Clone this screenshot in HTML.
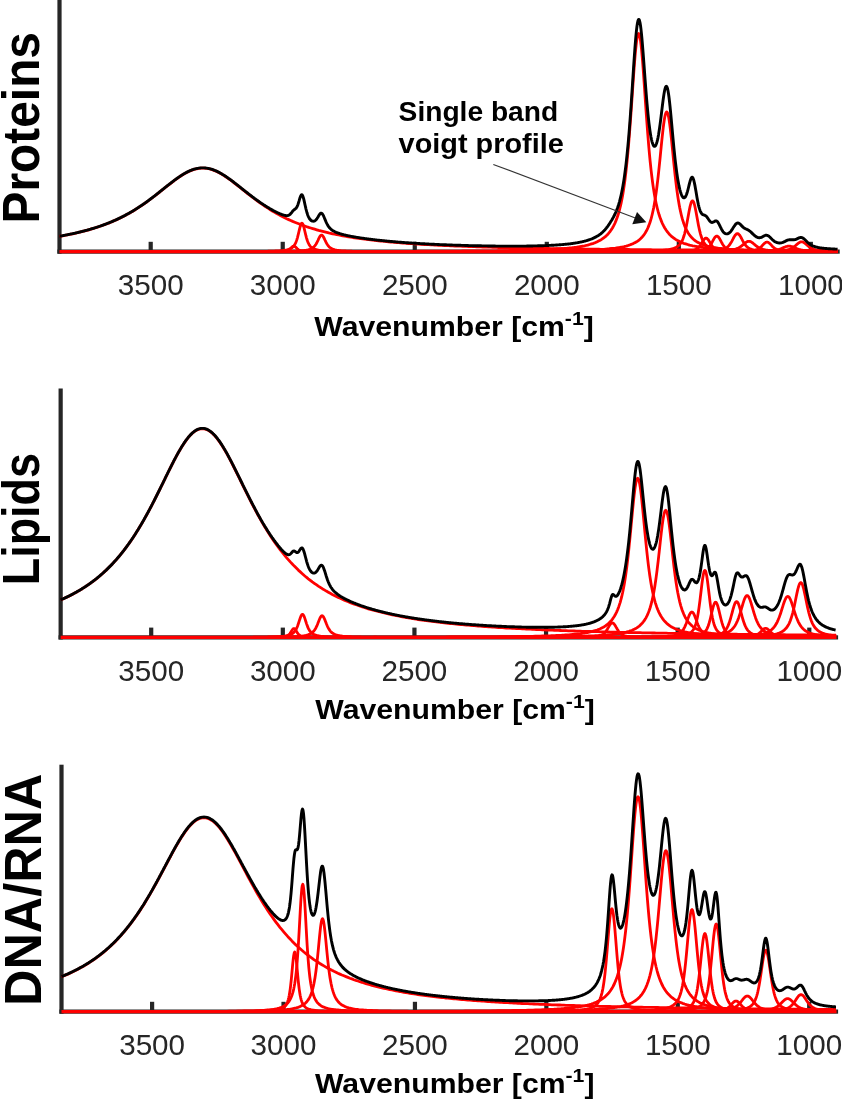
<!DOCTYPE html><html><head><meta charset="utf-8"><title>Spectra</title><style>html,body{margin:0;padding:0;background:#fff}svg{display:block;will-change:transform}text{font-family:"Liberation Sans",sans-serif}</style></head><body>
<svg width="842" height="1101" viewBox="0 0 842 1101">
<rect width="842" height="1101" fill="#fff"/>
<!-- panel Proteins -->
<rect x="57.40" y="-5" width="4.2" height="258.7" fill="#262626"/>
<rect x="57.40" y="249.5" width="782.30" height="4.2" fill="#262626"/>
<rect x="148.60" y="241.8" width="4.2" height="9.8" fill="#262626"/>
<text x="150.7" y="294.9" font-size="29.6" text-anchor="middle" fill="#262626">3500</text>
<rect x="280.63" y="241.8" width="4.2" height="9.8" fill="#262626"/>
<text x="282.7" y="294.9" font-size="29.6" text-anchor="middle" fill="#262626">3000</text>
<rect x="412.66" y="241.8" width="4.2" height="9.8" fill="#262626"/>
<text x="414.8" y="294.9" font-size="29.6" text-anchor="middle" fill="#262626">2500</text>
<rect x="544.69" y="241.8" width="4.2" height="9.8" fill="#262626"/>
<text x="546.8" y="294.9" font-size="29.6" text-anchor="middle" fill="#262626">2000</text>
<rect x="676.72" y="241.8" width="4.2" height="9.8" fill="#262626"/>
<text x="678.8" y="294.9" font-size="29.6" text-anchor="middle" fill="#262626">1500</text>
<rect x="808.75" y="241.8" width="4.2" height="9.8" fill="#262626"/>
<text x="810.9" y="294.9" font-size="29.6" text-anchor="middle" fill="#262626">1000</text>
<path d="M59.5,251.6 L838.0,251.6" fill="none" stroke="#ff0000" stroke-width="3.4"/>
<path d="M59.5,236.3 60.7,236.1 62.7,235.8 64.7,235.4 66.7,235 68.7,234.6 70.7,234.2 72.7,233.8 74.7,233.3 76.7,232.9 78.7,232.4 80.7,231.9 82.7,231.4 84.7,230.9 86.7,230.4 88.7,229.8 90.7,229.2 92.7,228.6 94.7,228 96.7,227.4 98.7,226.7 100.7,226 102.7,225.3 104.7,224.6 106.7,223.8 108.7,223.1 110.7,222.2 112.7,221.4 114.7,220.5 116.7,219.6 118.7,218.7 120.7,217.7 122.7,216.7 124.7,215.7 126.7,214.6 128.7,213.5 130.7,212.4 132.7,211.2 134.7,210 136.7,208.7 138.7,207.4 140.7,206.1 142.7,204.8 144.7,203.4 146.7,202 148.7,200.5 150.7,199 152.7,197.5 154.7,196 156.7,194.4 158.7,192.8 160.7,191.2 162.7,189.6 164.7,188 166.7,186.4 168.7,184.9 170.7,183.3 172.7,181.8 174.7,180.2 176.7,178.8 178.7,177.4 180.7,176 182.7,174.8 184.7,173.6 186.7,172.5 188.7,171.5 190.7,170.6 192.7,169.9 194.7,169.2 196.7,168.8 198.7,168.4 200.7,168.2 202.7,168.1 204.7,168.2 206.7,168.4 208.7,168.7 210.7,169.2 212.7,169.9 214.7,170.6 216.7,171.5 218.7,172.5 220.7,173.6 222.7,174.7 224.7,176 226.7,177.4 228.7,178.8 230.7,180.2 232.7,181.7 234.7,183.3 236.7,184.8 238.7,186.4 240.7,188 242.7,189.6 244.7,191.2 246.7,192.8 248.7,194.4 250.7,195.9 252.7,197.5 254.7,199 256.7,200.5 258.7,201.9 260.7,203.4 262.7,204.7 264.7,206.1 266.7,207.4 268.7,208.7 270.7,210 272.7,211.2 274.7,212.3 276.7,213.5 278.7,214.6 280.7,215.7 282.7,216.7 284.7,217.7 286.7,218.7 288.7,219.6 290.7,220.5 292.7,221.4 294.7,222.2 296.7,223 298.7,223.8 300.7,224.6 302.7,225.3 304.7,226 306.7,226.7 308.7,227.4 310.7,228 312.7,228.6 314.7,229.2 316.7,229.8 318.7,230.4 320.7,230.9 322.7,231.4 324.7,231.9 326.7,232.4 328.7,232.9 330.7,233.3 332.7,233.8 334.7,234.2 336.7,234.6 338.7,235 340.7,235.4 342.7,235.8 344.7,236.1 346.7,236.5 348.7,236.8 350.7,237.1 352.7,237.5 354.7,237.8 356.7,238.1 358.7,238.4 360.7,238.6 362.7,238.9 364.7,239.2 366.7,239.4 368.7,239.7 370.7,239.9 372.7,240.2 374.7,240.4 376.7,240.6 378.7,240.8 380.7,241 382.7,241.2 384.7,241.4 386.7,241.6 388.7,241.8 390.7,242 392.7,242.2 394.7,242.4 396.7,242.5 398.7,242.7 400.7,242.9 402.7,243 404.7,243.2 406.7,243.3 408.7,243.5 410.7,243.6 412.7,243.7 414.7,243.9 416.7,244 418.7,244.1 420.7,244.3 422.7,244.4 424.7,244.5 426.7,244.6 428.7,244.7 430.7,244.8 432.7,244.9 434.7,245 436.7,245.2 438.7,245.3 440.7,245.4 442.7,245.4 444.7,245.5 446.7,245.6 448.7,245.7 450.7,245.8 452.7,245.9 454.7,246 456.7,246.1 458.7,246.1 460.7,246.2 462.7,246.3 464.7,246.4 466.7,246.4 468.7,246.5 470.7,246.6 472.7,246.7 474.7,246.7 476.7,246.8 478.7,246.9 480.7,246.9 482.7,247 484.7,247.1 486.7,247.1 488.7,247.2 490.7,247.2 492.7,247.3 494.7,247.3 496.7,247.4 498.7,247.5 500.7,247.5 502.7,247.6 504.7,247.6 506.7,247.7 508.7,247.7 510.7,247.8 512.7,247.8 514.7,247.8 516.7,247.9 518.7,247.9 520.7,248 522.7,248 524.7,248.1 526.7,248.1 528.7,248.1 530.7,248.2 532.7,248.2 534.7,248.3 536.7,248.3 538.7,248.3 540.7,248.4 542.7,248.4 544.7,248.5 546.7,248.5 548.7,248.5 550.7,248.6 552.7,248.6 554.7,248.6 556.7,248.7 558.7,248.7 560.7,248.7 562.7,248.7 564.7,248.8 566.7,248.8 568.7,248.8 570.7,248.9 572.7,248.9 574.7,248.9 576.7,249 578.7,249 580.7,249 582.7,249 584.7,249.1 586.7,249.1 588.7,249.1 590.7,249.1 592.7,249.2 594.7,249.2 596.7,249.2 598.7,249.2 600.7,249.3 602.7,249.3 604.7,249.3 606.7,249.3 608.7,249.3 610.7,249.4 612.7,249.4 614.7,249.4 616.7,249.4 618.7,249.4 620.7,249.5 622.7,249.5 624.7,249.5 626.7,249.5 628.7,249.5 630.7,249.6 632.7,249.6 634.7,249.6 636.7,249.6 638.7,249.6 640.7,249.7 642.7,249.7 644.7,249.7 646.7,249.7 648.7,249.7 650.7,249.7 652.7,249.8 654.7,249.8 656.7,249.8 658.7,249.8 660.7,249.8 662.7,249.8 664.7,249.8 666.7,249.9 668.7,249.9 670.7,249.9 672.7,249.9 674.7,249.9 676.7,249.9 678.7,249.9 680.7,250 682.7,250 684.7,250 686.7,250 688.7,250 690.7,250 692.7,250 694.7,250 696.7,250.1 698.7,250.1 700.7,250.1 702.7,250.1 704.7,250.1 706.7,250.1 708.7,250.1 710.7,250.1 712.7,250.2 714.7,250.2 716.7,250.2 718.7,250.2 720.7,250.2 722.7,250.2 724.7,250.2 726.7,250.2 728.7,250.2 730.7,250.3 732.7,250.3 734.7,250.3 736.7,250.3 738.7,250.3 740.7,250.3 742.7,250.3 744.7,250.3 746.7,250.3 748.7,250.3 750.7,250.3 752.7,250.4 754.7,250.4 756.7,250.4 758.7,250.4 760.7,250.4 762.7,250.4 764.7,250.4 766.7,250.4 768.7,250.4 770.7,250.4 772.7,250.4 774.7,250.4 776.7,250.5 778.7,250.5 780.7,250.5 782.7,250.5 784.7,250.5 786.7,250.5 788.7,250.5 790.7,250.5 792.7,250.5 794.7,250.5 796.7,250.5 798.7,250.5 800.7,250.5 802.7,250.6 804.7,250.6 806.7,250.6 808.7,250.6 810.7,250.6 812.7,250.6 814.7,250.6 816.7,250.6 818.7,250.6 820.7,250.6 822.7,250.6 824.7,250.6 826.7,250.6 828.7,250.6 830.7,250.6 832.7,250.6 834.7,250.7 836.7,250.7 837.5,250.7" fill="none" stroke="#ff0000" stroke-width="2.8" stroke-linejoin="round"/>
<path d="M276.8,251.5 277.3,251.4 278.3,251.4 279.3,251.4 280.3,251.4 281.3,251.3 281.8,251.3 282.3,251.3 282.8,251.3 283.3,251.2 283.8,251.2 284.3,251.1 284.8,251.1 285.3,251 285.8,250.9 286.3,250.8 286.8,250.7 287.3,250.6 287.8,250.4 288.3,250.2 288.8,249.9 289.3,249.6 289.8,249.2 290.3,248.8 290.8,248.3 291.3,247.8 291.8,247.3 292.3,246.8 292.8,246.4 293.3,246.2 293.8,246.1 294.3,246.2 294.8,246.4 295.3,246.8 295.8,247.2 296.3,247.8 296.8,248.3 297.3,248.8 297.8,249.2 298.3,249.6 298.8,249.9 299.3,250.2 299.8,250.4 300.3,250.6 300.8,250.7 301.3,250.8 301.8,250.9 302.3,251 302.8,251.1 303.3,251.1 303.8,251.2 304.3,251.2 304.8,251.2 305.3,251.3 305.8,251.3 306.3,251.3 307.3,251.4 308.3,251.4 309.3,251.4 310.3,251.4 310.9,251.5" fill="none" stroke="#ff0000" stroke-width="2.8" stroke-linejoin="round"/>
<path d="M252,251.4 252.9,251.4 255.4,251.4 257.9,251.4 260.4,251.4 261.4,251.4 262.4,251.3 263.4,251.3 264.4,251.3 265.4,251.3 266.4,251.3 267.4,251.3 268.4,251.2 269.4,251.2 270.4,251.2 271.4,251.2 272.4,251.1 273.4,251.1 274.4,251.1 275.4,251 276.4,251 277.4,250.9 278.4,250.9 279.4,250.8 280.4,250.7 281.4,250.7 282.4,250.6 283.4,250.4 284.4,250.3 285.4,250.2 286.4,250 286.9,249.9 287.4,249.7 287.9,249.6 288.4,249.5 288.9,249.3 289.4,249.1 289.9,248.9 290.4,248.7 290.9,248.4 291.4,248.1 291.9,247.8 292.4,247.4 292.9,247 293.4,246.4 293.9,245.8 294.4,245.1 294.9,244.3 295.4,243.4 295.9,242.2 296.4,240.9 296.9,239.5 297.4,237.8 297.9,235.9 298.4,233.9 298.9,231.7 299.4,229.6 299.9,227.6 300.4,225.8 300.9,224.4 301.4,223.4 301.9,223.1 302.4,223.4 302.9,224.2 303.4,225.6 303.9,227.3 304.4,229.4 304.9,231.5 305.4,233.6 305.9,235.7 306.4,237.6 306.9,239.3 307.4,240.8 307.9,242.1 308.4,243.2 308.9,244.2 309.4,245.1 309.9,245.8 310.4,246.4 310.9,246.9 311.4,247.4 311.9,247.7 312.4,248.1 312.9,248.4 313.4,248.7 313.9,248.9 314.4,249.1 314.9,249.3 315.4,249.4 315.9,249.6 316.4,249.7 316.9,249.8 317.4,250 318.4,250.1 319.4,250.3 320.4,250.4 321.4,250.6 322.4,250.7 323.4,250.7 324.4,250.8 325.4,250.9 326.4,250.9 327.4,251 328.4,251 329.4,251.1 330.4,251.1 331.4,251.1 332.4,251.2 333.4,251.2 334.4,251.2 335.4,251.2 336.4,251.3 337.4,251.3 338.4,251.3 339.4,251.3 340.4,251.3 341.4,251.3 342.4,251.4 343.4,251.4 345.9,251.4 348.4,251.4 350.9,251.4 351.9,251.4" fill="none" stroke="#ff0000" stroke-width="2.8" stroke-linejoin="round"/>
<path d="M277.9,251.4 278.5,251.4 279.5,251.4 280.5,251.4 281.5,251.4 282.5,251.4 283.5,251.4 284.5,251.4 285.5,251.3 286.5,251.3 287.5,251.3 288.5,251.3 289.5,251.3 290.5,251.3 291.5,251.2 292.5,251.2 293.5,251.2 294.5,251.1 295.5,251.1 296.5,251.1 297.5,251 298.5,251 299.5,250.9 300.5,250.9 301.5,250.8 302.5,250.7 303.5,250.6 304,250.5 304.5,250.5 305,250.4 305.5,250.4 306,250.3 306.5,250.2 307,250.1 307.5,250 308,249.9 308.5,249.7 309,249.6 309.5,249.5 310,249.3 310.5,249.1 311,248.9 311.5,248.6 312,248.3 312.5,248 313,247.6 313.5,247.2 314,246.8 314.5,246.2 315,245.6 315.5,244.9 316,244.2 316.5,243.3 317,242.3 317.5,241.3 318,240.3 318.5,239.2 319,238.2 319.5,237.2 320,236.3 320.5,235.7 321,235.3 321.5,235.1 322,235.2 322.5,235.6 323,236.2 323.5,237 324,238 324.5,239 325,240.1 325.5,241.1 326,242.2 326.5,243.1 327,244 327.5,244.8 328,245.5 328.5,246.1 329,246.7 329.5,247.2 330,247.6 330.5,247.9 331,248.3 331.5,248.6 332,248.8 332.5,249 333,249.2 333.5,249.4 334,249.6 334.5,249.7 335,249.9 335.5,250 336,250.1 336.5,250.2 337,250.3 337.5,250.3 338,250.4 338.5,250.5 339,250.5 339.5,250.6 340.5,250.7 341.5,250.8 342.5,250.9 343.5,250.9 344.5,251 345.5,251 346.5,251.1 347.5,251.1 348.5,251.1 349.5,251.2 350.5,251.2 351.5,251.2 352.5,251.3 353.5,251.3 354.5,251.3 355.5,251.3 356.5,251.3 357.5,251.3 358.5,251.4 359.5,251.4 360.5,251.4 361.5,251.4 362.5,251.4 363.5,251.4 364.5,251.4 365.2,251.4" fill="none" stroke="#ff0000" stroke-width="2.8" stroke-linejoin="round"/>
<path d="M593.3,251.5 593.5,251.5 594,251.5 594.5,251.4 595,251.4 595.5,251.4 596,251.4 596.5,251.4 597,251.4 597.5,251.4 598,251.3 598.5,251.3 599,251.3 599.5,251.3 600,251.2 600.5,251.2 601,251.2 601.5,251.1 602,251.1 602.5,251 603,250.9 603.5,250.8 604,250.7 604.5,250.6 605,250.5 605.5,250.4 606,250.2 606.5,250.1 607,249.9 607.5,249.7 608,249.5 608.5,249.4 609,249.2 609.5,249 610,248.9 610.5,248.8 611,248.7 611.5,248.6 612,248.6 612.5,248.6 613,248.7 613.5,248.8 614,248.9 614.5,249 615,249.2 615.5,249.4 616,249.5 616.5,249.7 617,249.9 617.5,250.1 618,250.2 618.5,250.4 619,250.5 619.5,250.6 620,250.7 620.5,250.8 621,250.9 621.5,251 622,251.1 622.5,251.1 623,251.2 623.5,251.2 624,251.2 624.5,251.3 625,251.3 625.5,251.3 626,251.3 626.5,251.4 627,251.4 627.5,251.4 628,251.4 628.5,251.4 629,251.4 629.5,251.4 630,251.5 630.5,251.5 630.7,251.5" fill="none" stroke="#ff0000" stroke-width="2.8" stroke-linejoin="round"/>
<path d="M328.4,251.4 330.1,251.4 336.1,251.4 342.1,251.4 348.1,251.4 354.1,251.4 360.1,251.4 366.1,251.4 372.1,251.4 378.1,251.3 384.1,251.3 390.1,251.3 396.1,251.3 402.1,251.3 408.1,251.3 410.6,251.3 413.1,251.3 415.6,251.3 418.1,251.2 420.6,251.2 423.1,251.2 425.6,251.2 428.1,251.2 430.6,251.2 433.1,251.2 435.6,251.2 438.1,251.2 440.6,251.2 443.1,251.1 445.6,251.1 448.1,251.1 450.6,251.1 453.1,251.1 455.6,251.1 458.1,251.1 460.6,251.1 463.1,251 465.6,251 468.1,251 470.6,251 473.1,251 475.6,251 478.1,250.9 480.6,250.9 483.1,250.9 485.6,250.9 488.1,250.8 490.6,250.8 493.1,250.8 495.6,250.8 498.1,250.7 500.6,250.7 503.1,250.7 505.6,250.6 508.1,250.6 510.6,250.5 513.1,250.5 515.6,250.5 518.1,250.4 520.6,250.4 523.1,250.3 525.6,250.3 528.1,250.2 530.6,250.1 533.1,250.1 535.6,250 538.1,249.9 540.6,249.8 543.1,249.7 545.6,249.6 546.6,249.6 547.6,249.5 548.6,249.5 549.6,249.4 550.6,249.4 551.6,249.3 552.6,249.3 553.6,249.2 554.6,249.2 555.6,249.1 556.6,249 557.6,249 558.6,248.9 559.6,248.9 560.6,248.8 561.6,248.7 562.6,248.6 563.6,248.6 564.6,248.5 565.6,248.4 566.6,248.3 567.6,248.2 568.6,248.1 569.6,248 570.6,247.9 571.6,247.8 572.6,247.7 573.6,247.6 574.6,247.4 575.6,247.3 576.6,247.2 577.6,247 578.6,246.9 579.6,246.7 580.6,246.5 581.6,246.4 582.6,246.2 583.6,246 584.6,245.8 585.6,245.5 586.6,245.3 587.6,245.1 588.6,244.8 589.6,244.5 590.6,244.2 591.6,243.9 592.6,243.6 593.6,243.3 594.6,242.9 595.6,242.5 596.6,242 597.6,241.6 598.6,241.1 599.6,240.6 600.6,240 601.6,239.4 602.6,238.7 603.6,238 604.1,237.6 604.6,237.2 605.1,236.8 605.6,236.4 606.1,235.9 606.6,235.4 607.1,235 607.6,234.4 608.1,233.9 608.6,233.3 609.1,232.7 609.6,232.1 610.1,231.5 610.6,230.8 611.1,230.1 611.6,229.3 612.1,228.5 612.6,227.7 613.1,226.8 613.6,225.9 614.1,224.9 614.6,223.9 615.1,222.8 615.6,221.6 616.1,220.4 616.6,219.1 617.1,217.7 617.6,216.3 618.1,214.8 618.6,213.1 619.1,211.4 619.6,209.5 620.1,207.5 620.6,205.4 621.1,203.2 621.6,200.8 622.1,198.2 622.6,195.5 623.1,192.5 623.6,189.4 624.1,186.1 624.6,182.5 625.1,178.7 625.6,174.6 626.1,170.3 626.6,165.7 627.1,160.8 627.6,155.6 628.1,150.1 628.6,144.3 629.1,138.2 629.6,131.8 630.1,125.2 630.6,118.3 631.1,111.3 631.6,104.1 632.1,96.8 632.6,89.5 633.1,82.2 633.6,75.1 634.1,68.2 634.6,61.7 635.1,55.7 635.6,50.1 636.1,45.3 636.6,41.2 637.1,37.9 637.6,35.5 638.1,34 638.6,33.5 639.1,34 639.6,35.5 640.1,37.9 640.6,41.2 641.1,45.3 641.6,50.1 642.1,55.7 642.6,61.7 643.1,68.2 643.6,75.1 644.1,82.2 644.6,89.5 645.1,96.8 645.6,104.1 646.1,111.3 646.6,118.3 647.1,125.2 647.6,131.8 648.1,138.2 648.6,144.3 649.1,150.1 649.6,155.6 650.1,160.8 650.6,165.7 651.1,170.3 651.6,174.6 652.1,178.7 652.6,182.5 653.1,186.1 653.6,189.4 654.1,192.5 654.6,195.5 655.1,198.2 655.6,200.8 656.1,203.2 656.6,205.4 657.1,207.5 657.6,209.5 658.1,211.4 658.6,213.1 659.1,214.8 659.6,216.3 660.1,217.7 660.6,219.1 661.1,220.4 661.6,221.6 662.1,222.8 662.6,223.9 663.1,224.9 663.6,225.9 664.1,226.8 664.6,227.7 665.1,228.5 665.6,229.3 666.1,230.1 666.6,230.8 667.1,231.5 667.6,232.1 668.1,232.7 668.6,233.3 669.1,233.9 669.6,234.4 670.1,235 670.6,235.4 671.1,235.9 671.6,236.4 672.1,236.8 672.6,237.2 673.1,237.6 673.6,238 674.6,238.7 675.6,239.4 676.6,240 677.6,240.6 678.6,241.1 679.6,241.6 680.6,242 681.6,242.5 682.6,242.9 683.6,243.3 684.6,243.6 685.6,243.9 686.6,244.2 687.6,244.5 688.6,244.8 689.6,245.1 690.6,245.3 691.6,245.5 692.6,245.8 693.6,246 694.6,246.2 695.6,246.4 696.6,246.5 697.6,246.7 698.6,246.9 699.6,247 700.6,247.2 701.6,247.3 702.6,247.4 703.6,247.6 704.6,247.7 705.6,247.8 706.6,247.9 707.6,248 708.6,248.1 709.6,248.2 710.6,248.3 711.6,248.4 712.6,248.5 713.6,248.6 714.6,248.6 715.6,248.7 716.6,248.8 717.6,248.9 718.6,248.9 719.6,249 720.6,249 721.6,249.1 722.6,249.2 723.6,249.2 724.6,249.3 725.6,249.3 726.6,249.4 727.6,249.4 728.6,249.5 729.6,249.5 730.6,249.6 731.6,249.6 734.1,249.7 736.6,249.8 739.1,249.9 741.6,250 744.1,250.1 746.6,250.1 749.1,250.2 751.6,250.3 754.1,250.3 756.6,250.4 759.1,250.4 761.6,250.5 764.1,250.5 766.6,250.5 769.1,250.6 771.6,250.6 774.1,250.7 776.6,250.7 779.1,250.7 781.6,250.8 784.1,250.8 786.6,250.8 789.1,250.8 791.6,250.9 794.1,250.9 796.6,250.9 799.1,250.9 801.6,251 804.1,251 806.6,251 809.1,251 811.6,251 814.1,251 816.6,251.1 819.1,251.1 821.6,251.1 824.1,251.1 826.6,251.1 829.1,251.1 831.6,251.1 834.1,251.1 836.6,251.2 837.5,251.2" fill="none" stroke="#ff0000" stroke-width="2.8" stroke-linejoin="round"/>
<path d="M435.6,251.4 438.2,251.4 444.2,251.4 450.2,251.4 452.7,251.4 455.2,251.4 457.7,251.4 460.2,251.4 462.7,251.4 465.2,251.4 467.7,251.4 470.2,251.4 472.7,251.4 475.2,251.3 477.7,251.3 480.2,251.3 482.7,251.3 485.2,251.3 487.7,251.3 490.2,251.3 492.7,251.3 495.2,251.3 497.7,251.3 500.2,251.3 502.7,251.3 505.2,251.2 507.7,251.2 510.2,251.2 512.7,251.2 515.2,251.2 517.7,251.2 520.2,251.2 522.7,251.2 525.2,251.1 527.7,251.1 530.2,251.1 532.7,251.1 535.2,251.1 537.7,251 540.2,251 542.7,251 545.2,251 547.7,250.9 550.2,250.9 552.7,250.9 555.2,250.9 557.7,250.8 560.2,250.8 562.7,250.7 565.2,250.7 567.7,250.7 570.2,250.6 572.7,250.6 575.2,250.5 577.7,250.4 580.2,250.4 581.2,250.3 582.2,250.3 583.2,250.3 584.2,250.2 585.2,250.2 586.2,250.2 587.2,250.1 588.2,250.1 589.2,250.1 590.2,250 591.2,250 592.2,249.9 593.2,249.9 594.2,249.9 595.2,249.8 596.2,249.8 597.2,249.7 598.2,249.6 599.2,249.6 600.2,249.5 601.2,249.5 602.2,249.4 603.2,249.3 604.2,249.3 605.2,249.2 606.2,249.1 607.2,249 608.2,248.9 609.2,248.8 610.2,248.7 611.2,248.6 612.2,248.5 613.2,248.4 614.2,248.3 615.2,248.2 616.2,248 617.2,247.9 618.2,247.7 619.2,247.6 620.2,247.4 621.2,247.2 622.2,247 623.2,246.8 624.2,246.6 625.2,246.3 626.2,246.1 627.2,245.8 628.2,245.5 629.2,245.2 630.2,244.8 631.2,244.4 632.2,244 633.2,243.6 634.2,243.1 634.7,242.8 635.2,242.6 635.7,242.3 636.2,242 636.7,241.7 637.2,241.4 637.7,241 638.2,240.7 638.7,240.3 639.2,239.9 639.7,239.5 640.2,239 640.7,238.6 641.2,238.1 641.7,237.5 642.2,237 642.7,236.4 643.2,235.8 643.7,235.2 644.2,234.5 644.7,233.7 645.2,233 645.7,232.1 646.2,231.3 646.7,230.3 647.2,229.3 647.7,228.3 648.2,227.1 648.7,225.9 649.2,224.6 649.7,223.2 650.2,221.7 650.7,220.1 651.2,218.4 651.7,216.5 652.2,214.5 652.7,212.3 653.2,210 653.7,207.6 654.2,204.9 654.7,202 655.2,199 655.7,195.7 656.2,192.2 656.7,188.5 657.2,184.5 657.7,180.3 658.2,176 658.7,171.4 659.2,166.7 659.7,161.8 660.2,156.8 660.7,151.7 661.2,146.7 661.7,141.7 662.2,136.9 662.7,132.3 663.2,127.9 663.7,124 664.2,120.5 664.7,117.5 665.2,115.1 665.7,113.3 666.2,112.3 666.7,111.9 667.2,112.3 667.7,113.3 668.2,115.1 668.7,117.5 669.2,120.5 669.7,124 670.2,127.9 670.7,132.3 671.2,136.9 671.7,141.7 672.2,146.7 672.7,151.7 673.2,156.8 673.7,161.8 674.2,166.7 674.7,171.4 675.2,176 675.7,180.3 676.2,184.5 676.7,188.5 677.2,192.2 677.7,195.7 678.2,199 678.7,202 679.2,204.9 679.7,207.6 680.2,210 680.7,212.3 681.2,214.5 681.7,216.5 682.2,218.4 682.7,220.1 683.2,221.7 683.7,223.2 684.2,224.6 684.7,225.9 685.2,227.1 685.7,228.3 686.2,229.3 686.7,230.3 687.2,231.3 687.7,232.1 688.2,233 688.7,233.7 689.2,234.5 689.7,235.2 690.2,235.8 690.7,236.4 691.2,237 691.7,237.5 692.2,238.1 692.7,238.6 693.2,239 693.7,239.5 694.2,239.9 694.7,240.3 695.2,240.7 695.7,241 696.2,241.4 696.7,241.7 697.2,242 697.7,242.3 698.2,242.6 698.7,242.8 699.2,243.1 700.2,243.6 701.2,244 702.2,244.4 703.2,244.8 704.2,245.2 705.2,245.5 706.2,245.8 707.2,246.1 708.2,246.3 709.2,246.6 710.2,246.8 711.2,247 712.2,247.2 713.2,247.4 714.2,247.6 715.2,247.7 716.2,247.9 717.2,248 718.2,248.2 719.2,248.3 720.2,248.4 721.2,248.5 722.2,248.6 723.2,248.7 724.2,248.8 725.2,248.9 726.2,249 727.2,249.1 728.2,249.2 729.2,249.3 730.2,249.3 731.2,249.4 732.2,249.5 733.2,249.5 734.2,249.6 735.2,249.6 736.2,249.7 737.2,249.8 738.2,249.8 739.2,249.9 740.2,249.9 741.2,249.9 742.2,250 743.2,250 744.2,250.1 745.2,250.1 746.2,250.1 747.2,250.2 748.2,250.2 749.2,250.2 750.2,250.3 751.2,250.3 752.2,250.3 753.2,250.4 755.7,250.4 758.2,250.5 760.7,250.6 763.2,250.6 765.7,250.7 768.2,250.7 770.7,250.7 773.2,250.8 775.7,250.8 778.2,250.9 780.7,250.9 783.2,250.9 785.7,250.9 788.2,251 790.7,251 793.2,251 795.7,251 798.2,251.1 800.7,251.1 803.2,251.1 805.7,251.1 808.2,251.1 810.7,251.2 813.2,251.2 815.7,251.2 818.2,251.2 820.7,251.2 823.2,251.2 825.7,251.2 828.2,251.2 830.7,251.3 833.2,251.3 835.7,251.3 837.5,251.3" fill="none" stroke="#ff0000" stroke-width="2.8" stroke-linejoin="round"/>
<path d="M601.4,251.5 603.5,251.5 606,251.5 608.5,251.4 611,251.4 613.5,251.4 616,251.4 618.5,251.4 621,251.4 623.5,251.4 626,251.4 628.5,251.3 631,251.3 633.5,251.3 636,251.3 637,251.2 638,251.2 639,251.2 640,251.2 641,251.2 642,251.2 643,251.2 644,251.1 645,251.1 646,251.1 647,251.1 648,251 649,251 650,251 651,251 652,250.9 653,250.9 654,250.9 655,250.8 656,250.8 657,250.7 658,250.7 659,250.6 660,250.6 661,250.5 662,250.4 663,250.3 664,250.2 665,250.1 666,250 667,249.9 668,249.8 669,249.6 670,249.4 671,249.2 671.5,249.1 672,248.9 672.5,248.8 673,248.6 673.5,248.5 674,248.3 674.5,248.1 675,247.9 675.5,247.7 676,247.4 676.5,247.1 677,246.8 677.5,246.5 678,246.1 678.5,245.7 679,245.2 679.5,244.7 680,244.1 680.5,243.5 681,242.7 681.5,241.9 682,240.9 682.5,239.9 683,238.7 683.5,237.3 684,235.8 684.5,234.1 685,232.2 685.5,230.1 686,227.8 686.5,225.4 687,222.8 687.5,220.1 688,217.3 688.5,214.5 689,211.8 689.5,209.2 690,206.9 690.5,204.8 691,203.1 691.5,201.8 692,201.1 692.5,200.8 693,201.1 693.5,201.8 694,203.1 694.5,204.8 695,206.9 695.5,209.2 696,211.8 696.5,214.5 697,217.3 697.5,220.1 698,222.8 698.5,225.4 699,227.8 699.5,230.1 700,232.2 700.5,234.1 701,235.8 701.5,237.3 702,238.7 702.5,239.9 703,240.9 703.5,241.9 704,242.7 704.5,243.5 705,244.1 705.5,244.7 706,245.2 706.5,245.7 707,246.1 707.5,246.5 708,246.8 708.5,247.1 709,247.4 709.5,247.7 710,247.9 710.5,248.1 711,248.3 711.5,248.5 712,248.6 712.5,248.8 713,248.9 713.5,249.1 714,249.2 715,249.4 716,249.6 717,249.8 718,249.9 719,250 720,250.1 721,250.2 722,250.3 723,250.4 724,250.5 725,250.6 726,250.6 727,250.7 728,250.7 729,250.8 730,250.8 731,250.9 732,250.9 733,250.9 734,251 735,251 736,251 737,251 738,251.1 739,251.1 740,251.1 741,251.1 742,251.2 743,251.2 744,251.2 745,251.2 746,251.2 747,251.2 748,251.2 749,251.3 751.5,251.3 754,251.3 756.5,251.3 759,251.4 761.5,251.4 764,251.4 766.5,251.4 769,251.4 771.5,251.4 774,251.4 776.5,251.4 779,251.5 781.5,251.5 783.6,251.5" fill="none" stroke="#ff0000" stroke-width="2.8" stroke-linejoin="round"/>
<path d="M666.4,251.5 667,251.5 668,251.5 669,251.5 670,251.5 671,251.5 672,251.4 673,251.4 674,251.4 675,251.4 676,251.4 677,251.4 678,251.4 679,251.3 680,251.3 681,251.3 682,251.3 683,251.2 684,251.2 685,251.2 686,251.1 687,251.1 688,251 688.5,251 689,250.9 689.5,250.9 690,250.8 690.5,250.8 691,250.7 691.5,250.7 692,250.6 692.5,250.5 693,250.4 693.5,250.3 694,250.2 694.5,250 695,249.8 695.5,249.6 696,249.4 696.5,249.1 697,248.8 697.5,248.5 698,248 698.5,247.6 699,247 699.5,246.4 700,245.7 700.5,245 701,244.2 701.5,243.4 702,242.5 702.5,241.7 703,240.9 703.5,240.1 704,239.4 704.5,238.9 705,238.4 705.5,238.2 706,238.1 706.5,238.2 707,238.4 707.5,238.9 708,239.4 708.5,240.1 709,240.9 709.5,241.7 710,242.5 710.5,243.4 711,244.2 711.5,245 712,245.7 712.5,246.4 713,247 713.5,247.6 714,248 714.5,248.5 715,248.8 715.5,249.1 716,249.4 716.5,249.6 717,249.8 717.5,250 718,250.2 718.5,250.3 719,250.4 719.5,250.5 720,250.6 720.5,250.7 721,250.7 721.5,250.8 722,250.8 722.5,250.9 723,250.9 723.5,251 724,251 725,251.1 726,251.1 727,251.2 728,251.2 729,251.2 730,251.3 731,251.3 732,251.3 733,251.3 734,251.4 735,251.4 736,251.4 737,251.4 738,251.4 739,251.4 740,251.4 741,251.5 742,251.5 743,251.5 744,251.5 745,251.5 745.6,251.5" fill="none" stroke="#ff0000" stroke-width="2.8" stroke-linejoin="round"/>
<path d="M672.4,251.5 672.8,251.5 673.8,251.5 674.8,251.5 675.8,251.5 676.8,251.5 677.8,251.4 678.8,251.4 679.8,251.4 680.8,251.4 681.8,251.4 682.8,251.4 683.8,251.4 684.8,251.4 685.8,251.4 686.8,251.3 687.8,251.3 688.8,251.3 689.8,251.3 690.8,251.2 691.8,251.2 692.8,251.2 693.8,251.1 694.8,251.1 695.8,251 696.8,251 697.8,250.9 698.3,250.9 698.8,250.8 699.3,250.8 699.8,250.7 700.3,250.7 700.8,250.6 701.3,250.5 701.8,250.5 702.3,250.4 702.8,250.3 703.3,250.2 703.8,250 704.3,249.9 704.8,249.7 705.3,249.6 705.8,249.3 706.3,249.1 706.8,248.8 707.3,248.5 707.8,248.1 708.3,247.7 708.8,247.2 709.3,246.6 709.8,246 710.3,245.3 710.8,244.5 711.3,243.7 711.8,242.8 712.3,241.9 712.8,240.9 713.3,240 713.8,239.1 714.3,238.3 714.8,237.5 715.3,236.9 715.8,236.5 716.3,236.2 716.8,236.1 717.3,236.2 717.8,236.5 718.3,236.9 718.8,237.5 719.3,238.3 719.8,239.1 720.3,240 720.8,240.9 721.3,241.9 721.8,242.8 722.3,243.7 722.8,244.5 723.3,245.3 723.8,246 724.3,246.6 724.8,247.2 725.3,247.7 725.8,248.1 726.3,248.5 726.8,248.8 727.3,249.1 727.8,249.3 728.3,249.6 728.8,249.7 729.3,249.9 729.8,250 730.3,250.2 730.8,250.3 731.3,250.4 731.8,250.5 732.3,250.5 732.8,250.6 733.3,250.7 733.8,250.7 734.3,250.8 734.8,250.8 735.3,250.9 735.8,250.9 736.8,251 737.8,251 738.8,251.1 739.8,251.1 740.8,251.2 741.8,251.2 742.8,251.2 743.8,251.3 744.8,251.3 745.8,251.3 746.8,251.3 747.8,251.4 748.8,251.4 749.8,251.4 750.8,251.4 751.8,251.4 752.8,251.4 753.8,251.4 754.8,251.4 755.8,251.4 756.8,251.5 757.8,251.5 758.8,251.5 759.8,251.5 760.8,251.5 761.2,251.5" fill="none" stroke="#ff0000" stroke-width="2.8" stroke-linejoin="round"/>
<path d="M681.4,251.5 682.4,251.5 683.4,251.5 684.4,251.4 685.4,251.4 686.4,251.4 687.4,251.4 688.4,251.4 689.4,251.4 690.4,251.4 691.4,251.4 692.4,251.4 693.4,251.4 694.4,251.4 695.4,251.4 696.4,251.3 697.4,251.3 698.4,251.3 699.4,251.3 700.4,251.3 701.4,251.3 702.4,251.2 703.4,251.2 704.4,251.2 705.4,251.2 706.4,251.2 707.4,251.1 708.4,251.1 709.4,251 710.4,251 711.4,251 712.4,250.9 713.4,250.8 714.4,250.8 715.4,250.7 715.9,250.7 716.4,250.6 716.9,250.6 717.4,250.5 717.9,250.4 718.4,250.4 718.9,250.3 719.4,250.2 719.9,250.2 720.4,250.1 720.9,250 721.4,249.9 721.9,249.7 722.4,249.6 722.9,249.5 723.4,249.3 723.9,249.1 724.4,248.9 724.9,248.7 725.4,248.5 725.9,248.2 726.4,247.9 726.9,247.5 727.4,247.1 727.9,246.7 728.4,246.2 728.9,245.6 729.4,245 729.9,244.4 730.4,243.6 730.9,242.8 731.4,242 731.9,241.1 732.4,240.1 732.9,239.2 733.4,238.2 733.9,237.3 734.4,236.4 734.9,235.6 735.4,234.9 735.9,234.4 736.4,233.9 736.9,233.7 737.4,233.6 737.9,233.7 738.4,233.9 738.9,234.4 739.4,234.9 739.9,235.6 740.4,236.4 740.9,237.3 741.4,238.2 741.9,239.2 742.4,240.1 742.9,241.1 743.4,242 743.9,242.8 744.4,243.6 744.9,244.4 745.4,245 745.9,245.6 746.4,246.2 746.9,246.7 747.4,247.1 747.9,247.5 748.4,247.9 748.9,248.2 749.4,248.5 749.9,248.7 750.4,248.9 750.9,249.1 751.4,249.3 751.9,249.5 752.4,249.6 752.9,249.7 753.4,249.9 753.9,250 754.4,250.1 754.9,250.2 755.4,250.2 755.9,250.3 756.4,250.4 756.9,250.4 757.4,250.5 757.9,250.6 758.4,250.6 758.9,250.7 759.4,250.7 760.4,250.8 761.4,250.8 762.4,250.9 763.4,251 764.4,251 765.4,251 766.4,251.1 767.4,251.1 768.4,251.2 769.4,251.2 770.4,251.2 771.4,251.2 772.4,251.2 773.4,251.3 774.4,251.3 775.4,251.3 776.4,251.3 777.4,251.3 778.4,251.3 779.4,251.4 780.4,251.4 781.4,251.4 782.4,251.4 783.4,251.4 784.4,251.4 785.4,251.4 786.4,251.4 787.4,251.4 788.4,251.4 789.4,251.4 790.4,251.4 791.4,251.5 792.4,251.5 793.4,251.5" fill="none" stroke="#ff0000" stroke-width="2.8" stroke-linejoin="round"/>
<path d="M694.6,251.4 695.4,251.4 696.4,251.4 697.4,251.4 698.4,251.4 699.4,251.4 700.4,251.4 701.4,251.4 702.4,251.4 703.4,251.4 704.4,251.4 705.4,251.3 706.4,251.3 707.4,251.3 708.4,251.3 709.4,251.3 710.4,251.3 711.4,251.3 712.4,251.2 713.4,251.2 714.4,251.2 715.4,251.2 716.4,251.1 717.4,251.1 718.4,251.1 719.4,251 720.4,251 720.9,251 721.4,251 721.9,250.9 722.4,250.9 722.9,250.9 723.4,250.9 723.9,250.8 724.4,250.8 724.9,250.8 725.4,250.7 725.9,250.7 726.4,250.7 726.9,250.6 727.4,250.6 727.9,250.5 728.4,250.5 728.9,250.4 729.4,250.4 729.9,250.3 730.4,250.2 730.9,250.2 731.4,250.1 731.9,250 732.4,249.9 732.9,249.8 733.4,249.7 733.9,249.6 734.4,249.5 734.9,249.3 735.4,249.2 735.9,249 736.4,248.8 736.9,248.6 737.4,248.4 737.9,248.2 738.4,248 738.9,247.7 739.4,247.4 739.9,247.1 740.4,246.8 740.9,246.4 741.4,246 741.9,245.7 742.4,245.2 742.9,244.8 743.4,244.4 743.9,244 744.4,243.6 744.9,243.1 745.4,242.8 745.9,242.4 746.4,242.1 746.9,241.8 747.4,241.6 747.9,241.4 748.4,241.3 748.9,241.3 749.4,241.3 749.9,241.4 750.4,241.6 750.9,241.8 751.4,242.1 751.9,242.4 752.4,242.8 752.9,243.1 753.4,243.6 753.9,244 754.4,244.4 754.9,244.8 755.4,245.2 755.9,245.7 756.4,246 756.9,246.4 757.4,246.8 757.9,247.1 758.4,247.4 758.9,247.7 759.4,248 759.9,248.2 760.4,248.4 760.9,248.6 761.4,248.8 761.9,249 762.4,249.2 762.9,249.3 763.4,249.5 763.9,249.6 764.4,249.7 764.9,249.8 765.4,249.9 765.9,250 766.4,250.1 766.9,250.2 767.4,250.2 767.9,250.3 768.4,250.4 768.9,250.4 769.4,250.5 769.9,250.5 770.4,250.6 770.9,250.6 771.4,250.7 771.9,250.7 772.4,250.7 772.9,250.8 773.4,250.8 773.9,250.8 774.4,250.9 774.9,250.9 775.4,250.9 775.9,250.9 776.4,251 776.9,251 777.4,251 778.4,251 779.4,251.1 780.4,251.1 781.4,251.1 782.4,251.2 783.4,251.2 784.4,251.2 785.4,251.2 786.4,251.3 787.4,251.3 788.4,251.3 789.4,251.3 790.4,251.3 791.4,251.3 792.4,251.3 793.4,251.4 794.4,251.4 795.4,251.4 796.4,251.4 797.4,251.4 798.4,251.4 799.4,251.4 800.4,251.4 801.4,251.4 802.4,251.4 803.2,251.4" fill="none" stroke="#ff0000" stroke-width="2.8" stroke-linejoin="round"/>
<path d="M729.6,251.5 730.5,251.5 731.5,251.5 732.5,251.4 733.5,251.4 734.5,251.4 735.5,251.4 736.5,251.4 737.5,251.4 738.5,251.4 739.5,251.4 740.5,251.3 741.5,251.3 742.5,251.3 743.5,251.3 744.5,251.2 745.5,251.2 746.5,251.2 747,251.1 747.5,251.1 748,251.1 748.5,251 749,251 749.5,251 750,250.9 750.5,250.9 751,250.8 751.5,250.8 752,250.7 752.5,250.7 753,250.6 753.5,250.5 754,250.4 754.5,250.3 755,250.2 755.5,250.1 756,249.9 756.5,249.8 757,249.6 757.5,249.4 758,249.1 758.5,248.8 759,248.5 759.5,248.2 760,247.8 760.5,247.3 761,246.9 761.5,246.4 762,245.9 762.5,245.3 763,244.8 763.5,244.3 764,243.8 764.5,243.3 765,242.9 765.5,242.6 766,242.3 766.5,242.2 767,242.1 767.5,242.2 768,242.3 768.5,242.6 769,242.9 769.5,243.3 770,243.8 770.5,244.3 771,244.8 771.5,245.3 772,245.9 772.5,246.4 773,246.9 773.5,247.3 774,247.8 774.5,248.2 775,248.5 775.5,248.8 776,249.1 776.5,249.4 777,249.6 777.5,249.8 778,249.9 778.5,250.1 779,250.2 779.5,250.3 780,250.4 780.5,250.5 781,250.6 781.5,250.7 782,250.7 782.5,250.8 783,250.8 783.5,250.9 784,250.9 784.5,251 785,251 785.5,251 786,251.1 786.5,251.1 787,251.1 787.5,251.2 788.5,251.2 789.5,251.2 790.5,251.3 791.5,251.3 792.5,251.3 793.5,251.3 794.5,251.4 795.5,251.4 796.5,251.4 797.5,251.4 798.5,251.4 799.5,251.4 800.5,251.4 801.5,251.4 802.5,251.5 803.5,251.5 804.4,251.5" fill="none" stroke="#ff0000" stroke-width="2.8" stroke-linejoin="round"/>
<path d="M747.7,251.4 748,251.4 749,251.4 750,251.4 751,251.4 752,251.4 753,251.4 754,251.4 755,251.3 756,251.3 757,251.3 758,251.3 759,251.3 759.5,251.3 760,251.3 760.5,251.2 761,251.2 761.5,251.2 762,251.2 762.5,251.2 763,251.2 763.5,251.2 764,251.1 764.5,251.1 765,251.1 765.5,251.1 766,251.1 766.5,251 767,251 767.5,251 768,251 768.5,250.9 769,250.9 769.5,250.9 770,250.8 770.5,250.8 771,250.7 771.5,250.7 772,250.6 772.5,250.6 773,250.5 773.5,250.5 774,250.4 774.5,250.3 775,250.3 775.5,250.2 776,250.1 776.5,250 777,249.9 777.5,249.8 778,249.6 778.5,249.5 779,249.4 779.5,249.2 780,249 780.5,248.9 781,248.7 781.5,248.5 782,248.3 782.5,248.1 783,247.8 783.5,247.6 784,247.4 784.5,247.2 785,247 785.5,246.8 786,246.6 786.5,246.5 787,246.4 787.5,246.2 788,246.2 788.5,246.1 789,246.1 789.5,246.1 790,246.2 790.5,246.2 791,246.4 791.5,246.5 792,246.6 792.5,246.8 793,247 793.5,247.2 794,247.4 794.5,247.6 795,247.8 795.5,248.1 796,248.3 796.5,248.5 797,248.7 797.5,248.9 798,249 798.5,249.2 799,249.4 799.5,249.5 800,249.6 800.5,249.8 801,249.9 801.5,250 802,250.1 802.5,250.2 803,250.3 803.5,250.3 804,250.4 804.5,250.5 805,250.5 805.5,250.6 806,250.6 806.5,250.7 807,250.7 807.5,250.8 808,250.8 808.5,250.9 809,250.9 809.5,250.9 810,251 810.5,251 811,251 811.5,251 812,251.1 812.5,251.1 813,251.1 813.5,251.1 814,251.1 814.5,251.2 815,251.2 815.5,251.2 816,251.2 816.5,251.2 817,251.2 817.5,251.2 818,251.3 818.5,251.3 819,251.3 820,251.3 821,251.3 822,251.3 823,251.3 824,251.4 825,251.4 826,251.4 827,251.4 828,251.4 829,251.4 830,251.4 830.3,251.4" fill="none" stroke="#ff0000" stroke-width="2.8" stroke-linejoin="round"/>
<path d="M753.2,251.4 753.6,251.4 754.6,251.4 755.6,251.4 756.6,251.4 757.6,251.4 758.6,251.4 759.6,251.4 760.6,251.4 761.6,251.4 762.6,251.4 763.6,251.3 764.6,251.3 765.6,251.3 766.6,251.3 767.6,251.3 768.6,251.3 769.6,251.2 770.6,251.2 771.6,251.2 772.6,251.2 773.6,251.1 774.6,251.1 775.6,251.1 776.1,251 776.6,251 777.1,251 777.6,251 778.1,250.9 778.6,250.9 779.1,250.9 779.6,250.8 780.1,250.8 780.6,250.8 781.1,250.7 781.6,250.7 782.1,250.6 782.6,250.6 783.1,250.5 783.6,250.5 784.1,250.4 784.6,250.4 785.1,250.3 785.6,250.2 786.1,250.1 786.6,250 787.1,249.9 787.6,249.8 788.1,249.7 788.6,249.5 789.1,249.4 789.6,249.2 790.1,249 790.6,248.8 791.1,248.6 791.6,248.4 792.1,248.1 792.6,247.8 793.1,247.5 793.6,247.1 794.1,246.8 794.6,246.4 795.1,246 795.6,245.6 796.1,245.1 796.6,244.7 797.1,244.2 797.6,243.8 798.1,243.4 798.6,243 799.1,242.7 799.6,242.4 800.1,242.1 800.6,241.9 801.1,241.8 801.6,241.8 802.1,241.8 802.6,241.9 803.1,242.1 803.6,242.4 804.1,242.7 804.6,243 805.1,243.4 805.6,243.8 806.1,244.2 806.6,244.7 807.1,245.1 807.6,245.6 808.1,246 808.6,246.4 809.1,246.8 809.6,247.1 810.1,247.5 810.6,247.8 811.1,248.1 811.6,248.4 812.1,248.6 812.6,248.8 813.1,249 813.6,249.2 814.1,249.4 814.6,249.5 815.1,249.7 815.6,249.8 816.1,249.9 816.6,250 817.1,250.1 817.6,250.2 818.1,250.3 818.6,250.4 819.1,250.4 819.6,250.5 820.1,250.5 820.6,250.6 821.1,250.6 821.6,250.7 822.1,250.7 822.6,250.8 823.1,250.8 823.6,250.8 824.1,250.9 824.6,250.9 825.1,250.9 825.6,251 826.1,251 826.6,251 827.1,251 827.6,251.1 828.6,251.1 829.6,251.1 830.6,251.2 831.6,251.2 832.6,251.2 833.6,251.2 834.6,251.3 835.6,251.3 836.6,251.3 837.5,251.3" fill="none" stroke="#ff0000" stroke-width="2.8" stroke-linejoin="round"/>
<path d="M59.5,236.2 60,236.2 60.5,236.1 61,236 61.5,235.9 62,235.8 62.5,235.7 63,235.6 63.5,235.5 64,235.4 64.5,235.3 65,235.2 65.5,235.1 66,235 66.5,234.9 67,234.8 67.5,234.8 68,234.7 68.5,234.5 69,234.4 69.5,234.3 70,234.2 70.5,234.1 71,234 71.5,233.9 72,233.8 72.5,233.7 73,233.6 73.5,233.5 74,233.4 74.5,233.3 75,233.2 75.5,233.1 76,232.9 76.5,232.8 77,232.7 77.5,232.6 78,232.5 78.5,232.4 79,232.2 79.5,232.1 80,232 80.5,231.9 81,231.7 81.5,231.6 82,231.5 82.5,231.4 83,231.2 83.5,231.1 84,231 84.5,230.9 85,230.7 85.5,230.6 86,230.4 86.5,230.3 87,230.2 87.5,230 88,229.9 88.5,229.8 89,229.6 89.5,229.5 90,229.3 90.5,229.2 91,229 91.5,228.9 92,228.7 92.5,228.6 93,228.4 93.5,228.3 94,228.1 94.5,228 95,227.8 95.5,227.7 96,227.5 96.5,227.3 97,227.2 97.5,227 98,226.8 98.5,226.7 99,226.5 99.5,226.3 100,226.2 100.5,226 101,225.8 101.5,225.6 102,225.5 102.5,225.3 103,225.1 103.5,224.9 104,224.7 104.5,224.6 105,224.4 105.5,224.2 106,224 106.5,223.8 107,223.6 107.5,223.4 108,223.2 108.5,223 109,222.8 109.5,222.6 110,222.4 110.5,222.2 111,222 111.5,221.8 112,221.6 112.5,221.4 113,221.1 113.5,220.9 114,220.7 114.5,220.5 115,220.3 115.5,220 116,219.8 116.5,219.6 117,219.4 117.5,219.1 118,218.9 118.5,218.6 119,218.4 119.5,218.2 120,217.9 120.5,217.7 121,217.4 121.5,217.2 122,216.9 122.5,216.7 123,216.4 123.5,216.2 124,215.9 124.5,215.7 125,215.4 125.5,215.1 126,214.9 126.5,214.6 127,214.3 127.5,214 128,213.8 128.5,213.5 129,213.2 129.5,212.9 130,212.6 130.5,212.3 131,212.1 131.5,211.8 132,211.5 132.5,211.2 133,210.9 133.5,210.6 134,210.3 134.5,210 135,209.7 135.5,209.3 136,209 136.5,208.7 137,208.4 137.5,208.1 138,207.8 138.5,207.4 139,207.1 139.5,206.8 140,206.4 140.5,206.1 141,205.8 141.5,205.4 142,205.1 142.5,204.8 143,204.4 143.5,204.1 144,203.7 144.5,203.4 145,203 145.5,202.7 146,202.3 146.5,202 147,201.6 147.5,201.2 148,200.9 148.5,200.5 149,200.1 149.5,199.8 150,199.4 150.5,199 151,198.6 151.5,198.3 152,197.9 152.5,197.5 153,197.1 153.5,196.7 154,196.3 154.5,196 155,195.6 155.5,195.2 156,194.8 156.5,194.4 157,194 157.5,193.6 158,193.2 158.5,192.8 159,192.4 159.5,192 160,191.6 160.5,191.2 161,190.8 161.5,190.4 162,190 162.5,189.6 163,189.2 163.5,188.8 164,188.4 164.5,188 165,187.6 165.5,187.2 166,186.8 166.5,186.4 167,186 167.5,185.6 168,185.2 168.5,184.8 169,184.4 169.5,184.1 170,183.7 170.5,183.3 171,182.9 171.5,182.5 172,182.1 172.5,181.7 173,181.3 173.5,181 174,180.6 174.5,180.2 175,179.8 175.5,179.5 176,179.1 176.5,178.8 177,178.4 177.5,178 178,177.7 178.5,177.3 179,177 179.5,176.7 180,176.3 180.5,176 181,175.7 181.5,175.3 182,175 182.5,174.7 183,174.4 183.5,174.1 184,173.8 184.5,173.5 185,173.2 185.5,172.9 186,172.7 186.5,172.4 187,172.1 187.5,171.9 188,171.6 188.5,171.4 189,171.2 189.5,170.9 190,170.7 190.5,170.5 191,170.3 191.5,170.1 192,169.9 192.5,169.7 193,169.6 193.5,169.4 194,169.2 194.5,169.1 195,169 195.5,168.8 196,168.7 196.5,168.6 197,168.5 197.5,168.4 198,168.3 198.5,168.2 199,168.1 199.5,168.1 200,168 200.5,168 201,167.9 201.5,167.9 202,167.9 202.5,167.9 203,167.9 203.5,167.9 204,167.9 204.5,167.9 205,168 205.5,168 206,168.1 206.5,168.1 207,168.2 207.5,168.3 208,168.4 208.5,168.5 209,168.6 209.5,168.7 210,168.8 210.5,168.9 211,169.1 211.5,169.2 212,169.4 212.5,169.5 213,169.7 213.5,169.9 214,170.1 214.5,170.3 215,170.5 215.5,170.7 216,170.9 216.5,171.1 217,171.4 217.5,171.6 218,171.9 218.5,172.1 219,172.4 219.5,172.6 220,172.9 220.5,173.2 221,173.5 221.5,173.8 222,174.1 222.5,174.4 223,174.7 223.5,175 224,175.3 224.5,175.6 225,175.9 225.5,176.3 226,176.6 226.5,176.9 227,177.3 227.5,177.6 228,178 228.5,178.3 229,178.7 229.5,179 230,179.4 230.5,179.8 231,180.1 231.5,180.5 232,180.9 232.5,181.3 233,181.6 233.5,182 234,182.4 234.5,182.8 235,183.2 235.5,183.6 236,183.9 236.5,184.3 237,184.7 237.5,185.1 238,185.5 238.5,185.9 239,186.3 239.5,186.7 240,187.1 240.5,187.5 241,187.9 241.5,188.3 242,188.7 242.5,189.1 243,189.5 243.5,189.9 244,190.3 244.5,190.7 245,191.1 245.5,191.5 246,191.8 246.5,192.2 247,192.6 247.5,193 248,193.4 248.5,193.8 249,194.2 249.5,194.6 250,195 250.5,195.3 251,195.7 251.5,196.1 252,196.5 252.5,196.9 253,197.2 253.5,197.6 254,198 254.5,198.4 255,198.7 255.5,199.1 256,199.5 256.5,199.8 257,200.2 257.5,200.5 258,200.9 258.5,201.3 259,201.6 259.5,202 260,202.3 260.5,202.7 261,203 261.5,203.3 262,203.7 262.5,204 263,204.3 263.5,204.7 264,205 264.5,205.3 265,205.6 265.5,206 266,206.3 266.5,206.6 267,206.9 267.5,207.2 268,207.5 268.5,207.8 269,208.1 269.5,208.4 270,208.7 270.5,209 271,209.3 271.5,209.6 272,209.9 272.5,210.1 273,210.4 273.5,210.7 274,211 274.5,211.2 275,211.5 275.5,211.7 276,212 276.5,212.2 277,212.5 277.5,212.7 278,213 278.5,213.2 279,213.4 279.5,213.6 280,213.8 280.5,214 281,214.2 281.5,214.4 282,214.6 282.5,214.8 283,214.9 283.5,215.1 284,215.2 284.5,215.3 285,215.4 285.5,215.5 286,215.6 286.5,215.6 287,215.6 287.5,215.6 288,215.5 288.5,215.3 289,215.1 289.5,214.8 290,214.4 290.5,213.9 291,213.3 291.5,212.7 292,212.1 292.5,211.4 293,210.8 293.5,210.3 294,209.9 294.5,209.5 295,209.1 295.5,208.7 296,208.3 296.5,207.6 297,206.8 297.5,205.7 298,204.4 298.5,202.8 299,201.2 299.5,199.4 300,197.8 300.5,196.4 301,195.4 301.5,194.8 302,194.8 302.5,195.4 303,196.6 303.5,198.2 304,200.2 304.5,202.4 305,204.7 305.5,206.9 306,209.1 306.5,211 307,212.8 307.5,214.4 308,215.7 308.5,216.9 309,217.8 309.5,218.7 310,219.3 310.5,219.9 311,220.4 311.5,220.7 312,221 312.5,221.1 313,221.2 313.5,221.2 314,221.1 314.5,221 315,220.7 315.5,220.3 316,219.8 316.5,219.2 317,218.6 317.5,217.8 318,217 318.5,216.1 319,215.3 319.5,214.5 320,213.9 320.5,213.4 321,213.2 321.5,213.2 322,213.5 322.5,214.1 323,214.9 323.5,215.8 324,217 324.5,218.2 325,219.4 325.5,220.6 326,221.8 326.5,222.9 327,223.9 327.5,224.8 328,225.7 328.5,226.5 329,227.1 329.5,227.8 330,228.3 330.5,228.8 331,229.3 331.5,229.7 332,230.1 332.5,230.4 333,230.7 333.5,231 334,231.3 334.5,231.6 335,231.8 335.5,232 336,232.3 336.5,232.5 337,232.7 337.5,232.9 338,233 338.5,233.2 339,233.4 339.5,233.5 340,233.7 340.5,233.8 341,234 341.5,234.1 342,234.3 342.5,234.4 343,234.5 343.5,234.7 344,234.8 344.5,234.9 345,235 345.5,235.1 346,235.3 346.5,235.4 347,235.5 347.5,235.6 348,235.7 348.5,235.8 349,235.9 349.5,236 350,236.1 350.5,236.2 351,236.3 351.5,236.4 352,236.5 352.5,236.6 353,236.7 353.5,236.8 354,236.8 354.5,236.9 355,237 355.5,237.1 356,237.2 356.5,237.3 357,237.4 357.5,237.4 358,237.5 358.5,237.6 359,237.7 359.5,237.7 360,237.8 360.5,237.9 361,238 361.5,238.1 362,238.1 362.5,238.2 363,238.3 363.5,238.3 364,238.4 364.5,238.5 365,238.6 365.5,238.6 366,238.7 366.5,238.8 367,238.8 367.5,238.9 368,239 368.5,239 369,239.1 369.5,239.2 370,239.2 370.5,239.3 371,239.3 371.5,239.4 372,239.5 372.5,239.5 373,239.6 373.5,239.6 374,239.7 374.5,239.8 375,239.8 375.5,239.9 376,239.9 376.5,240 377,240.1 377.5,240.1 378,240.2 378.5,240.2 379,240.3 379.5,240.3 380,240.4 380.5,240.4 381,240.5 381.5,240.5 382,240.6 382.5,240.6 383,240.7 383.5,240.7 384,240.8 384.5,240.8 385,240.9 385.5,240.9 386,241 386.5,241 387,241.1 387.5,241.1 388,241.2 388.5,241.2 389,241.3 389.5,241.3 390,241.4 390.5,241.4 391,241.5 391.5,241.5 392,241.5 392.5,241.6 393,241.6 393.5,241.7 394,241.7 394.5,241.8 395,241.8 395.5,241.8 396,241.9 396.5,241.9 397,242 397.5,242 398,242.1 398.5,242.1 399,242.1 399.5,242.2 400,242.2 400.5,242.3 401,242.3 401.5,242.3 402,242.4 402.5,242.4 403,242.4 403.5,242.5 404,242.5 404.5,242.6 405,242.6 405.5,242.6 406,242.7 406.5,242.7 407,242.7 407.5,242.8 408,242.8 408.5,242.8 409,242.9 409.5,242.9 410,242.9 410.5,243 411,243 411.5,243 412,243.1 412.5,243.1 413,243.1 413.5,243.2 414,243.2 414.5,243.2 415,243.3 415.5,243.3 416,243.3 416.5,243.4 417,243.4 417.5,243.4 418,243.4 418.5,243.5 419,243.5 419.5,243.5 420,243.6 420.5,243.6 421,243.6 421.5,243.7 422,243.7 422.5,243.7 423,243.7 423.5,243.8 424,243.8 424.5,243.8 425,243.8 425.5,243.9 426,243.9 426.5,243.9 427,244 427.5,244 428,244 428.5,244 429,244.1 429.5,244.1 430,244.1 430.5,244.1 431,244.2 431.5,244.2 432,244.2 432.5,244.2 433,244.3 433.5,244.3 434,244.3 434.5,244.3 435,244.4 435.5,244.4 436,244.4 436.5,244.4 437,244.4 437.5,244.5 438,244.5 438.5,244.5 439,244.5 439.5,244.6 440,244.6 440.5,244.6 441,244.6 441.5,244.6 442,244.7 442.5,244.7 443,244.7 443.5,244.7 444,244.7 444.5,244.8 445,244.8 445.5,244.8 446,244.8 446.5,244.8 447,244.9 447.5,244.9 448,244.9 448.5,244.9 449,244.9 449.5,245 450,245 450.5,245 451,245 451.5,245 452,245 452.5,245.1 453,245.1 453.5,245.1 454,245.1 454.5,245.1 455,245.1 455.5,245.2 456,245.2 456.5,245.2 457,245.2 457.5,245.2 458,245.2 458.5,245.3 459,245.3 459.5,245.3 460,245.3 460.5,245.3 461,245.3 461.5,245.4 462,245.4 462.5,245.4 463,245.4 463.5,245.4 464,245.4 464.5,245.4 465,245.5 465.5,245.5 466,245.5 466.5,245.5 467,245.5 467.5,245.5 468,245.5 468.5,245.6 469,245.6 469.5,245.6 470,245.6 470.5,245.6 471,245.6 471.5,245.6 472,245.6 472.5,245.7 473,245.7 473.5,245.7 474,245.7 474.5,245.7 475,245.7 475.5,245.7 476,245.7 476.5,245.7 477,245.8 477.5,245.8 478,245.8 478.5,245.8 479,245.8 479.5,245.8 480,245.8 480.5,245.8 481,245.8 481.5,245.8 482,245.9 482.5,245.9 483,245.9 483.5,245.9 484,245.9 484.5,245.9 485,245.9 485.5,245.9 486,245.9 486.5,245.9 487,245.9 487.5,245.9 488,246 488.5,246 489,246 489.5,246 490,246 490.5,246 491,246 491.5,246 492,246 492.5,246 493,246 493.5,246 494,246 494.5,246 495,246 495.5,246.1 496,246.1 496.5,246.1 497,246.1 497.5,246.1 498,246.1 498.5,246.1 499,246.1 499.5,246.1 500,246.1 500.5,246.1 501,246.1 501.5,246.1 502,246.1 502.5,246.1 503,246.1 503.5,246.1 504,246.1 504.5,246.1 505,246.1 505.5,246.1 506,246.1 506.5,246.1 507,246.1 507.5,246.1 508,246.1 508.5,246.1 509,246.1 509.5,246.1 510,246.1 510.5,246.1 511,246.1 511.5,246.1 512,246.1 512.5,246.1 513,246.1 513.5,246.1 514,246.1 514.5,246.1 515,246.1 515.5,246.1 516,246.1 516.5,246.1 517,246.1 517.5,246.1 518,246.1 518.5,246.1 519,246.1 519.5,246.1 520,246.1 520.5,246.1 521,246.1 521.5,246.1 522,246.1 522.5,246.1 523,246.1 523.5,246.1 524,246.1 524.5,246.1 525,246.1 525.5,246.1 526,246.1 526.5,246.1 527,246 527.5,246 528,246 528.5,246 529,246 529.5,246 530,246 530.5,246 531,246 531.5,246 532,246 532.5,246 533,245.9 533.5,245.9 534,245.9 534.5,245.9 535,245.9 535.5,245.9 536,245.9 536.5,245.9 537,245.9 537.5,245.8 538,245.8 538.5,245.8 539,245.8 539.5,245.8 540,245.8 540.5,245.8 541,245.7 541.5,245.7 542,245.7 542.5,245.7 543,245.7 543.5,245.7 544,245.6 544.5,245.6 545,245.6 545.5,245.6 546,245.6 546.5,245.5 547,245.5 547.5,245.5 548,245.5 548.5,245.5 549,245.4 549.5,245.4 550,245.4 550.5,245.4 551,245.3 551.5,245.3 552,245.3 552.5,245.3 553,245.2 553.5,245.2 554,245.2 554.5,245.1 555,245.1 555.5,245.1 556,245 556.5,245 557,245 557.5,244.9 558,244.9 558.5,244.9 559,244.8 559.5,244.8 560,244.8 560.5,244.7 561,244.7 561.5,244.6 562,244.6 562.5,244.6 563,244.5 563.5,244.5 564,244.4 564.5,244.4 565,244.3 565.5,244.3 566,244.2 566.5,244.2 567,244.1 567.5,244.1 568,244 568.5,244 569,243.9 569.5,243.9 570,243.8 570.5,243.7 571,243.7 571.5,243.6 572,243.5 572.5,243.5 573,243.4 573.5,243.3 574,243.3 574.5,243.2 575,243.1 575.5,243 576,242.9 576.5,242.9 577,242.8 577.5,242.7 578,242.6 578.5,242.5 579,242.4 579.5,242.3 580,242.2 580.5,242.1 581,242 581.5,241.9 582,241.8 582.5,241.7 583,241.6 583.5,241.4 584,241.3 584.5,241.2 585,241.1 585.5,240.9 586,240.8 586.5,240.7 587,240.5 587.5,240.4 588,240.2 588.5,240 589,239.9 589.5,239.7 590,239.5 590.5,239.3 591,239.2 591.5,239 592,238.8 592.5,238.6 593,238.3 593.5,238.1 594,237.9 594.5,237.6 595,237.4 595.5,237.1 596,236.9 596.5,236.6 597,236.3 597.5,236 598,235.7 598.5,235.4 599,235 599.5,234.7 600,234.3 600.5,234 601,233.6 601.5,233.1 602,232.7 602.5,232.3 603,231.8 603.5,231.3 604,230.8 604.5,230.2 605,229.7 605.5,229.1 606,228.5 606.5,227.9 607,227.2 607.5,226.6 608,225.9 608.5,225.2 609,224.4 609.5,223.7 610,222.9 610.5,222.1 611,221.3 611.5,220.5 612,219.7 612.5,218.8 613,217.9 613.5,217 614,216 614.5,215 615,214 615.5,212.9 616,211.8 616.5,210.6 617,209.3 617.5,208 618,206.5 618.5,205 619,203.3 619.5,201.6 620,199.7 620.5,197.7 621,195.6 621.5,193.3 622,190.9 622.5,188.3 623,185.5 623.5,182.5 624,179.4 624.5,176 625,172.3 625.5,168.5 626,164.3 626.5,159.9 627,155.2 627.5,150.2 628,144.9 628.5,139.3 629,133.3 629.5,127.1 630,120.5 630.5,113.7 631,106.5 631.5,99.2 632,91.7 632.5,84 633,76.4 633.5,68.7 634,61.2 634.5,54 635,47.2 635.5,40.8 636,35.1 636.5,30.1 637,26 637.5,22.8 638,20.6 638.5,19.5 639,19.5 639.5,20.5 640,22.5 640.5,25.5 641,29.4 641.5,34.1 642,39.4 642.5,45.3 643,51.5 643.5,58.1 644,64.8 644.5,71.6 645,78.3 645.5,84.9 646,91.3 646.5,97.5 647,103.4 647.5,108.9 648,114.1 648.5,118.9 649,123.3 649.5,127.3 650,131 650.5,134.2 651,137.1 651.5,139.5 652,141.6 652.5,143.3 653,144.6 653.5,145.6 654,146.2 654.5,146.4 655,146.2 655.5,145.7 656,144.8 656.5,143.5 657,141.9 657.5,139.9 658,137.6 658.5,134.9 659,131.8 659.5,128.5 660,124.9 660.5,121.1 661,117.1 661.5,113 662,108.9 662.5,104.8 663,100.9 663.5,97.2 664,93.9 664.5,91.1 665,88.9 665.5,87.3 666,86.4 666.5,86.3 667,87 667.5,88.4 668,90.7 668.5,93.7 669,97.3 669.5,101.5 670,106.1 670.5,111.1 671,116.4 671.5,121.9 672,127.4 672.5,132.9 673,138.3 673.5,143.6 674,148.8 674.5,153.7 675,158.3 675.5,162.7 676,166.8 676.5,170.7 677,174.3 677.5,177.6 678,180.6 678.5,183.3 679,185.9 679.5,188.1 680,190.1 680.5,191.9 681,193.5 681.5,194.8 682,195.9 682.5,196.7 683,197.4 683.5,197.7 684,197.9 684.5,197.7 685,197.3 685.5,196.7 686,195.7 686.5,194.5 687,193.1 687.5,191.4 688,189.5 688.5,187.5 689,185.4 689.5,183.4 690,181.5 690.5,179.9 691,178.5 691.5,177.6 692,177.2 692.5,177.4 693,178.1 693.5,179.4 694,181.2 694.5,183.4 695,185.9 695.5,188.7 696,191.6 696.5,194.6 697,197.4 697.5,200.2 698,202.7 698.5,205.1 699,207.1 699.5,208.9 700,210.4 700.5,211.7 701,212.7 701.5,213.4 702,214 702.5,214.4 703,214.7 703.5,214.9 704,215 704.5,215.2 705,215.4 705.5,215.7 706,216 706.5,216.5 707,217.1 707.5,217.8 708,218.5 708.5,219.3 709,220 709.5,220.7 710,221.3 710.5,221.8 711,222.2 711.5,222.4 712,222.5 712.5,222.4 713,222.2 713.5,222 714,221.7 714.5,221.4 715,221.1 715.5,220.9 716,220.9 716.5,221 717,221.3 717.5,221.7 718,222.4 718.5,223.2 719,224.1 719.5,225.1 720,226.1 720.5,227.2 721,228.2 721.5,229.2 722,230.1 722.5,230.9 723,231.6 723.5,232.2 724,232.7 724.5,233.1 725,233.5 725.5,233.7 726,233.8 726.5,233.9 727,233.9 727.5,233.8 728,233.6 728.5,233.4 729,233.1 729.5,232.7 730,232.2 730.5,231.7 731,231.1 731.5,230.4 732,229.7 732.5,228.9 733,228.1 733.5,227.3 734,226.5 734.5,225.8 735,225.1 735.5,224.4 736,223.9 736.5,223.5 737,223.2 737.5,223 738,223 738.5,223.1 739,223.3 739.5,223.7 740,224.1 740.5,224.5 741,225.1 741.5,225.6 742,226.1 742.5,226.6 743,227.1 743.5,227.5 744,227.9 744.5,228.2 745,228.5 745.5,228.8 746,229 746.5,229.2 747,229.4 747.5,229.7 748,229.9 748.5,230.2 749,230.5 749.5,230.9 750,231.2 750.5,231.7 751,232.1 751.5,232.6 752,233.1 752.5,233.6 753,234.1 753.5,234.5 754,235 754.5,235.5 755,235.9 755.5,236.3 756,236.6 756.5,237 757,237.2 757.5,237.4 758,237.6 758.5,237.7 759,237.8 759.5,237.8 760,237.7 760.5,237.6 761,237.5 761.5,237.3 762,237.1 762.5,236.8 763,236.5 763.5,236.2 764,236 764.5,235.7 765,235.5 765.5,235.3 766,235.3 766.5,235.2 767,235.3 767.5,235.4 768,235.7 768.5,236 769,236.3 769.5,236.8 770,237.2 770.5,237.7 771,238.3 771.5,238.8 772,239.3 772.5,239.8 773,240.2 773.5,240.6 774,241 774.5,241.4 775,241.7 775.5,242 776,242.2 776.5,242.4 777,242.6 777.5,242.7 778,242.9 778.5,242.9 779,243 779.5,243 780,243 780.5,242.9 781,242.9 781.5,242.8 782,242.7 782.5,242.5 783,242.3 783.5,242.1 784,241.9 784.5,241.7 785,241.4 785.5,241.1 786,240.9 786.5,240.6 787,240.4 787.5,240.2 788,240 788.5,239.9 789,239.8 789.5,239.7 790,239.7 790.5,239.7 791,239.7 791.5,239.7 792,239.7 792.5,239.8 793,239.8 793.5,239.8 794,239.7 794.5,239.7 795,239.6 795.5,239.5 796,239.3 796.5,239.1 797,238.9 797.5,238.6 798,238.4 798.5,238.1 799,237.9 799.5,237.7 800,237.6 800.5,237.5 801,237.5 801.5,237.5 802,237.7 802.5,237.9 803,238.1 803.5,238.5 804,238.9 804.5,239.3 805,239.8 805.5,240.3 806,240.8 806.5,241.3 807,241.8 807.5,242.3 808,242.7 808.5,243.2 809,243.6 809.5,244 810,244.3 810.5,244.7 811,245 811.5,245.3 812,245.5 812.5,245.8 813,246 813.5,246.2 814,246.4 814.5,246.5 815,246.7 815.5,246.9 816,247 816.5,247.1 817,247.2 817.5,247.4 818,247.5 818.5,247.6 819,247.7 819.5,247.7 820,247.8 820.5,247.9 821,248 821.5,248 822,248.1 822.5,248.2 823,248.2 823.5,248.3 824,248.3 824.5,248.4 825,248.4 825.5,248.5 826,248.5 826.5,248.5 827,248.6 827.5,248.6 828,248.7 828.5,248.7 829,248.7 829.5,248.8 830,248.8 830.5,248.8 831,248.9 831.5,248.9 832,248.9 832.5,248.9 833,249 833.5,249 834,249 834.5,249 835,249.1 835.5,249.1 836,249.1 836.5,249.1 837,249.1 837.5,249.2" fill="none" stroke="#000" stroke-width="2.9" stroke-linejoin="round"/>
<text x="314.3" y="336.0" font-size="27" font-weight="bold" fill="#000" textLength="279.5" lengthAdjust="spacingAndGlyphs">Wavenumber [cm<tspan dy="-11" font-size="19">-1</tspan><tspan dy="11">]</tspan></text>
<text transform="translate(39.2,223.5) rotate(-90)" x="0" y="0" font-size="52" font-weight="bold" fill="#000" textLength="191.5" lengthAdjust="spacingAndGlyphs">Proteins</text>
<!-- panel Lipids -->
<rect x="58.55" y="388.5" width="4.2" height="251.0" fill="#262626"/>
<rect x="58.55" y="635.3" width="779.55" height="4.2" fill="#262626"/>
<rect x="149.10" y="627.6" width="4.2" height="9.8" fill="#262626"/>
<text x="151.2" y="680.7" font-size="29.6" text-anchor="middle" fill="#262626">3500</text>
<rect x="280.72" y="627.6" width="4.2" height="9.8" fill="#262626"/>
<text x="282.8" y="680.7" font-size="29.6" text-anchor="middle" fill="#262626">3000</text>
<rect x="412.34" y="627.6" width="4.2" height="9.8" fill="#262626"/>
<text x="414.4" y="680.7" font-size="29.6" text-anchor="middle" fill="#262626">2500</text>
<rect x="543.96" y="627.6" width="4.2" height="9.8" fill="#262626"/>
<text x="546.1" y="680.7" font-size="29.6" text-anchor="middle" fill="#262626">2000</text>
<rect x="675.58" y="627.6" width="4.2" height="9.8" fill="#262626"/>
<text x="677.7" y="680.7" font-size="29.6" text-anchor="middle" fill="#262626">1500</text>
<rect x="807.20" y="627.6" width="4.2" height="9.8" fill="#262626"/>
<text x="809.3" y="680.7" font-size="29.6" text-anchor="middle" fill="#262626">1000</text>
<path d="M60.65,637.4 L836.5,637.4" fill="none" stroke="#ff0000" stroke-width="3.4"/>
<path d="M60.6,600 62.3,599.2 64.3,598.3 66.3,597.4 68.3,596.4 70.3,595.4 72.3,594.4 74.3,593.3 76.3,592.2 78.3,591.1 80.3,589.9 82.3,588.7 84.3,587.4 86.3,586.1 88.3,584.7 90.3,583.3 92.3,581.9 94.3,580.3 96.3,578.8 98.3,577.2 100.3,575.5 102.3,573.7 104.3,571.9 106.3,570.1 108.3,568.1 110.3,566.1 112.3,564 114.3,561.9 116.3,559.6 118.3,557.3 120.3,554.9 122.3,552.4 124.3,549.9 126.3,547.2 128.3,544.5 130.3,541.6 132.3,538.7 134.3,535.7 136.3,532.6 138.3,529.3 140.3,526 142.3,522.6 144.3,519.1 146.3,515.5 148.3,511.9 150.3,508.1 152.3,504.3 154.3,500.4 156.3,496.4 158.3,492.4 160.3,488.3 162.3,484.3 164.3,480.2 166.3,476.1 168.3,472 170.3,468 172.3,464 174.3,460.1 176.3,456.4 178.3,452.7 180.3,449.3 182.3,446 184.3,442.9 186.3,440.1 188.3,437.5 190.3,435.2 192.3,433.2 194.3,431.6 196.3,430.3 198.3,429.4 200.3,428.8 202.3,428.6 204.3,428.8 206.3,429.4 208.3,430.3 210.3,431.6 212.3,433.2 214.3,435.2 216.3,437.5 218.3,440.1 220.3,442.9 222.3,446 224.3,449.3 226.3,452.7 228.3,456.4 230.3,460.1 232.3,464 234.3,468 236.3,472 238.3,476.1 240.3,480.2 242.3,484.3 244.3,488.3 246.3,492.4 248.3,496.4 250.3,500.4 252.3,504.3 254.3,508.1 256.3,511.9 258.3,515.5 260.3,519.1 262.3,522.6 264.3,526 266.3,529.3 268.3,532.6 270.3,535.7 272.3,538.7 274.3,541.6 276.3,544.5 278.3,547.2 280.3,549.9 282.3,552.4 284.3,554.9 286.3,557.3 288.3,559.6 290.3,561.9 292.3,564 294.3,566.1 296.3,568.1 298.3,570.1 300.3,571.9 302.3,573.7 304.3,575.5 306.3,577.2 308.3,578.8 310.3,580.3 312.3,581.9 314.3,583.3 316.3,584.7 318.3,586.1 320.3,587.4 322.3,588.7 324.3,589.9 326.3,591.1 328.3,592.2 330.3,593.3 332.3,594.4 334.3,595.4 336.3,596.4 338.3,597.4 340.3,598.3 342.3,599.2 344.3,600.1 346.3,601 348.3,601.8 350.3,602.6 352.3,603.4 354.3,604.1 356.3,604.8 358.3,605.5 360.3,606.2 362.3,606.9 364.3,607.5 366.3,608.2 368.3,608.8 370.3,609.4 372.3,609.9 374.3,610.5 376.3,611 378.3,611.5 380.3,612 382.3,612.5 384.3,613 386.3,613.5 388.3,613.9 390.3,614.4 392.3,614.8 394.3,615.2 396.3,615.6 398.3,616 400.3,616.4 402.3,616.8 404.3,617.2 406.3,617.5 408.3,617.9 410.3,618.2 412.3,618.5 414.3,618.9 416.3,619.2 418.3,619.5 420.3,619.8 422.3,620.1 424.3,620.4 426.3,620.6 428.3,620.9 430.3,621.2 432.3,621.4 434.3,621.7 436.3,621.9 438.3,622.2 440.3,622.4 442.3,622.7 444.3,622.9 446.3,623.1 448.3,623.3 450.3,623.5 452.3,623.7 454.3,623.9 456.3,624.1 458.3,624.3 460.3,624.5 462.3,624.7 464.3,624.9 466.3,625.1 468.3,625.2 470.3,625.4 472.3,625.6 474.3,625.7 476.3,625.9 478.3,626.1 480.3,626.2 482.3,626.4 484.3,626.5 486.3,626.7 488.3,626.8 490.3,626.9 492.3,627.1 494.3,627.2 496.3,627.3 498.3,627.5 500.3,627.6 502.3,627.7 504.3,627.8 506.3,628 508.3,628.1 510.3,628.2 512.3,628.3 514.3,628.4 516.3,628.5 518.3,628.6 520.3,628.7 522.3,628.8 524.3,628.9 526.3,629 528.3,629.1 530.3,629.2 532.3,629.3 534.3,629.4 536.3,629.5 538.3,629.6 540.3,629.7 542.3,629.8 544.3,629.9 546.3,630 548.3,630 550.3,630.1 552.3,630.2 554.3,630.3 556.3,630.4 558.3,630.4 560.3,630.5 562.3,630.6 564.3,630.7 566.3,630.7 568.3,630.8 570.3,630.9 572.3,630.9 574.3,631 576.3,631.1 578.3,631.1 580.3,631.2 582.3,631.3 584.3,631.3 586.3,631.4 588.3,631.4 590.3,631.5 592.3,631.6 594.3,631.6 596.3,631.7 598.3,631.7 600.3,631.8 602.3,631.8 604.3,631.9 606.3,631.9 608.3,632 610.3,632.1 612.3,632.1 614.3,632.2 616.3,632.2 618.3,632.3 620.3,632.3 622.3,632.3 624.3,632.4 626.3,632.4 628.3,632.5 630.3,632.5 632.3,632.6 634.3,632.6 636.3,632.7 638.3,632.7 640.3,632.7 642.3,632.8 644.3,632.8 646.3,632.9 648.3,632.9 650.3,632.9 652.3,633 654.3,633 656.3,633.1 658.3,633.1 660.3,633.1 662.3,633.2 664.3,633.2 666.3,633.2 668.3,633.3 670.3,633.3 672.3,633.3 674.3,633.4 676.3,633.4 678.3,633.4 680.3,633.5 682.3,633.5 684.3,633.5 686.3,633.6 688.3,633.6 690.3,633.6 692.3,633.7 694.3,633.7 696.3,633.7 698.3,633.8 700.3,633.8 702.3,633.8 704.3,633.8 706.3,633.9 708.3,633.9 710.3,633.9 712.3,633.9 714.3,634 716.3,634 718.3,634 720.3,634 722.3,634.1 724.3,634.1 726.3,634.1 728.3,634.1 730.3,634.2 732.3,634.2 734.3,634.2 736.3,634.2 738.3,634.3 740.3,634.3 742.3,634.3 744.3,634.3 746.3,634.4 748.3,634.4 750.3,634.4 752.3,634.4 754.3,634.4 756.3,634.5 758.3,634.5 760.3,634.5 762.3,634.5 764.3,634.5 766.3,634.6 768.3,634.6 770.3,634.6 772.3,634.6 774.3,634.6 776.3,634.7 778.3,634.7 780.3,634.7 782.3,634.7 784.3,634.7 786.3,634.8 788.3,634.8 790.3,634.8 792.3,634.8 794.3,634.8 796.3,634.8 798.3,634.9 800.3,634.9 802.3,634.9 804.3,634.9 806.3,634.9 808.3,634.9 810.3,635 812.3,635 814.3,635 816.3,635 818.3,635 820.3,635 822.3,635.1 824.3,635.1 826.3,635.1 828.3,635.1 830.3,635.1 832.3,635.1 834.3,635.1 836,635.1" fill="none" stroke="#ff0000" stroke-width="2.8" stroke-linejoin="round"/>
<path d="M272.2,637.3 272.4,637.3 273.4,637.2 274.4,637.2 275.4,637.2 276.4,637.2 277.4,637.2 278.4,637.1 279.4,637.1 280.4,637 281.4,637 281.9,636.9 282.4,636.9 282.9,636.8 283.4,636.8 283.9,636.7 284.4,636.6 284.9,636.6 285.4,636.5 285.9,636.3 286.4,636.2 286.9,636 287.4,635.8 287.9,635.5 288.4,635.1 288.9,634.7 289.4,634.2 289.9,633.6 290.4,632.9 290.9,632.1 291.4,631.3 291.9,630.5 292.4,629.7 292.9,629.1 293.4,628.7 293.9,628.6 294.4,628.7 294.9,629.1 295.4,629.7 295.9,630.5 296.4,631.3 296.9,632.1 297.4,632.9 297.9,633.6 298.4,634.2 298.9,634.7 299.4,635.1 299.9,635.5 300.4,635.8 300.9,636 301.4,636.2 301.9,636.3 302.4,636.5 302.9,636.6 303.4,636.6 303.9,636.7 304.4,636.8 304.9,636.8 305.4,636.9 305.9,636.9 306.4,637 307.4,637 308.4,637.1 309.4,637.1 310.4,637.2 311.4,637.2 312.4,637.2 313.4,637.2 314.4,637.2 315.4,637.3 315.6,637.3" fill="none" stroke="#ff0000" stroke-width="2.8" stroke-linejoin="round"/>
<path d="M253.1,637.2 254,637.2 256.5,637.2 257.5,637.2 258.5,637.2 259.5,637.2 260.5,637.2 261.5,637.2 262.5,637.1 263.5,637.1 264.5,637.1 265.5,637.1 266.5,637.1 267.5,637.1 268.5,637 269.5,637 270.5,637 271.5,637 272.5,636.9 273.5,636.9 274.5,636.9 275.5,636.8 276.5,636.8 277.5,636.7 278.5,636.7 279.5,636.6 280.5,636.6 281.5,636.5 282.5,636.4 283.5,636.3 284.5,636.1 285.5,636 286,635.9 286.5,635.8 287,635.7 287.5,635.6 288,635.5 288.5,635.4 289,635.2 289.5,635 290,634.9 290.5,634.7 291,634.4 291.5,634.2 292,633.9 292.5,633.6 293,633.2 293.5,632.8 294,632.3 294.5,631.7 295,631.1 295.5,630.3 296,629.5 296.5,628.5 297,627.4 297.5,626.2 298,624.8 298.5,623.3 299,621.8 299.5,620.2 300,618.7 300.5,617.2 301,616 301.5,615.1 302,614.5 302.5,614.3 303,614.5 303.5,615.2 304,616.2 304.5,617.4 305,618.9 305.5,620.5 306,622 306.5,623.6 307,625 307.5,626.4 308,627.6 308.5,628.7 309,629.6 309.5,630.4 310,631.2 310.5,631.8 311,632.3 311.5,632.8 312,633.2 312.5,633.6 313,633.9 313.5,634.2 314,634.5 314.5,634.7 315,634.9 315.5,635.1 316,635.2 316.5,635.4 317,635.5 317.5,635.6 318,635.7 318.5,635.8 319,635.9 319.5,636 320.5,636.2 321.5,636.3 322.5,636.4 323.5,636.5 324.5,636.6 325.5,636.6 326.5,636.7 327.5,636.7 328.5,636.8 329.5,636.8 330.5,636.9 331.5,636.9 332.5,636.9 333.5,637 334.5,637 335.5,637 336.5,637 337.5,637.1 338.5,637.1 339.5,637.1 340.5,637.1 341.5,637.1 342.5,637.1 343.5,637.2 344.5,637.2 345.5,637.2 346.5,637.2 347.5,637.2 348.5,637.2 351,637.2 351.8,637.2" fill="none" stroke="#ff0000" stroke-width="2.8" stroke-linejoin="round"/>
<path d="M267.6,637.2 269.6,637.2 270.6,637.2 271.6,637.2 272.6,637.2 273.6,637.2 274.6,637.2 275.6,637.2 276.6,637.1 277.6,637.1 278.6,637.1 279.6,637.1 280.6,637.1 281.6,637.1 282.6,637.1 283.6,637 284.6,637 285.6,637 286.6,637 287.6,637 288.6,636.9 289.6,636.9 290.6,636.9 291.6,636.8 292.6,636.8 293.6,636.7 294.6,636.7 295.6,636.6 296.6,636.6 297.6,636.5 298.6,636.4 299.6,636.4 300.6,636.3 301.6,636.2 302.6,636 303.1,636 303.6,635.9 304.1,635.8 304.6,635.7 305.1,635.6 305.6,635.5 306.1,635.4 306.6,635.3 307.1,635.1 307.6,635 308.1,634.8 308.6,634.6 309.1,634.4 309.6,634.2 310.1,634 310.6,633.7 311.1,633.4 311.6,633.1 312.1,632.7 312.6,632.3 313.1,631.8 313.6,631.3 314.1,630.7 314.6,630 315.1,629.2 315.6,628.4 316.1,627.5 316.6,626.4 317.1,625.3 317.6,624.1 318.1,622.8 318.6,621.5 319.1,620.2 319.6,619 320.1,617.9 320.6,617 321.1,616.3 321.6,615.8 322.1,615.7 322.6,615.9 323.1,616.4 323.6,617.1 324.1,618.1 324.6,619.2 325.1,620.4 325.6,621.7 326.1,623 326.6,624.3 327.1,625.5 327.6,626.6 328.1,627.6 328.6,628.5 329.1,629.4 329.6,630.1 330.1,630.8 330.6,631.4 331.1,631.9 331.6,632.4 332.1,632.8 332.6,633.1 333.1,633.5 333.6,633.8 334.1,634 334.6,634.3 335.1,634.5 335.6,634.7 336.1,634.9 336.6,635 337.1,635.2 337.6,635.3 338.1,635.4 338.6,635.5 339.1,635.6 339.6,635.7 340.1,635.8 340.6,635.9 341.1,636 341.6,636 342.6,636.2 343.6,636.3 344.6,636.4 345.6,636.4 346.6,636.5 347.6,636.6 348.6,636.6 349.6,636.7 350.6,636.7 351.6,636.8 352.6,636.8 353.6,636.9 354.6,636.9 355.6,636.9 356.6,637 357.6,637 358.6,637 359.6,637 360.6,637 361.6,637.1 362.6,637.1 363.6,637.1 364.6,637.1 365.6,637.1 366.6,637.1 367.6,637.1 368.6,637.2 369.6,637.2 370.6,637.2 371.6,637.2 372.6,637.2 373.6,637.2 374.6,637.2 376.5,637.2" fill="none" stroke="#ff0000" stroke-width="2.8" stroke-linejoin="round"/>
<path d="M569.6,637.3 570.3,637.3 571.3,637.3 572.3,637.3 573.3,637.3 574.3,637.2 575.3,637.2 576.3,637.2 577.3,637.2 578.3,637.2 579.3,637.2 580.3,637.2 581.3,637.2 582.3,637.2 583.3,637.1 584.3,637.1 585.3,637.1 586.3,637.1 587.3,637 588.3,637 589.3,637 590.3,636.9 591.3,636.9 592.3,636.8 593.3,636.8 593.8,636.7 594.3,636.7 594.8,636.6 595.3,636.6 595.8,636.5 596.3,636.5 596.8,636.4 597.3,636.3 597.8,636.3 598.3,636.2 598.8,636.1 599.3,636 599.8,635.8 600.3,635.7 600.8,635.5 601.3,635.3 601.8,635.1 602.3,634.8 602.8,634.5 603.3,634.2 603.8,633.8 604.3,633.3 604.8,632.8 605.3,632.2 605.8,631.5 606.3,630.8 606.8,630 607.3,629.2 607.8,628.3 608.3,627.5 608.8,626.6 609.3,625.7 609.8,624.9 610.3,624.3 610.8,623.7 611.3,623.3 611.8,623 612.3,622.9 612.8,623 613.3,623.3 613.8,623.7 614.3,624.3 614.8,624.9 615.3,625.7 615.8,626.6 616.3,627.5 616.8,628.3 617.3,629.2 617.8,630 618.3,630.8 618.8,631.5 619.3,632.2 619.8,632.8 620.3,633.3 620.8,633.8 621.3,634.2 621.8,634.5 622.3,634.8 622.8,635.1 623.3,635.3 623.8,635.5 624.3,635.7 624.8,635.8 625.3,636 625.8,636.1 626.3,636.2 626.8,636.3 627.3,636.3 627.8,636.4 628.3,636.5 628.8,636.5 629.3,636.6 629.8,636.6 630.3,636.7 630.8,636.7 631.3,636.8 632.3,636.8 633.3,636.9 634.3,636.9 635.3,637 636.3,637 637.3,637 638.3,637.1 639.3,637.1 640.3,637.1 641.3,637.1 642.3,637.2 643.3,637.2 644.3,637.2 645.3,637.2 646.3,637.2 647.3,637.2 648.3,637.2 649.3,637.2 650.3,637.2 651.3,637.3 652.3,637.3 653.3,637.3 654.3,637.3 655,637.3" fill="none" stroke="#ff0000" stroke-width="2.8" stroke-linejoin="round"/>
<path d="M373.6,637.2 377.7,637.2 383.7,637.2 389.7,637.2 395.7,637.2 401.7,637.2 407.7,637.2 410.2,637.2 412.7,637.2 415.2,637.1 417.7,637.1 420.2,637.1 422.7,637.1 425.2,637.1 427.7,637.1 430.2,637.1 432.7,637.1 435.2,637.1 437.7,637.1 440.2,637.1 442.7,637.1 445.2,637.1 447.7,637.1 450.2,637 452.7,637 455.2,637 457.7,637 460.2,637 462.7,637 465.2,637 467.7,637 470.2,637 472.7,636.9 475.2,636.9 477.7,636.9 480.2,636.9 482.7,636.9 485.2,636.9 487.7,636.8 490.2,636.8 492.7,636.8 495.2,636.8 497.7,636.8 500.2,636.7 502.7,636.7 505.2,636.7 507.7,636.7 510.2,636.6 512.7,636.6 515.2,636.6 517.7,636.5 520.2,636.5 522.7,636.5 525.2,636.4 527.7,636.4 530.2,636.3 532.7,636.3 535.2,636.2 537.7,636.2 540.2,636.1 542.7,636 545.2,635.9 546.2,635.9 547.2,635.9 548.2,635.8 549.2,635.8 550.2,635.8 551.2,635.7 552.2,635.7 553.2,635.7 554.2,635.6 555.2,635.6 556.2,635.5 557.2,635.5 558.2,635.4 559.2,635.4 560.2,635.3 561.2,635.3 562.2,635.2 563.2,635.2 564.2,635.1 565.2,635 566.2,635 567.2,634.9 568.2,634.8 569.2,634.8 570.2,634.7 571.2,634.6 572.2,634.5 573.2,634.4 574.2,634.3 575.2,634.2 576.2,634.1 577.2,634 578.2,633.9 579.2,633.8 580.2,633.7 581.2,633.5 582.2,633.4 583.2,633.2 584.2,633.1 585.2,632.9 586.2,632.8 587.2,632.6 588.2,632.4 589.2,632.2 590.2,632 591.2,631.7 592.2,631.5 593.2,631.2 594.2,630.9 595.2,630.6 596.2,630.3 597.2,630 598.2,629.6 599.2,629.2 600.2,628.8 601.2,628.3 602.2,627.8 603.2,627.3 603.7,627 604.2,626.7 604.7,626.4 605.2,626 605.7,625.7 606.2,625.3 606.7,625 607.2,624.6 607.7,624.2 608.2,623.7 608.7,623.3 609.2,622.8 609.7,622.3 610.2,621.8 610.7,621.2 611.2,620.7 611.7,620.1 612.2,619.4 612.7,618.8 613.2,618 613.7,617.3 614.2,616.5 614.7,615.7 615.2,614.8 615.7,613.8 616.2,612.8 616.7,611.8 617.2,610.7 617.7,609.5 618.2,608.2 618.7,606.9 619.2,605.4 619.7,603.9 620.2,602.3 620.7,600.5 621.2,598.6 621.7,596.7 622.2,594.5 622.7,592.3 623.2,589.8 623.7,587.2 624.2,584.5 624.7,581.5 625.2,578.3 625.7,575 626.2,571.4 626.7,567.6 627.2,563.6 627.7,559.4 628.2,554.9 628.7,550.3 629.2,545.4 629.7,540.4 630.2,535.3 630.7,530 631.2,524.7 631.7,519.3 632.2,514 632.7,508.8 633.2,503.8 633.7,499 634.2,494.6 634.7,490.5 635.2,486.9 635.7,483.9 636.2,481.5 636.7,479.7 637.2,478.7 637.7,478.3 638.2,478.7 638.7,479.7 639.2,481.5 639.7,483.9 640.2,486.9 640.7,490.5 641.2,494.6 641.7,499 642.2,503.8 642.7,508.8 643.2,514 643.7,519.3 644.2,524.7 644.7,530 645.2,535.3 645.7,540.4 646.2,545.4 646.7,550.3 647.2,554.9 647.7,559.4 648.2,563.6 648.7,567.6 649.2,571.4 649.7,575 650.2,578.3 650.7,581.5 651.2,584.5 651.7,587.2 652.2,589.8 652.7,592.3 653.2,594.5 653.7,596.7 654.2,598.6 654.7,600.5 655.2,602.3 655.7,603.9 656.2,605.4 656.7,606.9 657.2,608.2 657.7,609.5 658.2,610.7 658.7,611.8 659.2,612.8 659.7,613.8 660.2,614.8 660.7,615.7 661.2,616.5 661.7,617.3 662.2,618 662.7,618.8 663.2,619.4 663.7,620.1 664.2,620.7 664.7,621.2 665.2,621.8 665.7,622.3 666.2,622.8 666.7,623.3 667.2,623.7 667.7,624.2 668.2,624.6 668.7,625 669.2,625.3 669.7,625.7 670.2,626 670.7,626.4 671.2,626.7 671.7,627 672.2,627.3 673.2,627.8 674.2,628.3 675.2,628.8 676.2,629.2 677.2,629.6 678.2,630 679.2,630.3 680.2,630.6 681.2,630.9 682.2,631.2 683.2,631.5 684.2,631.7 685.2,632 686.2,632.2 687.2,632.4 688.2,632.6 689.2,632.8 690.2,632.9 691.2,633.1 692.2,633.2 693.2,633.4 694.2,633.5 695.2,633.7 696.2,633.8 697.2,633.9 698.2,634 699.2,634.1 700.2,634.2 701.2,634.3 702.2,634.4 703.2,634.5 704.2,634.6 705.2,634.7 706.2,634.8 707.2,634.8 708.2,634.9 709.2,635 710.2,635 711.2,635.1 712.2,635.2 713.2,635.2 714.2,635.3 715.2,635.3 716.2,635.4 717.2,635.4 718.2,635.5 719.2,635.5 720.2,635.6 721.2,635.6 722.2,635.7 723.2,635.7 724.2,635.7 725.2,635.8 726.2,635.8 727.2,635.8 728.2,635.9 729.2,635.9 730.2,635.9 732.7,636 735.2,636.1 737.7,636.2 740.2,636.2 742.7,636.3 745.2,636.3 747.7,636.4 750.2,636.4 752.7,636.5 755.2,636.5 757.7,636.5 760.2,636.6 762.7,636.6 765.2,636.6 767.7,636.7 770.2,636.7 772.7,636.7 775.2,636.7 777.7,636.8 780.2,636.8 782.7,636.8 785.2,636.8 787.7,636.8 790.2,636.9 792.7,636.9 795.2,636.9 797.7,636.9 800.2,636.9 802.7,636.9 805.2,637 807.7,637 810.2,637 812.7,637 815.2,637 817.7,637 820.2,637 822.7,637 825.2,637 827.7,637.1 830.2,637.1 832.7,637.1 835.2,637.1 836,637.1" fill="none" stroke="#ff0000" stroke-width="2.8" stroke-linejoin="round"/>
<path d="M446,637.2 451.8,637.2 454.2,637.2 456.8,637.2 459.2,637.2 461.8,637.2 464.2,637.2 466.8,637.2 469.2,637.2 471.8,637.2 474.2,637.2 476.8,637.2 479.2,637.2 481.8,637.2 484.2,637.1 486.8,637.1 489.2,637.1 491.8,637.1 494.2,637.1 496.8,637.1 499.2,637.1 501.8,637.1 504.2,637.1 506.8,637.1 509.2,637.1 511.8,637 514.2,637 516.8,637 519.2,637 521.8,637 524.2,637 526.8,637 529.2,637 531.8,636.9 534.2,636.9 536.8,636.9 539.2,636.9 541.8,636.9 544.2,636.8 546.8,636.8 549.2,636.8 551.8,636.8 554.2,636.7 556.8,636.7 559.2,636.7 561.8,636.6 564.2,636.6 566.8,636.5 569.2,636.5 571.8,636.5 574.2,636.4 576.8,636.3 579.2,636.3 580.2,636.3 581.2,636.2 582.2,636.2 583.2,636.2 584.2,636.1 585.2,636.1 586.2,636.1 587.2,636.1 588.2,636 589.2,636 590.2,635.9 591.2,635.9 592.2,635.9 593.2,635.8 594.2,635.8 595.2,635.7 596.2,635.7 597.2,635.6 598.2,635.6 599.2,635.5 600.2,635.5 601.2,635.4 602.2,635.3 603.2,635.3 604.2,635.2 605.2,635.1 606.2,635.1 607.2,635 608.2,634.9 609.2,634.8 610.2,634.7 611.2,634.6 612.2,634.5 613.2,634.4 614.2,634.3 615.2,634.2 616.2,634 617.2,633.9 618.2,633.8 619.2,633.6 620.2,633.4 621.2,633.3 622.2,633.1 623.2,632.9 624.2,632.6 625.2,632.4 626.2,632.2 627.2,631.9 628.2,631.6 629.2,631.3 630.2,630.9 631.2,630.6 632.2,630.2 633.2,629.7 633.8,629.5 634.2,629.3 634.8,629 635.2,628.7 635.8,628.4 636.2,628.2 636.8,627.8 637.2,627.5 637.8,627.1 638.2,626.8 638.8,626.4 639.2,626.1 639.8,625.6 640.2,625.2 640.8,624.6 641.2,624.2 641.8,623.6 642.2,623.2 642.8,622.5 643.2,622 643.8,621.2 644.2,620.6 644.8,619.7 645.2,619.1 645.8,618.1 646.2,617.3 646.8,616.2 647.2,615.4 647.8,614 648.2,613.1 648.8,611.6 649.2,610.5 649.8,608.7 650.2,607.5 650.8,605.4 651.2,604 651.8,601.7 652.2,600 652.8,597.3 653.2,595.3 653.8,592.2 654.2,590 654.8,586.4 655.2,583.9 655.8,579.8 656.2,576.9 656.8,572.4 657.2,569.2 657.8,564.2 658.2,560.8 658.8,555.4 659.2,551.8 659.8,546.3 660.2,542.6 660.8,537.1 661.2,533.6 661.8,528.5 662.2,525.3 662.8,521 663.2,518.4 663.8,515.2 664.2,513.4 664.8,511.5 665.2,510.7 665.8,510.3 666.2,510.6 666.8,511.7 667.2,513 667.8,515.7 668.2,517.8 668.8,521.7 669.2,524.6 669.8,529.3 670.2,532.7 670.8,538 671.2,541.7 671.8,547.2 672.2,550.9 672.8,556.3 673.2,559.9 673.8,565.1 674.2,568.4 674.8,573.2 675.2,576.2 675.8,580.5 676.2,583.2 676.8,587 677.2,589.4 677.8,592.8 678.2,594.8 678.8,597.7 679.2,599.5 679.8,602.1 680.2,603.6 680.8,605.8 681.2,607.1 681.8,609 682.2,610.2 682.8,611.8 683.2,612.8 683.8,614.3 684.2,615.2 684.8,616.4 685.2,617.2 685.8,618.2 686.2,618.9 686.8,619.9 687.2,620.5 687.8,621.3 688.2,621.8 688.8,622.6 689.2,623.1 689.8,623.7 690.2,624.1 690.8,624.7 691.2,625.1 691.8,625.6 692.2,626 692.8,626.5 693.2,626.8 693.8,627.2 694.2,627.5 694.8,627.9 695.2,628.1 695.8,628.5 696.2,628.7 696.8,629 697.2,629.2 697.8,629.5 698.2,629.7 699.2,630.1 700.2,630.5 701.2,630.9 702.2,631.3 703.2,631.6 704.2,631.9 705.2,632.1 706.2,632.4 707.2,632.6 708.2,632.8 709.2,633 710.2,633.2 711.2,633.4 712.2,633.6 713.2,633.7 714.2,633.9 715.2,634 716.2,634.2 717.2,634.3 718.2,634.4 719.2,634.5 720.2,634.6 721.2,634.7 722.2,634.8 723.2,634.9 724.2,635 725.2,635.1 726.2,635.1 727.2,635.2 728.2,635.3 729.2,635.3 730.2,635.4 731.2,635.5 732.2,635.5 733.2,635.6 734.2,635.6 735.2,635.7 736.2,635.7 737.2,635.8 738.2,635.8 739.2,635.9 740.2,635.9 741.2,635.9 742.2,636 743.2,636 744.2,636 745.2,636.1 746.2,636.1 747.2,636.1 748.2,636.2 749.2,636.2 750.2,636.2 751.2,636.3 752.2,636.3 754.8,636.3 757.2,636.4 759.8,636.5 762.2,636.5 764.8,636.6 767.2,636.6 769.8,636.6 772.2,636.7 774.8,636.7 777.2,636.7 779.8,636.8 782.2,636.8 784.8,636.8 787.2,636.8 789.8,636.9 792.2,636.9 794.8,636.9 797.2,636.9 799.8,636.9 802.2,637 804.8,637 807.2,637 809.8,637 812.2,637 814.8,637 817.2,637 819.8,637 822.2,637.1 824.8,637.1 827.2,637.1 829.8,637.1 832.2,637.1 834.8,637.1 836,637.1" fill="none" stroke="#ff0000" stroke-width="2.8" stroke-linejoin="round"/>
<path d="M627.8,637.3 627.9,637.3 630.4,637.3 632.9,637.2 635.4,637.2 636.4,637.2 637.4,637.2 638.4,637.2 639.4,637.2 640.4,637.2 641.4,637.2 642.4,637.2 643.4,637.2 644.4,637.2 645.4,637.1 646.4,637.1 647.4,637.1 648.4,637.1 649.4,637.1 650.4,637.1 651.4,637.1 652.4,637 653.4,637 654.4,637 655.4,637 656.4,637 657.4,636.9 658.4,636.9 659.4,636.9 660.4,636.8 661.4,636.8 662.4,636.8 663.4,636.7 664.4,636.7 665.4,636.6 666.4,636.5 667.4,636.5 668.4,636.4 669.4,636.3 670.4,636.2 670.9,636.1 671.4,636.1 671.9,636 672.4,635.9 672.9,635.8 673.4,635.8 673.9,635.7 674.4,635.6 674.9,635.4 675.4,635.3 675.9,635.2 676.4,635 676.9,634.9 677.4,634.7 677.9,634.5 678.4,634.2 678.9,634 679.4,633.7 679.9,633.3 680.4,633 680.9,632.5 681.4,632.1 681.9,631.5 682.4,630.9 682.9,630.2 683.4,629.4 683.9,628.6 684.4,627.6 684.9,626.6 685.4,625.4 685.9,624.2 686.4,622.9 686.9,621.5 687.4,620.2 687.9,618.8 688.4,617.4 688.9,616.1 689.4,614.9 689.9,613.9 690.4,613.1 690.9,612.5 691.4,612.1 691.9,612 692.4,612.2 692.9,612.6 693.4,613.2 693.9,614.1 694.4,615.2 694.9,616.4 695.4,617.7 695.9,619 696.4,620.4 696.9,621.8 697.4,623.2 697.9,624.5 698.4,625.7 698.9,626.8 699.4,627.8 699.9,628.8 700.4,629.6 700.9,630.4 701.4,631 701.9,631.6 702.4,632.2 702.9,632.6 703.4,633 703.9,633.4 704.4,633.7 704.9,634 705.4,634.3 705.9,634.5 706.4,634.7 706.9,634.9 707.4,635.1 707.9,635.2 708.4,635.3 708.9,635.5 709.4,635.6 709.9,635.7 710.4,635.8 710.9,635.9 711.4,635.9 711.9,636 712.4,636.1 712.9,636.1 713.4,636.2 714.4,636.3 715.4,636.4 716.4,636.5 717.4,636.6 718.4,636.6 719.4,636.7 720.4,636.7 721.4,636.8 722.4,636.8 723.4,636.9 724.4,636.9 725.4,636.9 726.4,636.9 727.4,637 728.4,637 729.4,637 730.4,637 731.4,637.1 732.4,637.1 733.4,637.1 734.4,637.1 735.4,637.1 736.4,637.1 737.4,637.1 738.4,637.1 739.4,637.2 740.4,637.2 741.4,637.2 742.4,637.2 743.4,637.2 744.4,637.2 745.4,637.2 746.4,637.2 747.4,637.2 748.4,637.2 750.9,637.2 753.4,637.3 755.9,637.3" fill="none" stroke="#ff0000" stroke-width="2.8" stroke-linejoin="round"/>
<path d="M616.2,637.3 616.9,637.3 619.4,637.3 621.9,637.3 624.4,637.3 626.9,637.3 629.4,637.2 631.9,637.2 634.4,637.2 636.9,637.2 639.4,637.2 641.9,637.2 644.4,637.2 646.9,637.1 649.4,637.1 651.9,637.1 654.4,637.1 656.9,637 657.9,637 658.9,637 659.9,637 660.9,636.9 661.9,636.9 662.9,636.9 663.9,636.9 664.9,636.8 665.9,636.8 666.9,636.8 667.9,636.7 668.9,636.7 669.9,636.7 670.9,636.6 671.9,636.6 672.9,636.5 673.9,636.5 674.9,636.4 675.9,636.3 676.9,636.2 677.9,636.2 678.9,636.1 679.9,635.9 680.9,635.8 681.9,635.7 682.9,635.5 683.9,635.3 684.9,635.1 685.9,634.8 686.9,634.5 687.4,634.3 687.9,634.1 688.4,633.9 688.9,633.7 689.4,633.4 689.9,633.1 690.4,632.8 690.9,632.4 691.4,632 691.9,631.5 692.4,630.9 692.9,630.3 693.4,629.6 693.9,628.7 694.4,627.7 694.9,626.6 695.4,625.2 695.9,623.7 696.4,621.9 696.9,619.8 697.4,617.5 697.9,614.8 698.4,611.8 698.9,608.4 699.4,604.8 699.9,600.8 700.4,596.7 700.9,592.5 701.4,588.3 701.9,584.2 702.4,580.4 702.9,577 703.4,574.2 703.9,572.1 704.4,570.8 704.9,570.4 705.4,570.8 705.9,572.1 706.4,574.2 706.9,577 707.4,580.4 707.9,584.2 708.4,588.3 708.9,592.5 709.4,596.7 709.9,600.8 710.4,604.8 710.9,608.4 711.4,611.8 711.9,614.8 712.4,617.5 712.9,619.8 713.4,621.9 713.9,623.7 714.4,625.2 714.9,626.6 715.4,627.7 715.9,628.7 716.4,629.6 716.9,630.3 717.4,630.9 717.9,631.5 718.4,632 718.9,632.4 719.4,632.8 719.9,633.1 720.4,633.4 720.9,633.7 721.4,633.9 721.9,634.1 722.4,634.3 722.9,634.5 723.9,634.8 724.9,635.1 725.9,635.3 726.9,635.5 727.9,635.7 728.9,635.8 729.9,635.9 730.9,636.1 731.9,636.2 732.9,636.2 733.9,636.3 734.9,636.4 735.9,636.5 736.9,636.5 737.9,636.6 738.9,636.6 739.9,636.7 740.9,636.7 741.9,636.7 742.9,636.8 743.9,636.8 744.9,636.8 745.9,636.9 746.9,636.9 747.9,636.9 748.9,636.9 749.9,637 750.9,637 751.9,637 752.9,637 755.4,637.1 757.9,637.1 760.4,637.1 762.9,637.1 765.4,637.2 767.9,637.2 770.4,637.2 772.9,637.2 775.4,637.2 777.9,637.2 780.4,637.2 782.9,637.3 785.4,637.3 787.9,637.3 790.4,637.3 792.9,637.3 793.6,637.3" fill="none" stroke="#ff0000" stroke-width="2.8" stroke-linejoin="round"/>
<path d="M648.6,637.3 650.6,637.3 653.1,637.3 655.6,637.3 658.1,637.2 660.6,637.2 663.1,637.2 665.6,637.2 666.6,637.2 667.6,637.2 668.6,637.2 669.6,637.1 670.6,637.1 671.6,637.1 672.6,637.1 673.6,637.1 674.6,637.1 675.6,637.1 676.6,637 677.6,637 678.6,637 679.6,637 680.6,637 681.6,636.9 682.6,636.9 683.6,636.9 684.6,636.8 685.6,636.8 686.6,636.8 687.6,636.7 688.6,636.7 689.6,636.6 690.6,636.5 691.6,636.5 692.6,636.4 693.6,636.3 694.6,636.2 695.6,636 696.6,635.9 697.1,635.8 697.6,635.7 698.1,635.6 698.6,635.5 699.1,635.3 699.6,635.2 700.1,635 700.6,634.8 701.1,634.6 701.6,634.4 702.1,634.2 702.6,633.9 703.1,633.6 703.6,633.2 704.1,632.8 704.6,632.3 705.1,631.8 705.6,631.1 706.1,630.4 706.6,629.5 707.1,628.6 707.6,627.4 708.1,626.2 708.6,624.7 709.1,623.2 709.6,621.4 710.1,619.5 710.6,617.5 711.1,615.4 711.6,613.3 712.1,611.1 712.6,609.1 713.1,607.2 713.6,605.5 714.1,604.1 714.6,603.1 715.1,602.4 715.6,602.2 716.1,602.4 716.6,603.1 717.1,604.1 717.6,605.5 718.1,607.2 718.6,609.1 719.1,611.1 719.6,613.3 720.1,615.4 720.6,617.5 721.1,619.5 721.6,621.4 722.1,623.2 722.6,624.7 723.1,626.2 723.6,627.4 724.1,628.6 724.6,629.5 725.1,630.4 725.6,631.1 726.1,631.8 726.6,632.3 727.1,632.8 727.6,633.2 728.1,633.6 728.6,633.9 729.1,634.2 729.6,634.4 730.1,634.6 730.6,634.8 731.1,635 731.6,635.2 732.1,635.3 732.6,635.5 733.1,635.6 733.6,635.7 734.1,635.8 734.6,635.9 735.6,636 736.6,636.2 737.6,636.3 738.6,636.4 739.6,636.5 740.6,636.5 741.6,636.6 742.6,636.7 743.6,636.7 744.6,636.8 745.6,636.8 746.6,636.8 747.6,636.9 748.6,636.9 749.6,636.9 750.6,637 751.6,637 752.6,637 753.6,637 754.6,637 755.6,637.1 756.6,637.1 757.6,637.1 758.6,637.1 759.6,637.1 760.6,637.1 761.6,637.1 762.6,637.2 763.6,637.2 764.6,637.2 765.6,637.2 768.1,637.2 770.6,637.2 773.1,637.2 775.6,637.3 778.1,637.3 780.6,637.3 782.6,637.3" fill="none" stroke="#ff0000" stroke-width="2.8" stroke-linejoin="round"/>
<path d="M657.6,637.3 660.1,637.3 662.6,637.2 665.1,637.2 667.6,637.2 670.1,637.2 672.6,637.2 675.1,637.2 677.6,637.2 678.6,637.1 679.6,637.1 680.6,637.1 681.6,637.1 682.6,637.1 683.6,637.1 684.6,637.1 685.6,637.1 686.6,637.1 687.6,637 688.6,637 689.6,637 690.6,637 691.6,637 692.6,637 693.6,636.9 694.6,636.9 695.6,636.9 696.6,636.9 697.6,636.8 698.6,636.8 699.6,636.8 700.6,636.7 701.6,636.7 702.6,636.7 703.6,636.6 704.6,636.6 705.6,636.5 706.6,636.4 707.6,636.4 708.6,636.3 709.6,636.2 710.6,636.1 711.6,636 712.6,635.9 713.6,635.8 714.6,635.6 715.1,635.5 715.6,635.4 716.1,635.3 716.6,635.2 717.1,635.1 717.6,635 718.1,634.9 718.6,634.7 719.1,634.6 719.6,634.4 720.1,634.2 720.6,634 721.1,633.7 721.6,633.5 722.1,633.2 722.6,632.9 723.1,632.5 723.6,632.1 724.1,631.7 724.6,631.2 725.1,630.7 725.6,630.1 726.1,629.4 726.6,628.6 727.1,627.7 727.6,626.7 728.1,625.6 728.6,624.4 729.1,623.1 729.6,621.6 730.1,620 730.6,618.3 731.1,616.5 731.6,614.7 732.1,612.8 732.6,610.9 733.1,609 733.6,607.3 734.1,605.7 734.6,604.3 735.1,603.1 735.6,602.3 736.1,601.8 736.6,601.6 737.1,601.8 737.6,602.3 738.1,603.1 738.6,604.3 739.1,605.7 739.6,607.3 740.1,609 740.6,610.9 741.1,612.8 741.6,614.7 742.1,616.5 742.6,618.3 743.1,620 743.6,621.6 744.1,623.1 744.6,624.4 745.1,625.6 745.6,626.7 746.1,627.7 746.6,628.6 747.1,629.4 747.6,630.1 748.1,630.7 748.6,631.2 749.1,631.7 749.6,632.1 750.1,632.5 750.6,632.9 751.1,633.2 751.6,633.5 752.1,633.7 752.6,634 753.1,634.2 753.6,634.4 754.1,634.6 754.6,634.7 755.1,634.9 755.6,635 756.1,635.1 756.6,635.2 757.1,635.3 757.6,635.4 758.1,635.5 758.6,635.6 759.6,635.8 760.6,635.9 761.6,636 762.6,636.1 763.6,636.2 764.6,636.3 765.6,636.4 766.6,636.4 767.6,636.5 768.6,636.6 769.6,636.6 770.6,636.7 771.6,636.7 772.6,636.7 773.6,636.8 774.6,636.8 775.6,636.8 776.6,636.9 777.6,636.9 778.6,636.9 779.6,636.9 780.6,637 781.6,637 782.6,637 783.6,637 784.6,637 785.6,637 786.6,637.1 787.6,637.1 788.6,637.1 789.6,637.1 790.6,637.1 791.6,637.1 792.6,637.1 793.6,637.1 794.6,637.1 795.6,637.2 798.1,637.2 800.6,637.2 803.1,637.2 805.6,637.2 808.1,637.2 810.6,637.2 813.1,637.3 815.6,637.3" fill="none" stroke="#ff0000" stroke-width="2.8" stroke-linejoin="round"/>
<path d="M636.9,637.2 639.1,637.2 641.6,637.2 644.1,637.2 646.6,637.2 649.1,637.2 651.6,637.2 654.1,637.2 656.6,637.2 659.1,637.1 661.6,637.1 664.1,637.1 666.6,637.1 669.1,637.1 671.6,637.1 672.6,637 673.6,637 674.6,637 675.6,637 676.6,637 677.6,637 678.6,637 679.6,637 680.6,637 681.6,636.9 682.6,636.9 683.6,636.9 684.6,636.9 685.6,636.9 686.6,636.9 687.6,636.8 688.6,636.8 689.6,636.8 690.6,636.8 691.6,636.8 692.6,636.7 693.6,636.7 694.6,636.7 695.6,636.7 696.6,636.6 697.6,636.6 698.6,636.6 699.6,636.5 700.6,636.5 701.6,636.5 702.6,636.4 703.6,636.4 704.6,636.3 705.6,636.3 706.6,636.2 707.6,636.2 708.6,636.1 709.6,636 710.6,635.9 711.6,635.9 712.6,635.8 713.6,635.7 714.6,635.6 715.6,635.4 716.6,635.3 717.6,635.2 718.6,635 719.1,634.9 719.6,634.8 720.1,634.8 720.6,634.7 721.1,634.6 721.6,634.4 722.1,634.3 722.6,634.2 723.1,634.1 723.6,633.9 724.1,633.8 724.6,633.6 725.1,633.5 725.6,633.3 726.1,633.1 726.6,632.9 727.1,632.7 727.6,632.4 728.1,632.2 728.6,631.9 729.1,631.6 729.6,631.3 730.1,631 730.6,630.6 731.1,630.2 731.6,629.8 732.1,629.3 732.6,628.8 733.1,628.2 733.6,627.6 734.1,627 734.6,626.3 735.1,625.5 735.6,624.6 736.1,623.7 736.6,622.7 737.1,621.6 737.6,620.5 738.1,619.2 738.6,617.9 739.1,616.4 739.6,614.9 740.1,613.3 740.6,611.7 741.1,610 741.6,608.2 742.1,606.5 742.6,604.8 743.1,603.1 743.6,601.6 744.1,600.1 744.6,598.8 745.1,597.7 745.6,596.8 746.1,596.1 746.6,595.7 747.1,595.6 747.6,595.7 748.1,596.1 748.6,596.8 749.1,597.7 749.6,598.8 750.1,600.1 750.6,601.6 751.1,603.1 751.6,604.8 752.1,606.5 752.6,608.2 753.1,610 753.6,611.7 754.1,613.3 754.6,614.9 755.1,616.4 755.6,617.9 756.1,619.2 756.6,620.5 757.1,621.6 757.6,622.7 758.1,623.7 758.6,624.6 759.1,625.5 759.6,626.3 760.1,627 760.6,627.6 761.1,628.2 761.6,628.8 762.1,629.3 762.6,629.8 763.1,630.2 763.6,630.6 764.1,631 764.6,631.3 765.1,631.6 765.6,631.9 766.1,632.2 766.6,632.4 767.1,632.7 767.6,632.9 768.1,633.1 768.6,633.3 769.1,633.5 769.6,633.6 770.1,633.8 770.6,633.9 771.1,634.1 771.6,634.2 772.1,634.3 772.6,634.4 773.1,634.6 773.6,634.7 774.1,634.8 774.6,634.8 775.1,634.9 775.6,635 776.6,635.2 777.6,635.3 778.6,635.4 779.6,635.6 780.6,635.7 781.6,635.8 782.6,635.9 783.6,635.9 784.6,636 785.6,636.1 786.6,636.2 787.6,636.2 788.6,636.3 789.6,636.3 790.6,636.4 791.6,636.4 792.6,636.5 793.6,636.5 794.6,636.5 795.6,636.6 796.6,636.6 797.6,636.6 798.6,636.7 799.6,636.7 800.6,636.7 801.6,636.7 802.6,636.8 803.6,636.8 804.6,636.8 805.6,636.8 806.6,636.8 807.6,636.9 808.6,636.9 809.6,636.9 810.6,636.9 811.6,636.9 812.6,636.9 813.6,637 814.6,637 815.6,637 816.6,637 817.6,637 818.6,637 819.6,637 820.6,637 821.6,637 822.6,637.1 825.1,637.1 827.6,637.1 830.1,637.1 832.6,637.1 835.1,637.1 836,637.2" fill="none" stroke="#ff0000" stroke-width="2.8" stroke-linejoin="round"/>
<path d="M729.1,637.3 730.1,637.3 731.1,637.3 732.1,637.2 733.1,637.2 734.1,637.2 735.1,637.2 736.1,637.2 737.1,637.2 738.1,637.2 739.1,637.1 740.1,637.1 741.1,637.1 742.1,637.1 743.1,637 744.1,637 745.1,637 745.6,637 746.1,636.9 746.6,636.9 747.1,636.9 747.6,636.8 748.1,636.8 748.6,636.8 749.1,636.7 749.6,636.7 750.1,636.6 750.6,636.6 751.1,636.5 751.6,636.4 752.1,636.4 752.6,636.3 753.1,636.2 753.6,636.1 754.1,636 754.6,635.8 755.1,635.7 755.6,635.5 756.1,635.3 756.6,635 757.1,634.8 757.6,634.5 758.1,634.1 758.6,633.7 759.1,633.3 759.6,632.9 760.1,632.4 760.6,631.9 761.1,631.4 761.6,630.9 762.1,630.4 762.6,629.9 763.1,629.5 763.6,629.1 764.1,628.7 764.6,628.5 765.1,628.4 765.6,628.3 766.1,628.4 766.6,628.5 767.1,628.7 767.6,629.1 768.1,629.5 768.6,629.9 769.1,630.4 769.6,630.9 770.1,631.4 770.6,631.9 771.1,632.4 771.6,632.9 772.1,633.3 772.6,633.7 773.1,634.1 773.6,634.5 774.1,634.8 774.6,635 775.1,635.3 775.6,635.5 776.1,635.7 776.6,635.8 777.1,636 777.6,636.1 778.1,636.2 778.6,636.3 779.1,636.4 779.6,636.4 780.1,636.5 780.6,636.6 781.1,636.6 781.6,636.7 782.1,636.7 782.6,636.8 783.1,636.8 783.6,636.8 784.1,636.9 784.6,636.9 785.1,636.9 785.6,637 786.1,637 787.1,637 788.1,637 789.1,637.1 790.1,637.1 791.1,637.1 792.1,637.1 793.1,637.2 794.1,637.2 795.1,637.2 796.1,637.2 797.1,637.2 798.1,637.2 799.1,637.2 800.1,637.3 801.1,637.3 802.1,637.3" fill="none" stroke="#ff0000" stroke-width="2.8" stroke-linejoin="round"/>
<path d="M672.5,637.2 672.8,637.2 675.3,637.2 677.8,637.2 680.3,637.2 682.8,637.2 685.3,637.2 687.8,637.2 690.3,637.2 692.8,637.2 695.3,637.1 697.8,637.1 700.3,637.1 702.8,637.1 705.3,637.1 707.8,637.1 708.8,637 709.8,637 710.8,637 711.8,637 712.8,637 713.8,637 714.8,637 715.8,637 716.8,637 717.8,636.9 718.8,636.9 719.8,636.9 720.8,636.9 721.8,636.9 722.8,636.9 723.8,636.9 724.8,636.8 725.8,636.8 726.8,636.8 727.8,636.8 728.8,636.8 729.8,636.7 730.8,636.7 731.8,636.7 732.8,636.7 733.8,636.6 734.8,636.6 735.8,636.6 736.8,636.6 737.8,636.5 738.8,636.5 739.8,636.4 740.8,636.4 741.8,636.4 742.8,636.3 743.8,636.3 744.8,636.2 745.8,636.2 746.8,636.1 747.8,636 748.8,636 749.8,635.9 750.8,635.8 751.8,635.7 752.8,635.6 753.8,635.5 754.8,635.4 755.8,635.3 756.8,635.1 757.8,635 758.3,634.9 758.8,634.8 759.3,634.7 759.8,634.6 760.3,634.5 760.8,634.4 761.3,634.3 761.8,634.2 762.3,634.1 762.8,634 763.3,633.8 763.8,633.7 764.3,633.5 764.8,633.4 765.3,633.2 765.8,633 766.3,632.8 766.8,632.6 767.3,632.4 767.8,632.1 768.3,631.9 768.8,631.6 769.3,631.3 769.8,631 770.3,630.7 770.8,630.3 771.3,629.9 771.8,629.5 772.3,629 772.8,628.5 773.3,628 773.8,627.4 774.3,626.8 774.8,626.1 775.3,625.4 775.8,624.6 776.3,623.7 776.8,622.8 777.3,621.8 777.8,620.7 778.3,619.5 778.8,618.3 779.3,617 779.8,615.6 780.3,614.2 780.8,612.7 781.3,611.1 781.8,609.5 782.3,607.9 782.8,606.3 783.3,604.7 783.8,603.2 784.3,601.8 784.8,600.5 785.3,599.3 785.8,598.3 786.3,597.5 786.8,596.9 787.3,596.5 787.8,596.4 788.3,596.5 788.8,596.9 789.3,597.5 789.8,598.3 790.3,599.3 790.8,600.5 791.3,601.8 791.8,603.2 792.3,604.7 792.8,606.3 793.3,607.9 793.8,609.5 794.3,611.1 794.8,612.7 795.3,614.2 795.8,615.6 796.3,617 796.8,618.3 797.3,619.5 797.8,620.7 798.3,621.8 798.8,622.8 799.3,623.7 799.8,624.6 800.3,625.4 800.8,626.1 801.3,626.8 801.8,627.4 802.3,628 802.8,628.5 803.3,629 803.8,629.5 804.3,629.9 804.8,630.3 805.3,630.7 805.8,631 806.3,631.3 806.8,631.6 807.3,631.9 807.8,632.1 808.3,632.4 808.8,632.6 809.3,632.8 809.8,633 810.3,633.2 810.8,633.4 811.3,633.5 811.8,633.7 812.3,633.8 812.8,634 813.3,634.1 813.8,634.2 814.3,634.3 814.8,634.4 815.3,634.5 815.8,634.6 816.3,634.7 816.8,634.8 817.3,634.9 817.8,635 818.8,635.1 819.8,635.3 820.8,635.4 821.8,635.5 822.8,635.6 823.8,635.7 824.8,635.8 825.8,635.9 826.8,636 827.8,636 828.8,636.1 829.8,636.2 830.8,636.2 831.8,636.3 832.8,636.3 833.8,636.4 834.8,636.4 835.8,636.4 836,636.5" fill="none" stroke="#ff0000" stroke-width="2.8" stroke-linejoin="round"/>
<path d="M685.1,637.2 686.8,637.2 689.3,637.2 691.8,637.2 694.3,637.2 696.8,637.2 699.3,637.2 701.8,637.2 704.3,637.2 706.8,637.2 709.3,637.2 711.8,637.1 714.3,637.1 716.8,637.1 719.3,637.1 721.8,637.1 724.3,637.1 726.8,637 729.3,637 731.8,637 732.8,637 733.8,636.9 734.8,636.9 735.8,636.9 736.8,636.9 737.8,636.9 738.8,636.9 739.8,636.9 740.8,636.8 741.8,636.8 742.8,636.8 743.8,636.8 744.8,636.7 745.8,636.7 746.8,636.7 747.8,636.7 748.8,636.6 749.8,636.6 750.8,636.6 751.8,636.6 752.8,636.5 753.8,636.5 754.8,636.4 755.8,636.4 756.8,636.3 757.8,636.3 758.8,636.2 759.8,636.2 760.8,636.1 761.8,636.1 762.8,636 763.8,635.9 764.8,635.8 765.8,635.7 766.8,635.6 767.8,635.5 768.8,635.4 769.8,635.3 770.8,635.1 771.8,635 772.8,634.8 773.8,634.6 774.8,634.4 775.3,634.3 775.8,634.2 776.3,634 776.8,633.9 777.3,633.7 777.8,633.6 778.3,633.4 778.8,633.2 779.3,633 779.8,632.8 780.3,632.6 780.8,632.4 781.3,632.1 781.8,631.8 782.3,631.5 782.8,631.2 783.3,630.8 783.8,630.5 784.3,630.1 784.8,629.6 785.3,629.1 785.8,628.6 786.3,628 786.8,627.4 787.3,626.6 787.8,625.9 788.3,625 788.8,624.1 789.3,623.1 789.8,621.9 790.3,620.7 790.8,619.3 791.3,617.8 791.8,616.2 792.3,614.5 792.8,612.6 793.3,610.5 793.8,608.4 794.3,606.1 794.8,603.7 795.3,601.3 795.8,598.8 796.3,596.3 796.8,593.9 797.3,591.6 797.8,589.4 798.3,587.5 798.8,585.8 799.3,584.4 799.8,583.4 800.3,582.8 800.8,582.6 801.3,582.8 801.8,583.4 802.3,584.4 802.8,585.8 803.3,587.5 803.8,589.4 804.3,591.6 804.8,593.9 805.3,596.3 805.8,598.8 806.3,601.3 806.8,603.7 807.3,606.1 807.8,608.4 808.3,610.5 808.8,612.6 809.3,614.5 809.8,616.2 810.3,617.8 810.8,619.3 811.3,620.7 811.8,621.9 812.3,623.1 812.8,624.1 813.3,625 813.8,625.9 814.3,626.6 814.8,627.4 815.3,628 815.8,628.6 816.3,629.1 816.8,629.6 817.3,630.1 817.8,630.5 818.3,630.8 818.8,631.2 819.3,631.5 819.8,631.8 820.3,632.1 820.8,632.4 821.3,632.6 821.8,632.8 822.3,633 822.8,633.2 823.3,633.4 823.8,633.6 824.3,633.7 824.8,633.9 825.3,634 825.8,634.2 826.3,634.3 826.8,634.4 827.8,634.6 828.8,634.8 829.8,635 830.8,635.1 831.8,635.3 832.8,635.4 833.8,635.5 834.8,635.6 835.8,635.7 836,635.8" fill="none" stroke="#ff0000" stroke-width="2.8" stroke-linejoin="round"/>
<path d="M60.6,599.9 61.1,599.6 61.6,599.4 62.1,599.2 62.6,599 63.1,598.8 63.6,598.5 64.2,598.3 64.7,598.1 65.2,597.8 65.7,597.6 66.2,597.4 66.7,597.1 67.2,596.9 67.7,596.6 68.2,596.4 68.7,596.2 69.2,595.9 69.7,595.7 70.2,595.4 70.7,595.1 71.2,594.9 71.7,594.6 72.2,594.4 72.7,594.1 73.2,593.8 73.7,593.6 74.2,593.3 74.7,593 75.2,592.7 75.7,592.5 76.2,592.2 76.7,591.9 77.2,591.6 77.7,591.3 78.2,591 78.7,590.8 79.2,590.5 79.7,590.2 80.2,589.9 80.7,589.6 81.2,589.3 81.7,589 82.2,588.6 82.7,588.3 83.2,588 83.7,587.7 84.2,587.4 84.7,587.1 85.2,586.7 85.7,586.4 86.2,586.1 86.7,585.7 87.2,585.4 87.7,585.1 88.2,584.7 88.7,584.4 89.2,584 89.7,583.7 90.2,583.3 90.7,582.9 91.2,582.6 91.7,582.2 92.2,581.8 92.7,581.5 93.2,581.1 93.7,580.7 94.2,580.3 94.7,580 95.2,579.6 95.7,579.2 96.2,578.8 96.7,578.4 97.2,578 97.7,577.6 98.2,577.2 98.7,576.7 99.2,576.3 99.7,575.9 100.2,575.5 100.7,575 101.2,574.6 101.7,574.2 102.2,573.7 102.7,573.3 103.2,572.8 103.7,572.4 104.2,571.9 104.7,571.5 105.2,571 105.7,570.5 106.2,570.1 106.7,569.6 107.2,569.1 107.7,568.6 108.2,568.1 108.7,567.6 109.2,567.1 109.7,566.6 110.2,566.1 110.7,565.6 111.2,565.1 111.7,564.6 112.2,564.1 112.7,563.5 113.2,563 113.7,562.4 114.2,561.9 114.7,561.3 115.2,560.8 115.7,560.2 116.2,559.7 116.7,559.1 117.2,558.5 117.7,557.9 118.2,557.4 118.7,556.8 119.2,556.2 119.7,555.6 120.2,555 120.7,554.4 121.2,553.7 121.7,553.1 122.2,552.5 122.7,551.9 123.2,551.2 123.7,550.6 124.2,549.9 124.7,549.3 125.2,548.6 125.7,547.9 126.2,547.3 126.7,546.6 127.2,545.9 127.7,545.2 128.2,544.5 128.7,543.8 129.2,543.1 129.7,542.4 130.2,541.7 130.7,541 131.2,540.2 131.7,539.5 132.2,538.8 132.7,538 133.2,537.3 133.7,536.5 134.2,535.7 134.7,535 135.2,534.2 135.7,533.4 136.2,532.6 136.7,531.8 137.2,531 137.7,530.2 138.2,529.4 138.7,528.6 139.2,527.8 139.7,526.9 140.2,526.1 140.7,525.3 141.2,524.4 141.7,523.6 142.2,522.7 142.7,521.8 143.2,521 143.7,520.1 144.2,519.2 144.7,518.3 145.2,517.4 145.7,516.5 146.2,515.6 146.7,514.7 147.2,513.8 147.7,512.9 148.2,512 148.7,511 149.2,510.1 149.7,509.2 150.2,508.2 150.7,507.3 151.2,506.3 151.7,505.3 152.2,504.4 152.7,503.4 153.2,502.4 153.7,501.5 154.2,500.5 154.7,499.5 155.2,498.5 155.7,497.5 156.2,496.5 156.7,495.5 157.2,494.5 157.7,493.5 158.2,492.5 158.7,491.5 159.2,490.5 159.7,489.5 160.2,488.5 160.7,487.4 161.2,486.4 161.7,485.4 162.2,484.4 162.7,483.4 163.2,482.3 163.7,481.3 164.2,480.3 164.7,479.3 165.2,478.2 165.7,477.2 166.2,476.2 166.7,475.2 167.2,474.2 167.7,473.1 168.2,472.1 168.7,471.1 169.2,470.1 169.7,469.1 170.2,468.1 170.7,467.1 171.2,466.1 171.7,465.1 172.2,464.1 172.7,463.1 173.2,462.2 173.7,461.2 174.2,460.2 174.7,459.3 175.2,458.3 175.7,457.4 176.2,456.4 176.7,455.5 177.2,454.6 177.7,453.7 178.2,452.8 178.7,451.9 179.2,451 179.7,450.2 180.2,449.3 180.7,448.5 181.2,447.6 181.7,446.8 182.2,446 182.7,445.2 183.2,444.4 183.7,443.7 184.2,442.9 184.7,442.2 185.2,441.4 185.7,440.7 186.2,440 186.7,439.4 187.2,438.7 187.7,438.1 188.2,437.4 188.7,436.8 189.2,436.3 189.7,435.7 190.2,435.1 190.7,434.6 191.2,434.1 191.7,433.6 192.2,433.1 192.7,432.7 193.2,432.3 193.7,431.9 194.2,431.5 194.7,431.1 195.2,430.8 195.7,430.4 196.2,430.1 196.7,429.9 197.2,429.6 197.7,429.4 198.2,429.2 198.7,429 199.2,428.8 199.7,428.7 200.2,428.6 200.7,428.5 201.2,428.4 201.7,428.4 202.2,428.4 202.7,428.4 203.2,428.4 203.7,428.4 204.2,428.5 204.7,428.6 205.2,428.7 205.7,428.9 206.2,429 206.7,429.2 207.2,429.4 207.7,429.7 208.2,429.9 208.7,430.2 209.2,430.5 209.7,430.9 210.2,431.2 210.7,431.6 211.2,432 211.7,432.4 212.2,432.8 212.7,433.3 213.2,433.8 213.7,434.2 214.2,434.8 214.7,435.3 215.2,435.9 215.7,436.4 216.2,437 216.7,437.6 217.2,438.3 217.7,438.9 218.2,439.6 218.7,440.2 219.2,440.9 219.7,441.6 220.2,442.4 220.7,443.1 221.2,443.9 221.7,444.6 222.2,445.4 222.7,446.2 223.2,447 223.7,447.9 224.2,448.7 224.7,449.5 225.2,450.4 225.7,451.3 226.2,452.1 226.7,453 227.2,453.9 227.7,454.8 228.2,455.8 228.7,456.7 229.2,457.6 229.7,458.6 230.2,459.5 230.7,460.5 231.2,461.4 231.7,462.4 232.2,463.4 232.7,464.4 233.2,465.3 233.7,466.3 234.2,467.3 234.7,468.3 235.2,469.3 235.7,470.3 236.2,471.3 236.7,472.3 237.2,473.4 237.7,474.4 238.2,475.4 238.7,476.4 239.2,477.4 239.7,478.4 240.2,479.5 240.7,480.5 241.2,481.5 241.7,482.5 242.2,483.5 242.7,484.6 243.2,485.6 243.7,486.6 244.2,487.6 244.7,488.6 245.2,489.6 245.7,490.6 246.2,491.6 246.7,492.6 247.2,493.6 247.7,494.6 248.2,495.6 248.7,496.6 249.2,497.6 249.7,498.6 250.2,499.6 250.7,500.6 251.2,501.5 251.7,502.5 252.2,503.5 252.7,504.4 253.2,505.4 253.7,506.3 254.2,507.3 254.7,508.2 255.2,509.2 255.7,510.1 256.1,511 256.6,511.9 257.1,512.8 257.6,513.8 258.1,514.7 258.6,515.6 259.1,516.4 259.6,517.3 260.1,518.2 260.6,519.1 261.1,520 261.6,520.8 262.1,521.7 262.6,522.5 263.1,523.4 263.6,524.2 264.1,525 264.6,525.9 265.1,526.7 265.6,527.5 266.1,528.3 266.6,529.1 267.1,529.9 267.6,530.7 268.1,531.5 268.6,532.2 269.1,533 269.6,533.8 270.1,534.5 270.6,535.3 271.1,536 271.6,536.7 272.1,537.5 272.6,538.2 273.1,538.9 273.6,539.6 274.1,540.3 274.6,541 275.1,541.6 275.6,542.3 276.1,543 276.6,543.6 277.1,544.3 277.6,544.9 278.1,545.6 278.6,546.2 279.1,546.8 279.6,547.4 280.1,548 280.6,548.6 281.1,549.1 281.6,549.7 282.1,550.2 282.6,550.7 283.1,551.3 283.6,551.7 284.1,552.2 284.6,552.7 285.1,553.1 285.6,553.5 286.1,553.8 286.6,554.2 287.1,554.4 287.6,554.6 288.1,554.7 288.6,554.8 289.1,554.7 289.6,554.5 290.1,554.2 290.6,553.8 291.1,553.3 291.6,552.7 292.1,552.1 292.6,551.6 293.1,551.2 293.6,551 294.1,551 294.6,551.1 295.1,551.5 295.6,551.8 296.1,552.2 296.6,552.5 297.1,552.6 297.6,552.5 298.1,552.2 298.6,551.7 299.1,551.1 299.6,550.3 300.1,549.5 300.6,548.8 301.1,548.2 301.6,547.9 302.1,548 302.6,548.4 303.1,549.3 303.6,550.5 304.1,552 304.6,553.7 305.1,555.6 305.6,557.5 306.1,559.4 306.6,561.3 307.1,563 307.6,564.6 308.1,566 308.6,567.3 309.1,568.4 309.6,569.4 310.1,570.2 310.6,571 311.1,571.6 311.6,572.1 312.1,572.5 312.6,572.8 313.1,573 313.6,573.1 314.1,573.1 314.6,573 315.1,572.8 315.6,572.5 316.1,572 316.6,571.5 317.1,570.8 317.6,570.1 318.1,569.3 318.6,568.4 319.1,567.5 319.6,566.7 320.1,566 320.6,565.5 321.1,565.2 321.6,565.2 322.1,565.5 322.6,566 323.1,566.9 323.6,568 324.1,569.4 324.6,570.8 325.1,572.4 325.6,574 326.1,575.7 326.6,577.2 327.1,578.7 327.6,580.2 328.1,581.5 328.6,582.7 329.1,583.8 329.6,584.9 330.1,585.8 330.6,586.7 331.1,587.5 331.6,588.2 332.1,588.9 332.6,589.6 333.1,590.2 333.6,590.7 334.1,591.3 334.6,591.8 335.1,592.2 335.6,592.7 336.1,593.1 336.6,593.5 337.1,593.9 337.6,594.3 338.1,594.7 338.6,595 339.1,595.4 339.6,595.7 340.1,596 340.6,596.4 341.1,596.7 341.6,597 342.1,597.3 342.6,597.6 343.1,597.8 343.6,598.1 344.1,598.4 344.6,598.7 345.1,598.9 345.6,599.2 346.1,599.4 346.6,599.7 347.1,599.9 347.6,600.2 348.1,600.4 348.6,600.6 349.1,600.9 349.6,601.1 350.1,601.3 350.6,601.5 351.1,601.8 351.6,602 352.1,602.2 352.6,602.4 353.1,602.6 353.6,602.8 354.1,603 354.6,603.2 355.1,603.4 355.6,603.6 356.1,603.8 356.6,604 357.1,604.2 357.6,604.4 358.1,604.6 358.6,604.8 359.1,604.9 359.6,605.1 360.1,605.3 360.6,605.5 361.1,605.7 361.6,605.8 362.1,606 362.6,606.2 363.1,606.4 363.6,606.5 364.1,606.7 364.6,606.9 365.1,607 365.6,607.2 366.1,607.3 366.6,607.5 367.1,607.7 367.6,607.8 368.1,608 368.6,608.1 369.1,608.3 369.6,608.4 370.1,608.6 370.6,608.7 371.1,608.9 371.6,609 372.1,609.2 372.6,609.3 373.1,609.5 373.6,609.6 374.1,609.7 374.6,609.9 375.1,610 375.6,610.2 376.1,610.3 376.6,610.4 377.1,610.6 377.6,610.7 378.1,610.8 378.6,611 379.1,611.1 379.6,611.2 380.1,611.3 380.6,611.5 381.1,611.6 381.6,611.7 382.1,611.9 382.6,612 383.1,612.1 383.6,612.2 384.1,612.3 384.6,612.5 385.1,612.6 385.6,612.7 386.1,612.8 386.6,612.9 387.1,613 387.6,613.2 388.1,613.3 388.6,613.4 389.1,613.5 389.6,613.6 390.1,613.7 390.6,613.8 391.1,613.9 391.6,614 392.1,614.2 392.6,614.3 393.1,614.4 393.6,614.5 394.1,614.6 394.6,614.7 395.1,614.8 395.6,614.9 396.1,615 396.6,615.1 397.1,615.2 397.6,615.3 398.1,615.4 398.6,615.5 399.1,615.6 399.6,615.7 400.1,615.8 400.6,615.9 401.1,616 401.6,616.1 402.1,616.1 402.6,616.2 403.1,616.3 403.6,616.4 404.1,616.5 404.6,616.6 405.1,616.7 405.6,616.8 406.1,616.9 406.6,617 407.1,617 407.6,617.1 408.1,617.2 408.6,617.3 409.1,617.4 409.6,617.5 410.1,617.6 410.6,617.6 411.1,617.7 411.6,617.8 412.1,617.9 412.6,618 413.1,618 413.6,618.1 414.1,618.2 414.6,618.3 415.1,618.4 415.6,618.4 416.1,618.5 416.6,618.6 417.1,618.7 417.6,618.7 418.1,618.8 418.6,618.9 419.1,619 419.6,619 420.1,619.1 420.6,619.2 421.1,619.3 421.6,619.3 422.1,619.4 422.6,619.5 423.1,619.5 423.6,619.6 424.1,619.7 424.6,619.7 425.1,619.8 425.6,619.9 426.1,619.9 426.6,620 427.1,620.1 427.6,620.1 428.1,620.2 428.6,620.3 429.1,620.3 429.6,620.4 430.1,620.5 430.6,620.5 431.1,620.6 431.6,620.7 432.1,620.7 432.6,620.8 433.1,620.8 433.6,620.9 434.1,621 434.6,621 435.1,621.1 435.6,621.1 436.1,621.2 436.6,621.3 437.1,621.3 437.6,621.4 438.1,621.4 438.6,621.5 439.1,621.6 439.6,621.6 440.1,621.7 440.6,621.7 441.1,621.8 441.6,621.8 442.1,621.9 442.6,621.9 443.1,622 443.6,622 444.1,622.1 444.6,622.2 445.1,622.2 445.6,622.3 446.1,622.3 446.6,622.4 447.1,622.4 447.6,622.5 448.1,622.5 448.6,622.6 449.1,622.6 449.6,622.7 450.1,622.7 450.6,622.8 451.1,622.8 451.6,622.9 452.1,622.9 452.6,623 453.1,623 453.6,623.1 454.1,623.1 454.6,623.1 455.1,623.2 455.6,623.2 456.1,623.3 456.6,623.3 457.1,623.4 457.6,623.4 458.1,623.5 458.6,623.5 459.1,623.6 459.6,623.6 460.1,623.6 460.6,623.7 461.1,623.7 461.6,623.8 462.1,623.8 462.6,623.8 463.1,623.9 463.6,623.9 464.1,624 464.6,624 465.1,624.1 465.6,624.1 466.1,624.1 466.6,624.2 467.1,624.2 467.6,624.3 468.1,624.3 468.6,624.3 469.1,624.4 469.6,624.4 470.1,624.4 470.6,624.5 471.1,624.5 471.6,624.6 472.1,624.6 472.6,624.6 473.1,624.7 473.6,624.7 474.1,624.7 474.6,624.8 475.1,624.8 475.6,624.8 476.1,624.9 476.6,624.9 477.1,624.9 477.6,625 478.1,625 478.6,625 479.1,625.1 479.6,625.1 480.1,625.1 480.6,625.2 481.1,625.2 481.6,625.2 482.1,625.3 482.6,625.3 483.1,625.3 483.6,625.4 484.1,625.4 484.6,625.4 485.1,625.5 485.6,625.5 486.1,625.5 486.6,625.6 487.1,625.6 487.6,625.6 488.1,625.6 488.6,625.7 489.1,625.7 489.6,625.7 490.1,625.8 490.6,625.8 491.1,625.8 491.6,625.8 492.1,625.9 492.6,625.9 493.1,625.9 493.6,625.9 494.1,626 494.6,626 495.1,626 495.6,626 496.1,626.1 496.6,626.1 497.1,626.1 497.6,626.1 498.1,626.2 498.6,626.2 499.1,626.2 499.6,626.2 500.1,626.3 500.6,626.3 501.1,626.3 501.6,626.3 502.1,626.4 502.6,626.4 503.1,626.4 503.6,626.4 504.1,626.4 504.6,626.5 505.1,626.5 505.6,626.5 506.1,626.5 506.6,626.6 507.1,626.6 507.6,626.6 508.1,626.6 508.6,626.6 509.1,626.7 509.6,626.7 510.1,626.7 510.6,626.7 511.1,626.7 511.6,626.7 512.1,626.8 512.6,626.8 513.1,626.8 513.6,626.8 514.1,626.8 514.6,626.8 515.1,626.9 515.6,626.9 516.1,626.9 516.6,626.9 517.1,626.9 517.6,626.9 518.1,627 518.6,627 519.1,627 519.6,627 520.1,627 520.6,627 521.1,627 521.6,627.1 522.1,627.1 522.6,627.1 523.1,627.1 523.6,627.1 524.1,627.1 524.6,627.1 525.1,627.1 525.6,627.1 526.1,627.2 526.6,627.2 527.1,627.2 527.6,627.2 528.1,627.2 528.6,627.2 529.1,627.2 529.6,627.2 530.1,627.2 530.6,627.2 531.1,627.2 531.6,627.2 532.1,627.3 532.6,627.3 533.1,627.3 533.6,627.3 534.1,627.3 534.6,627.3 535.1,627.3 535.6,627.3 536.1,627.3 536.6,627.3 537.1,627.3 537.6,627.3 538.1,627.3 538.6,627.3 539.1,627.3 539.6,627.3 540.1,627.3 540.6,627.3 541.1,627.3 541.6,627.3 542.1,627.3 542.6,627.3 543.1,627.3 543.6,627.3 544.1,627.3 544.6,627.3 545.1,627.3 545.6,627.3 546.1,627.3 546.6,627.3 547.1,627.3 547.6,627.3 548.1,627.3 548.6,627.3 549.1,627.3 549.6,627.3 550.1,627.3 550.6,627.2 551.1,627.2 551.6,627.2 552.1,627.2 552.6,627.2 553.1,627.2 553.6,627.2 554.1,627.2 554.6,627.2 555.1,627.1 555.6,627.1 556.1,627.1 556.6,627.1 557.1,627.1 557.6,627.1 558.1,627 558.6,627 559.1,627 559.6,627 560.1,627 560.6,626.9 561.1,626.9 561.6,626.9 562.1,626.9 562.6,626.9 563.1,626.8 563.6,626.8 564.1,626.8 564.6,626.7 565.1,626.7 565.6,626.7 566.1,626.7 566.6,626.6 567.1,626.6 567.6,626.6 568.1,626.5 568.6,626.5 569.1,626.4 569.6,626.4 570.1,626.4 570.6,626.3 571.1,626.3 571.6,626.2 572.1,626.2 572.6,626.1 573.1,626.1 573.6,626 574.1,626 574.6,625.9 575.1,625.9 575.6,625.8 576.1,625.8 576.6,625.7 577.1,625.7 577.6,625.6 578.1,625.5 578.6,625.5 579.1,625.4 579.6,625.3 580.1,625.2 580.6,625.2 581.1,625.1 581.6,625 582.1,624.9 582.6,624.8 583.1,624.7 583.6,624.7 584.1,624.6 584.6,624.5 585.1,624.4 585.6,624.3 586.1,624.2 586.6,624 587.1,623.9 587.6,623.8 588.1,623.7 588.6,623.6 589.1,623.4 589.6,623.3 590.1,623.1 590.6,623 591.1,622.9 591.6,622.7 592.1,622.5 592.6,622.4 593.1,622.2 593.6,622 594.1,621.8 594.6,621.6 595.1,621.4 595.6,621.2 596.1,621 596.6,620.7 597.1,620.5 597.6,620.2 598.1,620 598.6,619.7 599.1,619.4 599.6,619.1 600.1,618.8 600.6,618.4 601.1,618.1 601.6,617.7 602.1,617.3 602.6,616.8 603.1,616.4 603.6,615.8 604.1,615.3 604.6,614.7 605.1,614 605.6,613.3 606.1,612.5 606.6,611.7 607.1,610.7 607.6,609.6 608.1,608.3 608.6,606.9 609.1,605.3 609.6,603.6 610.1,601.7 610.6,599.7 611.1,597.9 611.6,596.3 612.1,595.1 612.6,594.5 613.1,594.5 613.6,594.8 614.1,595.3 614.6,595.7 615.1,596.1 615.6,596.3 616.1,596.3 616.6,596.1 617.1,595.7 617.6,595.1 618.1,594.4 618.6,593.5 619.1,592.4 619.6,591.3 620.1,589.9 620.6,588.5 621.1,586.9 621.6,585.2 622.1,583.3 622.6,581.3 623.1,579.1 623.6,576.8 624.1,574.3 624.6,571.6 625.1,568.7 625.6,565.7 626.1,562.4 626.6,559 627.1,555.3 627.6,551.3 628.1,547.2 628.6,542.8 629.1,538.1 629.6,533.3 630.1,528.2 630.6,522.9 631.1,517.4 631.6,511.8 632.1,506.1 632.6,500.3 633.1,494.6 633.6,489 634.1,483.7 634.6,478.6 635.1,474.1 635.6,470 636.1,466.7 636.6,464.1 637.1,462.4 637.6,461.5 638.1,461.5 638.6,462.4 639.1,464.1 639.6,466.7 640.1,469.8 640.6,473.6 641.1,477.8 641.6,482.4 642.1,487.2 642.6,492.1 643.1,497.1 643.6,502 644.1,506.8 644.6,511.4 645.1,515.9 645.6,520.1 646.1,524 646.6,527.7 647.1,531 647.6,534.1 648.1,536.9 648.6,539.4 649.1,541.7 649.6,543.6 650.1,545.2 650.6,546.6 651.1,547.7 651.6,548.5 652.1,549 652.6,549.2 653.1,549.2 653.6,548.9 654.1,548.3 654.6,547.5 655.1,546.3 655.6,544.8 656.1,543.1 656.6,541.1 657.1,538.7 657.6,536.1 658.1,533.1 658.6,529.9 659.1,526.4 659.6,522.7 660.1,518.8 660.6,514.8 661.1,510.6 661.6,506.5 662.1,502.4 662.6,498.6 663.1,495.1 663.6,492 664.1,489.6 664.6,487.8 665.1,486.8 665.6,486.6 666.1,487.3 666.6,488.8 667.1,491.2 667.6,494.2 668.1,497.9 668.6,502.2 669.1,506.8 669.6,511.7 670.1,516.7 670.6,521.8 671.1,526.9 671.6,531.9 672.1,536.7 672.6,541.4 673.1,545.8 673.6,550 674.1,554 674.6,557.7 675.1,561.2 675.6,564.4 676.1,567.4 676.6,570.2 677.1,572.7 677.6,575.1 678.1,577.2 678.6,579.2 679.1,580.9 679.6,582.6 680.1,584 680.6,585.3 681.1,586.4 681.6,587.4 682.1,588.2 682.6,588.8 683.1,589.4 683.6,589.7 684.1,589.9 684.6,590 685.1,589.9 685.6,589.6 686.1,589.2 686.6,588.6 687.1,587.9 687.6,587 688.1,586 688.6,584.9 689.1,583.7 689.6,582.6 690.1,581.5 690.6,580.6 691.1,579.9 691.6,579.4 692.1,579.3 692.6,579.4 693.1,579.8 693.6,580.3 694.1,580.9 694.6,581.6 695.1,582.1 695.6,582.5 696.1,582.7 696.6,582.7 697.1,582.4 697.6,581.7 698.1,580.7 698.6,579.4 699.1,577.6 699.6,575.4 700.1,572.8 700.6,569.8 701.1,566.5 701.6,562.9 702.1,559.1 702.6,555.3 703.1,551.8 703.6,548.8 704.1,546.6 704.6,545.5 705.1,545.4 705.6,546.5 706.1,548.6 706.6,551.5 707.1,554.8 707.6,558.4 708.1,561.9 708.6,565.3 709.1,568.2 709.6,570.8 710.1,572.8 710.6,574.3 711.1,575.3 711.6,575.7 712.1,575.7 712.6,575.3 713.1,574.5 713.6,573.6 714.1,572.8 714.6,572.2 715.1,572.2 715.6,572.8 716.1,574.2 716.6,576.2 717.1,578.8 717.6,581.6 718.1,584.6 718.6,587.6 719.1,590.3 719.6,592.9 720.1,595.1 720.6,597.1 721.1,598.8 721.6,600.3 722.1,601.5 722.6,602.5 723.1,603.3 723.6,604 724.1,604.5 724.6,604.8 725.1,605 725.6,605 726.1,604.9 726.6,604.6 727.1,604.3 727.6,603.7 728.1,603.1 728.6,602.3 729.1,601.3 729.6,600.1 730.1,598.8 730.6,597.3 731.1,595.6 731.6,593.7 732.1,591.7 732.6,589.4 733.1,587.1 733.6,584.7 734.1,582.2 734.6,579.9 735.1,577.7 735.6,575.9 736.1,574.4 736.6,573.4 737.1,572.9 737.6,572.8 738.1,573.1 738.6,573.6 739.1,574.3 739.6,575.1 740.1,575.8 740.6,576.4 741.1,576.8 741.6,577 742.1,577.1 742.6,577.1 743.1,576.9 743.6,576.6 744.1,576.3 744.6,576 745.1,575.7 745.6,575.6 746.1,575.6 746.6,575.9 747.1,576.4 747.6,577.1 748.1,578.1 748.6,579.2 749.1,580.6 749.6,582.2 750.1,583.8 750.6,585.6 751.1,587.4 751.6,589.2 752.1,591 752.6,592.7 753.1,594.4 753.6,596 754.1,597.5 754.6,598.9 755.1,600.2 755.6,601.3 756.1,602.4 756.6,603.4 757.1,604.2 757.6,604.9 758.1,605.6 758.6,606.1 759.1,606.5 759.6,606.9 760.1,607.1 760.6,607.3 761.1,607.4 761.6,607.4 762.1,607.3 762.6,607.3 763.1,607.1 763.6,607 764.1,606.9 764.6,606.9 765.1,606.9 765.6,607 766.1,607.2 766.6,607.4 767.1,607.7 767.6,608 768.1,608.4 768.6,608.8 769.1,609.1 769.6,609.4 770.1,609.7 770.6,609.9 771.1,610.1 771.6,610.1 772.1,610.1 772.6,610.1 773.1,609.9 773.6,609.7 774.1,609.4 774.6,609 775.1,608.6 775.6,608 776.1,607.4 776.6,606.7 777.1,605.9 777.6,605 778.1,604.1 778.6,603 779.1,601.8 779.6,600.5 780.1,599.2 780.6,597.7 781.1,596.2 781.6,594.6 782.1,592.9 782.6,591.1 783.1,589.3 783.6,587.5 784.1,585.6 784.6,583.9 785.1,582.2 785.6,580.6 786.1,579.1 786.6,577.9 787.1,576.8 787.6,575.9 788.1,575.3 788.6,574.8 789.1,574.6 789.6,574.5 790.1,574.5 790.6,574.6 791.1,574.8 791.6,574.9 792.1,575 792.6,575 793.1,574.9 793.6,574.7 794.1,574.2 794.6,573.7 795.1,572.9 795.6,572 796.1,571 796.6,569.9 797.1,568.7 797.6,567.5 798.1,566.4 798.6,565.5 799.1,564.8 799.6,564.3 800.1,564.3 800.6,564.6 801.1,565.4 801.6,566.7 802.1,568.3 802.6,570.3 803.1,572.6 803.6,575.1 804.1,577.8 804.6,580.6 805.1,583.4 805.6,586.1 806.1,588.8 806.6,591.4 807.1,593.9 807.6,596.3 808.1,598.5 808.6,600.6 809.1,602.5 809.6,604.4 810.1,606 810.6,607.6 811.1,609.1 811.6,610.4 812.1,611.7 812.6,612.9 813.1,613.9 813.6,615 814.1,615.9 814.6,616.8 815.1,617.6 815.6,618.4 816.1,619.1 816.6,619.7 817.1,620.4 817.6,620.9 818.1,621.5 818.6,622 819.1,622.5 819.6,623 820.1,623.4 820.6,623.8 821.1,624.2 821.6,624.5 822.1,624.9 822.6,625.2 823.1,625.5 823.6,625.8 824.1,626.1 824.6,626.4 825.1,626.6 825.6,626.9 826.1,627.1 826.6,627.3 827.1,627.5 827.6,627.7 828.1,627.9 828.6,628.1 829.1,628.3 829.6,628.5 830.1,628.6 830.6,628.8 831.1,628.9 831.6,629.1 832.1,629.2 832.6,629.4 833.1,629.5 833.6,629.6 834.1,629.7 834.6,629.8 835.1,630 835.6,630.1" fill="none" stroke="#000" stroke-width="2.9" stroke-linejoin="round"/>
<text x="315.3" y="719.2" font-size="27" font-weight="bold" fill="#000" textLength="279.5" lengthAdjust="spacingAndGlyphs">Wavenumber [cm<tspan dy="-11" font-size="19">-1</tspan><tspan dy="11">]</tspan></text>
<text transform="translate(38.800000000000004,585.3000000000001) rotate(-90)" x="0" y="0" font-size="52" font-weight="bold" fill="#000" textLength="132.3" lengthAdjust="spacingAndGlyphs">Lipids</text>
<!-- panel DNA/RNA -->
<rect x="59.40" y="764.7" width="4.2" height="249.0" fill="#262626"/>
<rect x="59.40" y="1009.5" width="778.70" height="4.2" fill="#262626"/>
<rect x="150.00" y="1001.8" width="4.2" height="9.8" fill="#262626"/>
<text x="152.1" y="1054.9" font-size="29.6" text-anchor="middle" fill="#262626">3500</text>
<rect x="281.42" y="1001.8" width="4.2" height="9.8" fill="#262626"/>
<text x="283.5" y="1054.9" font-size="29.6" text-anchor="middle" fill="#262626">3000</text>
<rect x="412.84" y="1001.8" width="4.2" height="9.8" fill="#262626"/>
<text x="414.9" y="1054.9" font-size="29.6" text-anchor="middle" fill="#262626">2500</text>
<rect x="544.26" y="1001.8" width="4.2" height="9.8" fill="#262626"/>
<text x="546.4" y="1054.9" font-size="29.6" text-anchor="middle" fill="#262626">2000</text>
<rect x="675.68" y="1001.8" width="4.2" height="9.8" fill="#262626"/>
<text x="677.8" y="1054.9" font-size="29.6" text-anchor="middle" fill="#262626">1500</text>
<rect x="807.10" y="1001.8" width="4.2" height="9.8" fill="#262626"/>
<text x="809.2" y="1054.9" font-size="29.6" text-anchor="middle" fill="#262626">1000</text>
<path d="M61.5,1011.6 L836.5,1011.6" fill="none" stroke="#ff0000" stroke-width="3.4"/>
<path d="M61.5,976.8 61.9,976.6 63.9,975.8 65.9,974.9 67.9,974.1 69.9,973.2 71.9,972.2 73.9,971.3 75.9,970.3 77.9,969.2 79.9,968.1 81.9,967 83.9,965.9 85.9,964.7 87.9,963.5 89.9,962.2 91.9,960.9 93.9,959.5 95.9,958.1 97.9,956.6 99.9,955.1 101.9,953.6 103.9,951.9 105.9,950.3 107.9,948.5 109.9,946.7 111.9,944.8 113.9,942.9 115.9,940.9 117.9,938.8 119.9,936.6 121.9,934.4 123.9,932.1 125.9,929.7 127.9,927.2 129.9,924.7 131.9,922 133.9,919.3 135.9,916.5 137.9,913.6 139.9,910.6 141.9,907.5 143.9,904.4 145.9,901.1 147.9,897.8 149.9,894.4 151.9,890.9 153.9,887.4 155.9,883.8 157.9,880.1 159.9,876.4 161.9,872.6 163.9,868.9 165.9,865.1 167.9,861.3 169.9,857.6 171.9,853.9 173.9,850.2 175.9,846.6 177.9,843.2 179.9,839.8 181.9,836.6 183.9,833.6 185.9,830.8 187.9,828.2 189.9,825.8 191.9,823.7 193.9,821.9 195.9,820.4 197.9,819.2 199.9,818.4 201.9,817.9 203.9,817.7 205.9,817.9 207.9,818.4 209.9,819.3 211.9,820.5 213.9,822 215.9,823.8 217.9,825.9 219.9,828.2 221.9,830.8 223.9,833.7 225.9,836.7 227.9,839.9 229.9,843.2 231.9,846.7 233.9,850.3 235.9,853.9 237.9,857.6 239.9,861.4 241.9,865.2 243.9,868.9 245.9,872.7 247.9,876.5 249.9,880.2 251.9,883.8 253.9,887.4 255.9,891 257.9,894.5 259.9,897.9 261.9,901.2 263.9,904.4 265.9,907.6 267.9,910.7 269.9,913.6 271.9,916.5 273.9,919.4 275.9,922.1 277.9,924.7 279.9,927.3 281.9,929.7 283.9,932.1 285.9,934.4 287.9,936.7 289.9,938.8 291.9,940.9 293.9,942.9 295.9,944.9 297.9,946.7 299.9,948.5 301.9,950.3 303.9,952 305.9,953.6 307.9,955.2 309.9,956.7 311.9,958.1 313.9,959.6 315.9,960.9 317.9,962.2 319.9,963.5 321.9,964.7 323.9,965.9 325.9,967.1 327.9,968.2 329.9,969.2 331.9,970.3 333.9,971.3 335.9,972.2 337.9,973.2 339.9,974.1 341.9,975 343.9,975.8 345.9,976.6 347.9,977.4 349.9,978.2 351.9,978.9 353.9,979.7 355.9,980.4 357.9,981 359.9,981.7 361.9,982.3 363.9,983 365.9,983.6 367.9,984.2 369.9,984.7 371.9,985.3 373.9,985.8 375.9,986.3 377.9,986.8 379.9,987.3 381.9,987.8 383.9,988.3 385.9,988.7 387.9,989.1 389.9,989.6 391.9,990 393.9,990.4 395.9,990.8 397.9,991.2 399.9,991.5 401.9,991.9 403.9,992.3 405.9,992.6 407.9,992.9 409.9,993.3 411.9,993.6 413.9,993.9 415.9,994.2 417.9,994.5 419.9,994.8 421.9,995.1 423.9,995.3 425.9,995.6 427.9,995.9 429.9,996.1 431.9,996.4 433.9,996.6 435.9,996.8 437.9,997.1 439.9,997.3 441.9,997.5 443.9,997.7 445.9,998 447.9,998.2 449.9,998.4 451.9,998.6 453.9,998.8 455.9,998.9 457.9,999.1 459.9,999.3 461.9,999.5 463.9,999.7 465.9,999.8 467.9,1000 469.9,1000.2 471.9,1000.3 473.9,1000.5 475.9,1000.6 477.9,1000.8 479.9,1000.9 481.9,1001.1 483.9,1001.2 485.9,1001.4 487.9,1001.5 489.9,1001.6 491.9,1001.8 493.9,1001.9 495.9,1002 497.9,1002.1 499.9,1002.3 501.9,1002.4 503.9,1002.5 505.9,1002.6 507.9,1002.7 509.9,1002.8 511.9,1002.9 513.9,1003.1 515.9,1003.2 517.9,1003.3 519.9,1003.4 521.9,1003.5 523.9,1003.6 525.9,1003.7 527.9,1003.7 529.9,1003.8 531.9,1003.9 533.9,1004 535.9,1004.1 537.9,1004.2 539.9,1004.3 541.9,1004.4 543.9,1004.4 545.9,1004.5 547.9,1004.6 549.9,1004.7 551.9,1004.8 553.9,1004.8 555.9,1004.9 557.9,1005 559.9,1005 561.9,1005.1 563.9,1005.2 565.9,1005.3 567.9,1005.3 569.9,1005.4 571.9,1005.5 573.9,1005.5 575.9,1005.6 577.9,1005.6 579.9,1005.7 581.9,1005.8 583.9,1005.8 585.9,1005.9 587.9,1005.9 589.9,1006 591.9,1006.1 593.9,1006.1 595.9,1006.2 597.9,1006.2 599.9,1006.3 601.9,1006.3 603.9,1006.4 605.9,1006.4 607.9,1006.5 609.9,1006.5 611.9,1006.6 613.9,1006.6 615.9,1006.7 617.9,1006.7 619.9,1006.8 621.9,1006.8 623.9,1006.8 625.9,1006.9 627.9,1006.9 629.9,1007 631.9,1007 633.9,1007.1 635.9,1007.1 637.9,1007.1 639.9,1007.2 641.9,1007.2 643.9,1007.3 645.9,1007.3 647.9,1007.3 649.9,1007.4 651.9,1007.4 653.9,1007.4 655.9,1007.5 657.9,1007.5 659.9,1007.6 661.9,1007.6 663.9,1007.6 665.9,1007.7 667.9,1007.7 669.9,1007.7 671.9,1007.8 673.9,1007.8 675.9,1007.8 677.9,1007.8 679.9,1007.9 681.9,1007.9 683.9,1007.9 685.9,1008 687.9,1008 689.9,1008 691.9,1008.1 693.9,1008.1 695.9,1008.1 697.9,1008.1 699.9,1008.2 701.9,1008.2 703.9,1008.2 705.9,1008.2 707.9,1008.3 709.9,1008.3 711.9,1008.3 713.9,1008.4 715.9,1008.4 717.9,1008.4 719.9,1008.4 721.9,1008.4 723.9,1008.5 725.9,1008.5 727.9,1008.5 729.9,1008.5 731.9,1008.6 733.9,1008.6 735.9,1008.6 737.9,1008.6 739.9,1008.7 741.9,1008.7 743.9,1008.7 745.9,1008.7 747.9,1008.7 749.9,1008.8 751.9,1008.8 753.9,1008.8 755.9,1008.8 757.9,1008.8 759.9,1008.9 761.9,1008.9 763.9,1008.9 765.9,1008.9 767.9,1008.9 769.9,1009 771.9,1009 773.9,1009 775.9,1009 777.9,1009 779.9,1009 781.9,1009.1 783.9,1009.1 785.9,1009.1 787.9,1009.1 789.9,1009.1 791.9,1009.1 793.9,1009.2 795.9,1009.2 797.9,1009.2 799.9,1009.2 801.9,1009.2 803.9,1009.2 805.9,1009.3 807.9,1009.3 809.9,1009.3 811.9,1009.3 813.9,1009.3 815.9,1009.3 817.9,1009.3 819.9,1009.4 821.9,1009.4 823.9,1009.4 825.9,1009.4 827.9,1009.4 829.9,1009.4 831.9,1009.4 833.9,1009.5 835.9,1009.5 836,1009.5" fill="none" stroke="#ff0000" stroke-width="2.8" stroke-linejoin="round"/>
<path d="M235.6,1011.5 235.7,1011.5 238.2,1011.4 240.7,1011.4 243.2,1011.4 245.7,1011.4 248.2,1011.4 250.7,1011.3 253.2,1011.3 255.7,1011.3 258.2,1011.2 260.7,1011.2 261.7,1011.2 262.7,1011.1 263.7,1011.1 264.7,1011.1 265.7,1011 266.7,1011 267.7,1010.9 268.7,1010.9 269.7,1010.8 270.7,1010.8 271.7,1010.7 272.7,1010.6 273.7,1010.5 274.7,1010.4 275.7,1010.2 276.7,1010.1 277.7,1009.9 278.7,1009.7 279.7,1009.4 280.7,1009.1 281.7,1008.7 282.2,1008.5 282.7,1008.2 283.2,1007.9 283.7,1007.5 284.2,1007.1 284.7,1006.6 285.2,1006.1 285.7,1005.5 286.2,1004.7 286.7,1003.8 287.2,1002.7 287.7,1001.4 288.2,999.8 288.7,997.8 289.2,995.5 289.7,992.5 290.2,989.1 290.7,985 291.2,980.3 291.7,975.1 292.2,969.6 292.7,964.2 293.2,959.4 293.7,955.4 294.2,952.9 294.7,952 295.2,952.9 295.7,955.4 296.2,959.4 296.7,964.2 297.2,969.6 297.7,975.1 298.2,980.3 298.7,985 299.2,989.1 299.7,992.5 300.2,995.5 300.7,997.8 301.2,999.8 301.7,1001.4 302.2,1002.7 302.7,1003.8 303.2,1004.7 303.7,1005.5 304.2,1006.1 304.7,1006.6 305.2,1007.1 305.7,1007.5 306.2,1007.9 306.7,1008.2 307.2,1008.5 307.7,1008.7 308.7,1009.1 309.7,1009.4 310.7,1009.7 311.7,1009.9 312.7,1010.1 313.7,1010.2 314.7,1010.4 315.7,1010.5 316.7,1010.6 317.7,1010.7 318.7,1010.8 319.7,1010.8 320.7,1010.9 321.7,1010.9 322.7,1011 323.7,1011 324.7,1011.1 325.7,1011.1 326.7,1011.1 327.7,1011.2 328.7,1011.2 331.2,1011.2 333.7,1011.3 336.2,1011.3 338.7,1011.3 341.2,1011.4 343.7,1011.4 346.2,1011.4 348.7,1011.4 351.2,1011.4 353.7,1011.5 353.8,1011.5" fill="none" stroke="#ff0000" stroke-width="2.8" stroke-linejoin="round"/>
<path d="M192.4,1011.4 194.2,1011.4 196.8,1011.4 199.2,1011.4 201.8,1011.4 204.2,1011.4 206.8,1011.4 209.2,1011.4 211.8,1011.4 214.2,1011.3 216.8,1011.3 219.2,1011.3 221.8,1011.3 224.2,1011.3 226.8,1011.3 229.2,1011.2 231.8,1011.2 234.2,1011.2 236.8,1011.1 239.2,1011.1 241.8,1011.1 244.2,1011 246.8,1011 249.2,1010.9 251.8,1010.8 254.2,1010.8 256.8,1010.7 259.2,1010.6 260.2,1010.5 261.2,1010.5 262.2,1010.4 263.2,1010.3 264.2,1010.3 265.2,1010.2 266.2,1010.1 267.2,1010 268.2,1009.9 269.2,1009.8 270.2,1009.7 271.2,1009.6 272.2,1009.5 273.2,1009.3 274.2,1009.2 275.2,1009 276.2,1008.8 277.2,1008.6 278.2,1008.3 279.2,1008.1 280.2,1007.7 281.2,1007.4 282.2,1007 283.2,1006.5 284.2,1005.9 285.2,1005.3 286.2,1004.5 286.8,1004 287.2,1003.6 287.8,1002.9 288.2,1002.5 288.8,1001.7 289.2,1001.1 289.8,1000.1 290.2,999.4 290.8,998.2 291.2,997.3 291.8,995.8 292.2,994.6 292.8,992.7 293.2,991.2 293.8,988.6 294.2,986.6 294.8,983.2 295.2,980.5 295.8,975.9 296.2,972.4 296.8,966.2 297.2,961.5 297.8,953.4 298.2,947.4 298.8,937.4 299.2,930.3 299.8,919.3 300.2,912 300.8,901.7 301.2,895.8 301.8,888.8 302.2,885.8 302.8,884.3 303.2,885.3 303.8,889.8 304.2,894.4 304.8,903.3 305.2,910.2 305.8,921.1 306.2,928.5 306.8,939.1 307.2,945.8 307.8,954.8 308.2,960.2 308.8,967.3 309.2,971.4 309.8,976.8 310.2,979.8 310.8,983.8 311.2,986.1 311.8,989.1 312.2,990.8 312.8,993 313.2,994.3 313.8,996.1 314.2,997.1 314.8,998.4 315.2,999.2 315.8,1000.3 316.2,1000.9 316.8,1001.8 317.2,1002.3 317.8,1003 318.2,1003.5 318.8,1004 319.2,1004.4 320.2,1005.2 321.2,1005.9 322.2,1006.4 323.2,1006.9 324.2,1007.3 325.2,1007.7 326.2,1008 327.2,1008.3 328.2,1008.6 329.2,1008.8 330.2,1009 331.2,1009.2 332.2,1009.3 333.2,1009.5 334.2,1009.6 335.2,1009.7 336.2,1009.8 337.2,1009.9 338.2,1010 339.2,1010.1 340.2,1010.2 341.2,1010.3 342.2,1010.3 343.2,1010.4 344.2,1010.4 345.2,1010.5 346.2,1010.6 348.8,1010.7 351.2,1010.8 353.8,1010.8 356.2,1010.9 358.8,1011 361.2,1011 363.8,1011.1 366.2,1011.1 368.8,1011.1 371.2,1011.2 373.8,1011.2 376.2,1011.2 378.8,1011.3 381.2,1011.3 383.8,1011.3 386.2,1011.3 388.8,1011.3 391.2,1011.3 393.8,1011.4 396.2,1011.4 398.8,1011.4 401.2,1011.4 403.8,1011.4 406.2,1011.4 408.8,1011.4 411.2,1011.4 413.1,1011.4" fill="none" stroke="#ff0000" stroke-width="2.8" stroke-linejoin="round"/>
<path d="M203.4,1011.4 205.5,1011.4 208,1011.4 210.5,1011.4 213,1011.4 215.5,1011.4 218,1011.4 220.5,1011.3 223,1011.3 225.5,1011.3 228,1011.3 230.5,1011.3 233,1011.3 235.5,1011.3 238,1011.2 240.5,1011.2 243,1011.2 245.5,1011.2 248,1011.1 250.5,1011.1 253,1011.1 255.5,1011 258,1011 260.5,1010.9 263,1010.9 265.5,1010.8 268,1010.7 269,1010.7 270,1010.7 271,1010.6 272,1010.6 273,1010.5 274,1010.5 275,1010.4 276,1010.4 277,1010.3 278,1010.3 279,1010.2 280,1010.2 281,1010.1 282,1010 283,1009.9 284,1009.9 285,1009.8 286,1009.7 287,1009.5 288,1009.4 289,1009.3 290,1009.2 291,1009 292,1008.8 293,1008.6 294,1008.4 295,1008.2 296,1008 297,1007.7 298,1007.4 299,1007 300,1006.6 301,1006.1 302,1005.6 302.5,1005.3 303,1005 303.5,1004.7 304,1004.3 304.5,1003.9 305,1003.5 305.5,1003.1 306,1002.6 306.5,1002 307,1001.5 307.5,1000.8 308,1000.1 308.5,999.4 309,998.5 309.5,997.6 310,996.6 310.5,995.5 311,994.3 311.5,992.9 312,991.4 312.5,989.7 313,987.8 313.5,985.6 314,983.3 314.5,980.6 315,977.7 315.5,974.4 316,970.7 316.5,966.7 317,962.4 317.5,957.7 318,952.7 318.5,947.5 319,942.2 319.5,937 320,932.1 320.5,927.7 321,923.9 321.5,921.1 322,919.3 322.5,918.7 323,919.3 323.5,921.1 324,923.9 324.5,927.7 325,932.1 325.5,937 326,942.2 326.5,947.5 327,952.7 327.5,957.7 328,962.4 328.5,966.7 329,970.7 329.5,974.4 330,977.7 330.5,980.6 331,983.3 331.5,985.6 332,987.8 332.5,989.7 333,991.4 333.5,992.9 334,994.3 334.5,995.5 335,996.6 335.5,997.6 336,998.5 336.5,999.4 337,1000.1 337.5,1000.8 338,1001.5 338.5,1002 339,1002.6 339.5,1003.1 340,1003.5 340.5,1003.9 341,1004.3 341.5,1004.7 342,1005 342.5,1005.3 343,1005.6 344,1006.1 345,1006.6 346,1007 347,1007.4 348,1007.7 349,1008 350,1008.2 351,1008.4 352,1008.6 353,1008.8 354,1009 355,1009.2 356,1009.3 357,1009.4 358,1009.5 359,1009.7 360,1009.8 361,1009.9 362,1009.9 363,1010 364,1010.1 365,1010.2 366,1010.2 367,1010.3 368,1010.3 369,1010.4 370,1010.4 371,1010.5 372,1010.5 373,1010.6 374,1010.6 375,1010.7 376,1010.7 377,1010.7 379.5,1010.8 382,1010.9 384.5,1010.9 387,1011 389.5,1011 392,1011.1 394.5,1011.1 397,1011.1 399.5,1011.2 402,1011.2 404.5,1011.2 407,1011.2 409.5,1011.3 412,1011.3 414.5,1011.3 417,1011.3 419.5,1011.3 422,1011.3 424.5,1011.3 427,1011.4 429.5,1011.4 432,1011.4 434.5,1011.4 437,1011.4 439.5,1011.4 441.6,1011.4" fill="none" stroke="#ff0000" stroke-width="2.8" stroke-linejoin="round"/>
<path d="M497.1,1011.5 499.4,1011.5 501.9,1011.5 504.4,1011.5 506.9,1011.5 509.4,1011.5 511.9,1011.4 514.4,1011.4 516.9,1011.4 519.4,1011.4 521.9,1011.4 524.4,1011.4 526.9,1011.4 529.4,1011.4 531.9,1011.4 534.4,1011.3 536.9,1011.3 539.4,1011.3 541.9,1011.3 544.4,1011.3 546.9,1011.2 549.4,1011.2 551.9,1011.2 554.4,1011.1 556.9,1011.1 559.4,1011 561.9,1011 562.9,1011 563.9,1010.9 564.9,1010.9 565.9,1010.9 566.9,1010.8 567.9,1010.8 568.9,1010.8 569.9,1010.7 570.9,1010.7 571.9,1010.6 572.9,1010.6 573.9,1010.5 574.9,1010.5 575.9,1010.4 576.9,1010.3 577.9,1010.2 578.9,1010.2 579.9,1010.1 580.9,1010 581.9,1009.9 582.9,1009.7 583.9,1009.6 584.9,1009.4 585.9,1009.3 586.9,1009.1 587.9,1008.8 588.9,1008.6 589.9,1008.3 590.9,1007.9 591.9,1007.6 592.9,1007.1 593.4,1006.8 593.9,1006.5 594.4,1006.2 594.9,1005.9 595.4,1005.5 595.9,1005.1 596.4,1004.6 596.9,1004.1 597.4,1003.5 597.9,1002.9 598.4,1002.1 598.9,1001.3 599.4,1000.4 599.9,999.3 600.4,998.1 600.9,996.6 601.4,995 601.9,993.1 602.4,990.9 602.9,988.4 603.4,985.5 603.9,982.2 604.4,978.5 604.9,974.3 605.4,969.6 605.9,964.4 606.4,958.8 606.9,952.9 607.4,946.7 607.9,940.5 608.4,934.2 608.9,928.3 609.4,922.7 609.9,917.9 610.4,913.9 610.9,911 611.4,909.2 611.9,908.7 612.4,909.5 612.9,911.5 613.4,914.6 613.9,918.8 614.4,923.8 614.9,929.4 615.4,935.5 615.9,941.7 616.4,948 616.9,954.1 617.4,960 617.9,965.5 618.4,970.5 618.9,975.1 619.4,979.3 619.9,982.9 620.4,986.1 620.9,988.9 621.4,991.4 621.9,993.5 622.4,995.3 622.9,996.9 623.4,998.3 623.9,999.5 624.4,1000.6 624.9,1001.5 625.4,1002.3 625.9,1003 626.4,1003.6 626.9,1004.2 627.4,1004.7 627.9,1005.2 628.4,1005.6 628.9,1006 629.4,1006.3 629.9,1006.6 630.4,1006.9 630.9,1007.1 631.9,1007.6 632.9,1008 633.9,1008.3 634.9,1008.6 635.9,1008.9 636.9,1009.1 637.9,1009.3 638.9,1009.4 639.9,1009.6 640.9,1009.7 641.9,1009.9 642.9,1010 643.9,1010.1 644.9,1010.2 645.9,1010.3 646.9,1010.3 647.9,1010.4 648.9,1010.5 649.9,1010.5 650.9,1010.6 651.9,1010.6 652.9,1010.7 653.9,1010.7 654.9,1010.8 655.9,1010.8 656.9,1010.8 657.9,1010.9 658.9,1010.9 659.9,1010.9 660.9,1011 661.9,1011 664.4,1011 666.9,1011.1 669.4,1011.1 671.9,1011.2 674.4,1011.2 676.9,1011.2 679.4,1011.3 681.9,1011.3 684.4,1011.3 686.9,1011.3 689.4,1011.3 691.9,1011.4 694.4,1011.4 696.9,1011.4 699.4,1011.4 701.9,1011.4 704.4,1011.4 706.9,1011.4 709.4,1011.4 711.9,1011.4 714.4,1011.5 716.9,1011.5 719.4,1011.5 721.9,1011.5 724.4,1011.5 726.6,1011.5" fill="none" stroke="#ff0000" stroke-width="2.8" stroke-linejoin="round"/>
<path d="M331.5,1011.4 336,1011.4 342,1011.4 348,1011.4 354,1011.4 360,1011.4 366,1011.4 372,1011.4 378,1011.4 384,1011.3 390,1011.3 396,1011.3 402,1011.3 408,1011.3 410.5,1011.3 413,1011.3 415.5,1011.3 418,1011.3 420.5,1011.2 423,1011.2 425.5,1011.2 428,1011.2 430.5,1011.2 433,1011.2 435.5,1011.2 438,1011.2 440.5,1011.2 443,1011.2 445.5,1011.1 448,1011.1 450.5,1011.1 453,1011.1 455.5,1011.1 458,1011.1 460.5,1011.1 463,1011.1 465.5,1011 468,1011 470.5,1011 473,1011 475.5,1011 478,1010.9 480.5,1010.9 483,1010.9 485.5,1010.9 488,1010.9 490.5,1010.8 493,1010.8 495.5,1010.8 498,1010.7 500.5,1010.7 503,1010.7 505.5,1010.6 508,1010.6 510.5,1010.6 513,1010.5 515.5,1010.5 518,1010.4 520.5,1010.4 523,1010.3 525.5,1010.3 528,1010.2 530.5,1010.1 533,1010.1 535.5,1010 538,1009.9 540.5,1009.8 543,1009.7 545.5,1009.6 546.5,1009.6 547.5,1009.6 548.5,1009.5 549.5,1009.5 550.5,1009.4 551.5,1009.4 552.5,1009.3 553.5,1009.3 554.5,1009.2 555.5,1009.1 556.5,1009.1 557.5,1009 558.5,1009 559.5,1008.9 560.5,1008.8 561.5,1008.7 562.5,1008.7 563.5,1008.6 564.5,1008.5 565.5,1008.4 566.5,1008.3 567.5,1008.2 568.5,1008.1 569.5,1008 570.5,1007.9 571.5,1007.8 572.5,1007.7 573.5,1007.6 574.5,1007.5 575.5,1007.3 576.5,1007.2 577.5,1007 578.5,1006.9 579.5,1006.7 580.5,1006.6 581.5,1006.4 582.5,1006.2 583.5,1006 584.5,1005.8 585.5,1005.6 586.5,1005.3 587.5,1005.1 588.5,1004.8 589.5,1004.6 590.5,1004.3 591.5,1004 592.5,1003.6 593.5,1003.3 594.5,1002.9 595.5,1002.5 596.5,1002.1 597.5,1001.6 598.5,1001.1 599.5,1000.6 600.5,1000 601.5,999.4 602.5,998.7 603.5,997.9 604,997.6 604.5,997.2 605,996.7 605.5,996.3 606,995.8 606.5,995.3 607,994.8 607.5,994.3 608,993.8 608.5,993.2 609,992.6 609.5,991.9 610,991.3 610.5,990.6 611,989.8 611.5,989.1 612,988.2 612.5,987.4 613,986.5 613.5,985.5 614,984.5 614.5,983.5 615,982.3 615.5,981.1 616,979.9 616.5,978.5 617,977.1 617.5,975.6 618,974 618.5,972.3 619,970.5 619.5,968.5 620,966.5 620.5,964.2 621,961.9 621.5,959.4 622,956.7 622.5,953.8 623,950.8 623.5,947.5 624,944 624.5,940.2 625,936.3 625.5,932 626,927.5 626.5,922.6 627,917.5 627.5,912.1 628,906.4 628.5,900.4 629,894.1 629.5,887.6 630,880.8 630.5,873.8 631,866.7 631.5,859.5 632,852.2 632.5,845 633,838 633.5,831.2 634,824.7 634.5,818.7 635,813.2 635.5,808.4 636,804.3 636.5,801 637,798.6 637.5,797.2 638,796.7 638.5,797.2 639,798.6 639.5,801 640,804.3 640.5,808.4 641,813.2 641.5,818.7 642,824.7 642.5,831.2 643,838 643.5,845 644,852.2 644.5,859.5 645,866.7 645.5,873.8 646,880.8 646.5,887.6 647,894.1 647.5,900.4 648,906.4 648.5,912.1 649,917.5 649.5,922.6 650,927.5 650.5,932 651,936.3 651.5,940.2 652,944 652.5,947.5 653,950.8 653.5,953.8 654,956.7 654.5,959.4 655,961.9 655.5,964.2 656,966.5 656.5,968.5 657,970.5 657.5,972.3 658,974 658.5,975.6 659,977.1 659.5,978.5 660,979.9 660.5,981.1 661,982.3 661.5,983.5 662,984.5 662.5,985.5 663,986.5 663.5,987.4 664,988.2 664.5,989.1 665,989.8 665.5,990.6 666,991.3 666.5,991.9 667,992.6 667.5,993.2 668,993.8 668.5,994.3 669,994.8 669.5,995.3 670,995.8 670.5,996.3 671,996.7 671.5,997.2 672,997.6 672.5,997.9 673.5,998.7 674.5,999.4 675.5,1000 676.5,1000.6 677.5,1001.1 678.5,1001.6 679.5,1002.1 680.5,1002.5 681.5,1002.9 682.5,1003.3 683.5,1003.6 684.5,1004 685.5,1004.3 686.5,1004.6 687.5,1004.8 688.5,1005.1 689.5,1005.3 690.5,1005.6 691.5,1005.8 692.5,1006 693.5,1006.2 694.5,1006.4 695.5,1006.6 696.5,1006.7 697.5,1006.9 698.5,1007 699.5,1007.2 700.5,1007.3 701.5,1007.5 702.5,1007.6 703.5,1007.7 704.5,1007.8 705.5,1007.9 706.5,1008 707.5,1008.1 708.5,1008.2 709.5,1008.3 710.5,1008.4 711.5,1008.5 712.5,1008.6 713.5,1008.7 714.5,1008.7 715.5,1008.8 716.5,1008.9 717.5,1009 718.5,1009 719.5,1009.1 720.5,1009.1 721.5,1009.2 722.5,1009.3 723.5,1009.3 724.5,1009.4 725.5,1009.4 726.5,1009.5 727.5,1009.5 728.5,1009.6 729.5,1009.6 730.5,1009.6 733,1009.7 735.5,1009.8 738,1009.9 740.5,1010 743,1010.1 745.5,1010.1 748,1010.2 750.5,1010.3 753,1010.3 755.5,1010.4 758,1010.4 760.5,1010.5 763,1010.5 765.5,1010.6 768,1010.6 770.5,1010.6 773,1010.7 775.5,1010.7 778,1010.7 780.5,1010.8 783,1010.8 785.5,1010.8 788,1010.9 790.5,1010.9 793,1010.9 795.5,1010.9 798,1010.9 800.5,1011 803,1011 805.5,1011 808,1011 810.5,1011 813,1011.1 815.5,1011.1 818,1011.1 820.5,1011.1 823,1011.1 825.5,1011.1 828,1011.1 830.5,1011.1 833,1011.2 835.5,1011.2 836,1011.2" fill="none" stroke="#ff0000" stroke-width="2.8" stroke-linejoin="round"/>
<path d="M419,1011.4 420.4,1011.4 426.4,1011.4 432.4,1011.4 438.4,1011.4 444.4,1011.4 450.4,1011.4 452.9,1011.4 455.4,1011.4 457.9,1011.4 460.4,1011.4 462.9,1011.3 465.4,1011.3 467.9,1011.3 470.4,1011.3 472.9,1011.3 475.4,1011.3 477.9,1011.3 480.4,1011.3 482.9,1011.3 485.4,1011.3 487.9,1011.3 490.4,1011.3 492.9,1011.2 495.4,1011.2 497.9,1011.2 500.4,1011.2 502.9,1011.2 505.4,1011.2 507.9,1011.2 510.4,1011.2 512.9,1011.1 515.4,1011.1 517.9,1011.1 520.4,1011.1 522.9,1011.1 525.4,1011.1 527.9,1011 530.4,1011 532.9,1011 535.4,1011 537.9,1011 540.4,1010.9 542.9,1010.9 545.4,1010.9 547.9,1010.8 550.4,1010.8 552.9,1010.8 555.4,1010.7 557.9,1010.7 560.4,1010.7 562.9,1010.6 565.4,1010.6 567.9,1010.5 570.4,1010.4 572.9,1010.4 575.4,1010.3 577.9,1010.2 580.4,1010.2 581.4,1010.1 582.4,1010.1 583.4,1010.1 584.4,1010 585.4,1010 586.4,1009.9 587.4,1009.9 588.4,1009.9 589.4,1009.8 590.4,1009.8 591.4,1009.7 592.4,1009.7 593.4,1009.6 594.4,1009.5 595.4,1009.5 596.4,1009.4 597.4,1009.4 598.4,1009.3 599.4,1009.2 600.4,1009.2 601.4,1009.1 602.4,1009 603.4,1008.9 604.4,1008.8 605.4,1008.7 606.4,1008.6 607.4,1008.5 608.4,1008.4 609.4,1008.3 610.4,1008.2 611.4,1008.1 612.4,1008 613.4,1007.8 614.4,1007.7 615.4,1007.5 616.4,1007.3 617.4,1007.2 618.4,1007 619.4,1006.8 620.4,1006.6 621.4,1006.4 622.4,1006.1 623.4,1005.9 624.4,1005.6 625.4,1005.3 626.4,1005 627.4,1004.6 628.4,1004.3 629.4,1003.9 630.4,1003.4 631.4,1003 632.4,1002.5 633.4,1001.9 633.9,1001.6 634.4,1001.3 634.9,1001 635.4,1000.6 635.9,1000.3 636.4,999.9 636.9,999.5 637.4,999.1 637.9,998.7 638.4,998.2 638.9,997.7 639.4,997.2 639.9,996.7 640.4,996.1 640.9,995.6 641.4,994.9 641.9,994.3 642.4,993.6 642.9,992.8 643.4,992 643.9,991.2 644.4,990.3 644.9,989.4 645.4,988.4 645.9,987.3 646.4,986.2 646.9,985 647.4,983.6 647.9,982.3 648.4,980.8 648.9,979.2 649.4,977.4 649.9,975.6 650.4,973.6 650.9,971.5 651.4,969.2 651.9,966.7 652.4,964.1 652.9,961.2 653.4,958.2 653.9,954.9 654.4,951.4 654.9,947.6 655.4,943.6 655.9,939.3 656.4,934.7 656.9,929.9 657.4,924.9 657.9,919.6 658.4,914.2 658.9,908.5 659.4,902.7 659.9,896.9 660.4,891.1 660.9,885.3 661.4,879.7 661.9,874.3 662.4,869.3 662.9,864.7 663.4,860.6 663.9,857.2 664.4,854.4 664.9,852.4 665.4,851.1 665.9,850.7 666.4,851.1 666.9,852.4 667.4,854.4 667.9,857.2 668.4,860.6 668.9,864.7 669.4,869.3 669.9,874.3 670.4,879.7 670.9,885.3 671.4,891.1 671.9,896.9 672.4,902.7 672.9,908.5 673.4,914.2 673.9,919.6 674.4,924.9 674.9,929.9 675.4,934.7 675.9,939.3 676.4,943.6 676.9,947.6 677.4,951.4 677.9,954.9 678.4,958.2 678.9,961.2 679.4,964.1 679.9,966.7 680.4,969.2 680.9,971.5 681.4,973.6 681.9,975.6 682.4,977.4 682.9,979.2 683.4,980.8 683.9,982.3 684.4,983.6 684.9,985 685.4,986.2 685.9,987.3 686.4,988.4 686.9,989.4 687.4,990.3 687.9,991.2 688.4,992 688.9,992.8 689.4,993.6 689.9,994.3 690.4,994.9 690.9,995.6 691.4,996.1 691.9,996.7 692.4,997.2 692.9,997.7 693.4,998.2 693.9,998.7 694.4,999.1 694.9,999.5 695.4,999.9 695.9,1000.3 696.4,1000.6 696.9,1001 697.4,1001.3 697.9,1001.6 698.4,1001.9 699.4,1002.5 700.4,1003 701.4,1003.4 702.4,1003.9 703.4,1004.3 704.4,1004.6 705.4,1005 706.4,1005.3 707.4,1005.6 708.4,1005.9 709.4,1006.1 710.4,1006.4 711.4,1006.6 712.4,1006.8 713.4,1007 714.4,1007.2 715.4,1007.3 716.4,1007.5 717.4,1007.7 718.4,1007.8 719.4,1008 720.4,1008.1 721.4,1008.2 722.4,1008.3 723.4,1008.4 724.4,1008.5 725.4,1008.6 726.4,1008.7 727.4,1008.8 728.4,1008.9 729.4,1009 730.4,1009.1 731.4,1009.2 732.4,1009.2 733.4,1009.3 734.4,1009.4 735.4,1009.4 736.4,1009.5 737.4,1009.5 738.4,1009.6 739.4,1009.7 740.4,1009.7 741.4,1009.8 742.4,1009.8 743.4,1009.9 744.4,1009.9 745.4,1009.9 746.4,1010 747.4,1010 748.4,1010.1 749.4,1010.1 750.4,1010.1 751.4,1010.2 753.9,1010.2 756.4,1010.3 758.9,1010.4 761.4,1010.4 763.9,1010.5 766.4,1010.6 768.9,1010.6 771.4,1010.7 773.9,1010.7 776.4,1010.7 778.9,1010.8 781.4,1010.8 783.9,1010.8 786.4,1010.9 788.9,1010.9 791.4,1010.9 793.9,1011 796.4,1011 798.9,1011 801.4,1011 803.9,1011 806.4,1011.1 808.9,1011.1 811.4,1011.1 813.9,1011.1 816.4,1011.1 818.9,1011.1 821.4,1011.2 823.9,1011.2 826.4,1011.2 828.9,1011.2 831.4,1011.2 833.9,1011.2 836,1011.2" fill="none" stroke="#ff0000" stroke-width="2.8" stroke-linejoin="round"/>
<path d="M563.2,1011.5 563.5,1011.5 566,1011.5 568.5,1011.5 571,1011.5 573.5,1011.4 576,1011.4 578.5,1011.4 581,1011.4 583.5,1011.4 586,1011.4 588.5,1011.4 591,1011.4 593.5,1011.4 596,1011.4 598.5,1011.4 601,1011.3 603.5,1011.3 606,1011.3 608.5,1011.3 611,1011.3 613.5,1011.2 616,1011.2 618.5,1011.2 621,1011.2 623.5,1011.1 626,1011.1 628.5,1011.1 631,1011 633.5,1011 636,1010.9 637,1010.9 638,1010.9 639,1010.8 640,1010.8 641,1010.8 642,1010.7 643,1010.7 644,1010.7 645,1010.6 646,1010.6 647,1010.5 648,1010.5 649,1010.4 650,1010.4 651,1010.3 652,1010.2 653,1010.2 654,1010.1 655,1010 656,1009.9 657,1009.8 658,1009.7 659,1009.6 660,1009.5 661,1009.3 662,1009.2 663,1009 664,1008.8 665,1008.6 666,1008.3 667,1008.1 668,1007.7 669,1007.4 670,1007 671,1006.5 671.5,1006.3 672,1006 672.5,1005.7 673,1005.4 673.5,1005 674,1004.6 674.5,1004.2 675,1003.7 675.5,1003.2 676,1002.7 676.5,1002.1 677,1001.4 677.5,1000.6 678,999.8 678.5,998.9 679,997.8 679.5,996.6 680,995.3 680.5,993.8 681,992.1 681.5,990.2 682,988 682.5,985.6 683,982.8 683.5,979.7 684,976.3 684.5,972.4 685,968.2 685.5,963.6 686,958.7 686.5,953.5 687,948 687.5,942.4 688,936.8 688.5,931.4 689,926.2 689.5,921.4 690,917.3 690.5,914 691,911.5 691.5,910 692,909.6 692.5,910.2 693,911.9 693.5,914.6 694,918.1 694.5,922.3 695,927.2 695.5,932.4 696,937.9 696.5,943.5 697,949.1 697.5,954.5 698,959.7 698.5,964.6 699,969.1 699.5,973.2 700,977 700.5,980.4 701,983.4 701.5,986.1 702,988.5 702.5,990.6 703,992.5 703.5,994.1 704,995.6 704.5,996.9 705,998 705.5,999.1 706,1000 706.5,1000.8 707,1001.5 707.5,1002.2 708,1002.8 708.5,1003.3 709,1003.8 709.5,1004.3 710,1004.7 710.5,1005.1 711,1005.4 711.5,1005.8 712,1006.1 712.5,1006.3 713,1006.6 714,1007 715,1007.4 716,1007.8 717,1008.1 718,1008.4 719,1008.6 720,1008.8 721,1009 722,1009.2 723,1009.3 724,1009.5 725,1009.6 726,1009.7 727,1009.8 728,1009.9 729,1010 730,1010.1 731,1010.2 732,1010.2 733,1010.3 734,1010.4 735,1010.4 736,1010.5 737,1010.5 738,1010.6 739,1010.6 740,1010.7 741,1010.7 742,1010.7 743,1010.8 744,1010.8 745,1010.8 746,1010.9 747,1010.9 748,1010.9 750.5,1011 753,1011 755.5,1011.1 758,1011.1 760.5,1011.1 763,1011.2 765.5,1011.2 768,1011.2 770.5,1011.2 773,1011.3 775.5,1011.3 778,1011.3 780.5,1011.3 783,1011.3 785.5,1011.4 788,1011.4 790.5,1011.4 793,1011.4 795.5,1011.4 798,1011.4 800.5,1011.4 803,1011.4 805.5,1011.4 808,1011.4 810.5,1011.4 813,1011.5 815.5,1011.5 818,1011.5 820.5,1011.5 820.7,1011.5" fill="none" stroke="#ff0000" stroke-width="2.8" stroke-linejoin="round"/>
<path d="M609.3,1011.5 609.4,1011.5 611.9,1011.5 614.4,1011.5 616.9,1011.5 619.4,1011.5 621.9,1011.5 624.4,1011.4 626.9,1011.4 629.4,1011.4 631.9,1011.4 634.4,1011.4 636.9,1011.4 639.4,1011.4 641.9,1011.3 644.4,1011.3 646.9,1011.3 649.4,1011.3 651.9,1011.2 654.4,1011.2 656.9,1011.2 657.9,1011.1 658.9,1011.1 659.9,1011.1 660.9,1011.1 661.9,1011 662.9,1011 663.9,1011 664.9,1011 665.9,1010.9 666.9,1010.9 667.9,1010.8 668.9,1010.8 669.9,1010.8 670.9,1010.7 671.9,1010.6 672.9,1010.6 673.9,1010.5 674.9,1010.4 675.9,1010.4 676.9,1010.3 677.9,1010.2 678.9,1010 679.9,1009.9 680.9,1009.8 681.9,1009.6 682.9,1009.4 683.9,1009.2 684.9,1008.9 685.9,1008.6 686.9,1008.2 687.4,1008 687.9,1007.8 688.4,1007.5 688.9,1007.3 689.4,1007 689.9,1006.6 690.4,1006.2 690.9,1005.8 691.4,1005.3 691.9,1004.7 692.4,1004.1 692.9,1003.3 693.4,1002.5 693.9,1001.5 694.4,1000.4 694.9,999 695.4,997.5 695.9,995.7 696.4,993.6 696.9,991.2 697.4,988.5 697.9,985.3 698.4,981.8 698.9,977.9 699.4,973.7 699.9,969.1 700.4,964.3 700.9,959.4 701.4,954.5 701.9,949.7 702.4,945.3 702.9,941.3 703.4,938.1 703.9,935.6 704.4,934.1 704.9,933.6 705.4,934.1 705.9,935.6 706.4,938.1 706.9,941.3 707.4,945.3 707.9,949.7 708.4,954.5 708.9,959.4 709.4,964.3 709.9,969.1 710.4,973.7 710.9,977.9 711.4,981.8 711.9,985.3 712.4,988.5 712.9,991.2 713.4,993.6 713.9,995.7 714.4,997.5 714.9,999 715.4,1000.4 715.9,1001.5 716.4,1002.5 716.9,1003.3 717.4,1004.1 717.9,1004.7 718.4,1005.3 718.9,1005.8 719.4,1006.2 719.9,1006.6 720.4,1007 720.9,1007.3 721.4,1007.5 721.9,1007.8 722.4,1008 722.9,1008.2 723.9,1008.6 724.9,1008.9 725.9,1009.2 726.9,1009.4 727.9,1009.6 728.9,1009.8 729.9,1009.9 730.9,1010 731.9,1010.2 732.9,1010.3 733.9,1010.4 734.9,1010.4 735.9,1010.5 736.9,1010.6 737.9,1010.6 738.9,1010.7 739.9,1010.8 740.9,1010.8 741.9,1010.8 742.9,1010.9 743.9,1010.9 744.9,1011 745.9,1011 746.9,1011 747.9,1011 748.9,1011.1 749.9,1011.1 750.9,1011.1 751.9,1011.1 752.9,1011.2 755.4,1011.2 757.9,1011.2 760.4,1011.3 762.9,1011.3 765.4,1011.3 767.9,1011.3 770.4,1011.4 772.9,1011.4 775.4,1011.4 777.9,1011.4 780.4,1011.4 782.9,1011.4 785.4,1011.4 787.9,1011.5 790.4,1011.5 792.9,1011.5 795.4,1011.5 797.9,1011.5 800.4,1011.5 800.5,1011.5" fill="none" stroke="#ff0000" stroke-width="2.8" stroke-linejoin="round"/>
<path d="M610.4,1011.5 611.2,1011.5 613.7,1011.5 616.2,1011.5 618.7,1011.5 621.2,1011.5 623.7,1011.4 626.2,1011.4 628.7,1011.4 631.2,1011.4 633.7,1011.4 636.2,1011.4 638.7,1011.4 641.2,1011.4 643.7,1011.4 646.2,1011.3 648.7,1011.3 651.2,1011.3 653.7,1011.3 656.2,1011.2 658.7,1011.2 661.2,1011.2 663.7,1011.1 666.2,1011.1 667.2,1011.1 668.2,1011 669.2,1011 670.2,1011 671.2,1010.9 672.2,1010.9 673.2,1010.9 674.2,1010.9 675.2,1010.8 676.2,1010.8 677.2,1010.7 678.2,1010.7 679.2,1010.6 680.2,1010.6 681.2,1010.5 682.2,1010.5 683.2,1010.4 684.2,1010.3 685.2,1010.2 686.2,1010.1 687.2,1010 688.2,1009.9 689.2,1009.8 690.2,1009.6 691.2,1009.4 692.2,1009.3 693.2,1009 694.2,1008.8 695.2,1008.5 696.2,1008.2 697.2,1007.8 697.7,1007.6 698.2,1007.3 698.7,1007.1 699.2,1006.8 699.7,1006.5 700.2,1006.1 700.7,1005.7 701.2,1005.3 701.7,1004.8 702.2,1004.2 702.7,1003.6 703.2,1002.9 703.7,1002.1 704.2,1001.2 704.7,1000.2 705.2,999 705.7,997.6 706.2,996 706.7,994.2 707.2,992.1 707.7,989.7 708.2,986.9 708.7,983.8 709.2,980.2 709.7,976.3 710.2,971.9 710.7,967.2 711.2,962.2 711.7,957 712.2,951.6 712.7,946.3 713.2,941.2 713.7,936.5 714.2,932.3 714.7,928.8 715.2,926.2 715.7,924.6 716.2,924.1 716.7,924.6 717.2,926.2 717.7,928.8 718.2,932.3 718.7,936.5 719.2,941.2 719.7,946.3 720.2,951.6 720.7,957 721.2,962.2 721.7,967.2 722.2,971.9 722.7,976.3 723.2,980.2 723.7,983.8 724.2,986.9 724.7,989.7 725.2,992.1 725.7,994.2 726.2,996 726.7,997.6 727.2,999 727.7,1000.2 728.2,1001.2 728.7,1002.1 729.2,1002.9 729.7,1003.6 730.2,1004.2 730.7,1004.8 731.2,1005.3 731.7,1005.7 732.2,1006.1 732.7,1006.5 733.2,1006.8 733.7,1007.1 734.2,1007.3 734.7,1007.6 735.2,1007.8 736.2,1008.2 737.2,1008.5 738.2,1008.8 739.2,1009 740.2,1009.3 741.2,1009.4 742.2,1009.6 743.2,1009.8 744.2,1009.9 745.2,1010 746.2,1010.1 747.2,1010.2 748.2,1010.3 749.2,1010.4 750.2,1010.5 751.2,1010.5 752.2,1010.6 753.2,1010.6 754.2,1010.7 755.2,1010.7 756.2,1010.8 757.2,1010.8 758.2,1010.9 759.2,1010.9 760.2,1010.9 761.2,1010.9 762.2,1011 763.2,1011 764.2,1011 765.2,1011.1 766.2,1011.1 768.7,1011.1 771.2,1011.2 773.7,1011.2 776.2,1011.2 778.7,1011.3 781.2,1011.3 783.7,1011.3 786.2,1011.3 788.7,1011.4 791.2,1011.4 793.7,1011.4 796.2,1011.4 798.7,1011.4 801.2,1011.4 803.7,1011.4 806.2,1011.4 808.7,1011.4 811.2,1011.5 813.7,1011.5 816.2,1011.5 818.7,1011.5 821.2,1011.5 822,1011.5" fill="none" stroke="#ff0000" stroke-width="2.8" stroke-linejoin="round"/>
<path d="M693.5,1011.5 694,1011.5 695,1011.5 696,1011.4 697,1011.4 698,1011.4 699,1011.4 700,1011.4 701,1011.4 702,1011.4 703,1011.4 704,1011.4 705,1011.3 706,1011.3 707,1011.3 708,1011.3 709,1011.3 710,1011.2 711,1011.2 712,1011.2 713,1011.1 714,1011.1 714.5,1011 715,1011 715.5,1011 716,1011 716.5,1010.9 717,1010.9 717.5,1010.8 718,1010.8 718.5,1010.8 719,1010.7 719.5,1010.7 720,1010.6 720.5,1010.5 721,1010.4 721.5,1010.4 722,1010.3 722.5,1010.2 723,1010 723.5,1009.9 724,1009.8 724.5,1009.6 725,1009.4 725.5,1009.2 726,1009 726.5,1008.7 727,1008.4 727.5,1008.1 728,1007.8 728.5,1007.4 729,1006.9 729.5,1006.5 730,1006 730.5,1005.4 731,1004.9 731.5,1004.3 732,1003.8 732.5,1003.2 733,1002.7 733.5,1002.2 734,1001.8 734.5,1001.5 735,1001.2 735.5,1001.1 736,1001 736.5,1001.1 737,1001.2 737.5,1001.5 738,1001.8 738.5,1002.2 739,1002.7 739.5,1003.2 740,1003.8 740.5,1004.3 741,1004.9 741.5,1005.4 742,1006 742.5,1006.5 743,1006.9 743.5,1007.4 744,1007.8 744.5,1008.1 745,1008.4 745.5,1008.7 746,1009 746.5,1009.2 747,1009.4 747.5,1009.6 748,1009.8 748.5,1009.9 749,1010 749.5,1010.2 750,1010.3 750.5,1010.4 751,1010.4 751.5,1010.5 752,1010.6 752.5,1010.7 753,1010.7 753.5,1010.8 754,1010.8 754.5,1010.8 755,1010.9 755.5,1010.9 756,1011 756.5,1011 757,1011 757.5,1011 758,1011.1 759,1011.1 760,1011.2 761,1011.2 762,1011.2 763,1011.3 764,1011.3 765,1011.3 766,1011.3 767,1011.3 768,1011.4 769,1011.4 770,1011.4 771,1011.4 772,1011.4 773,1011.4 774,1011.4 775,1011.4 776,1011.4 777,1011.5 778,1011.5 778.5,1011.5" fill="none" stroke="#ff0000" stroke-width="2.8" stroke-linejoin="round"/>
<path d="M680.5,1011.4 680.8,1011.4 681.8,1011.4 682.8,1011.4 683.8,1011.4 684.8,1011.4 685.8,1011.4 686.8,1011.4 687.8,1011.4 688.8,1011.4 689.8,1011.4 690.8,1011.4 691.8,1011.4 692.8,1011.4 693.8,1011.3 694.8,1011.3 695.8,1011.3 696.8,1011.3 697.8,1011.3 698.8,1011.3 699.8,1011.3 700.8,1011.3 701.8,1011.2 702.8,1011.2 703.8,1011.2 704.8,1011.2 705.8,1011.2 706.8,1011.2 707.8,1011.1 708.8,1011.1 709.8,1011.1 710.8,1011.1 711.8,1011 712.8,1011 713.8,1011 714.8,1010.9 715.8,1010.9 716.8,1010.8 717.8,1010.8 718.8,1010.7 719.3,1010.7 719.8,1010.7 720.3,1010.6 720.8,1010.6 721.3,1010.5 721.8,1010.5 722.3,1010.5 722.8,1010.4 723.3,1010.4 723.8,1010.3 724.3,1010.3 724.8,1010.2 725.3,1010.1 725.8,1010.1 726.3,1010 726.8,1009.9 727.3,1009.8 727.8,1009.8 728.3,1009.7 728.8,1009.6 729.3,1009.4 729.8,1009.3 730.3,1009.2 730.8,1009.1 731.3,1008.9 731.8,1008.8 732.3,1008.6 732.8,1008.4 733.3,1008.2 733.8,1008 734.3,1007.7 734.8,1007.5 735.3,1007.2 735.8,1006.8 736.3,1006.5 736.8,1006.1 737.3,1005.7 737.8,1005.3 738.3,1004.8 738.8,1004.3 739.3,1003.8 739.8,1003.2 740.3,1002.6 740.8,1002 741.3,1001.4 741.8,1000.7 742.3,1000.1 742.8,999.4 743.3,998.8 743.8,998.2 744.3,997.7 744.8,997.2 745.3,996.8 745.8,996.5 746.3,996.2 746.8,996.1 747.3,996 747.8,996.1 748.3,996.2 748.8,996.5 749.3,996.8 749.8,997.2 750.3,997.7 750.8,998.2 751.3,998.8 751.8,999.4 752.3,1000.1 752.8,1000.7 753.3,1001.4 753.8,1002 754.3,1002.6 754.8,1003.2 755.3,1003.8 755.8,1004.3 756.3,1004.8 756.8,1005.3 757.3,1005.7 757.8,1006.1 758.3,1006.5 758.8,1006.8 759.3,1007.2 759.8,1007.5 760.3,1007.7 760.8,1008 761.3,1008.2 761.8,1008.4 762.3,1008.6 762.8,1008.8 763.3,1008.9 763.8,1009.1 764.3,1009.2 764.8,1009.3 765.3,1009.4 765.8,1009.6 766.3,1009.7 766.8,1009.8 767.3,1009.8 767.8,1009.9 768.3,1010 768.8,1010.1 769.3,1010.1 769.8,1010.2 770.3,1010.3 770.8,1010.3 771.3,1010.4 771.8,1010.4 772.3,1010.5 772.8,1010.5 773.3,1010.5 773.8,1010.6 774.3,1010.6 774.8,1010.7 775.3,1010.7 775.8,1010.7 776.8,1010.8 777.8,1010.8 778.8,1010.9 779.8,1010.9 780.8,1011 781.8,1011 782.8,1011 783.8,1011.1 784.8,1011.1 785.8,1011.1 786.8,1011.1 787.8,1011.2 788.8,1011.2 789.8,1011.2 790.8,1011.2 791.8,1011.2 792.8,1011.2 793.8,1011.3 794.8,1011.3 795.8,1011.3 796.8,1011.3 797.8,1011.3 798.8,1011.3 799.8,1011.3 800.8,1011.3 801.8,1011.4 802.8,1011.4 803.8,1011.4 804.8,1011.4 805.8,1011.4 806.8,1011.4 807.8,1011.4 808.8,1011.4 809.8,1011.4 810.8,1011.4 811.8,1011.4 812.8,1011.4 813.8,1011.4 814.1,1011.4" fill="none" stroke="#ff0000" stroke-width="2.8" stroke-linejoin="round"/>
<path d="M669.8,1011.5 671.3,1011.5 673.8,1011.5 676.3,1011.5 678.8,1011.4 681.3,1011.4 683.8,1011.4 686.3,1011.4 688.8,1011.4 691.3,1011.4 693.8,1011.4 696.3,1011.4 698.8,1011.3 701.3,1011.3 703.8,1011.3 706.3,1011.3 708.8,1011.2 711.3,1011.2 712.3,1011.2 713.3,1011.2 714.3,1011.2 715.3,1011.1 716.3,1011.1 717.3,1011.1 718.3,1011.1 719.3,1011.1 720.3,1011 721.3,1011 722.3,1011 723.3,1010.9 724.3,1010.9 725.3,1010.9 726.3,1010.8 727.3,1010.8 728.3,1010.8 729.3,1010.7 730.3,1010.7 731.3,1010.6 732.3,1010.5 733.3,1010.5 734.3,1010.4 735.3,1010.3 736.3,1010.2 737.3,1010.1 738.3,1010 739.3,1009.9 740.3,1009.8 741.3,1009.6 742.3,1009.4 743.3,1009.2 744.3,1009 745.3,1008.7 745.8,1008.6 746.3,1008.4 746.8,1008.2 747.3,1008 747.8,1007.8 748.3,1007.6 748.8,1007.4 749.3,1007.1 749.8,1006.8 750.3,1006.4 750.8,1006.1 751.3,1005.7 751.8,1005.2 752.3,1004.7 752.8,1004.1 753.3,1003.4 753.8,1002.7 754.3,1001.9 754.8,1000.9 755.3,999.8 755.8,998.6 756.3,997.2 756.8,995.6 757.3,993.8 757.8,991.8 758.3,989.5 758.8,987 759.3,984.2 759.8,981.2 760.3,978.1 760.8,974.7 761.3,971.2 761.8,967.7 762.3,964.3 762.8,961 763.3,958 763.8,955.4 764.3,953.2 764.8,951.5 765.3,950.5 765.8,950.2 766.3,950.5 766.8,951.5 767.3,953.2 767.8,955.4 768.3,958 768.8,961 769.3,964.3 769.8,967.7 770.3,971.2 770.8,974.7 771.3,978.1 771.8,981.2 772.3,984.2 772.8,987 773.3,989.5 773.8,991.8 774.3,993.8 774.8,995.6 775.3,997.2 775.8,998.6 776.3,999.8 776.8,1000.9 777.3,1001.9 777.8,1002.7 778.3,1003.4 778.8,1004.1 779.3,1004.7 779.8,1005.2 780.3,1005.7 780.8,1006.1 781.3,1006.4 781.8,1006.8 782.3,1007.1 782.8,1007.4 783.3,1007.6 783.8,1007.8 784.3,1008 784.8,1008.2 785.3,1008.4 785.8,1008.6 786.3,1008.7 787.3,1009 788.3,1009.2 789.3,1009.4 790.3,1009.6 791.3,1009.8 792.3,1009.9 793.3,1010 794.3,1010.1 795.3,1010.2 796.3,1010.3 797.3,1010.4 798.3,1010.5 799.3,1010.5 800.3,1010.6 801.3,1010.7 802.3,1010.7 803.3,1010.8 804.3,1010.8 805.3,1010.8 806.3,1010.9 807.3,1010.9 808.3,1010.9 809.3,1011 810.3,1011 811.3,1011 812.3,1011.1 813.3,1011.1 814.3,1011.1 815.3,1011.1 816.3,1011.1 817.3,1011.2 818.3,1011.2 819.3,1011.2 820.3,1011.2 822.8,1011.2 825.3,1011.3 827.8,1011.3 830.3,1011.3 832.8,1011.3 835.3,1011.4 836,1011.4" fill="none" stroke="#ff0000" stroke-width="2.8" stroke-linejoin="round"/>
<path d="M723.3,1011.4 723.6,1011.4 724.6,1011.4 725.6,1011.4 726.6,1011.4 727.6,1011.4 728.6,1011.4 729.6,1011.4 730.6,1011.4 731.6,1011.4 732.6,1011.4 733.6,1011.4 734.6,1011.4 735.6,1011.3 736.6,1011.3 737.6,1011.3 738.6,1011.3 739.6,1011.3 740.6,1011.3 741.6,1011.3 742.6,1011.3 743.6,1011.2 744.6,1011.2 745.6,1011.2 746.6,1011.2 747.6,1011.2 748.6,1011.1 749.6,1011.1 750.6,1011.1 751.6,1011.1 752.6,1011 753.6,1011 754.6,1011 755.6,1010.9 756.6,1010.9 757.6,1010.8 758.1,1010.8 758.6,1010.8 759.1,1010.8 759.6,1010.7 760.1,1010.7 760.6,1010.7 761.1,1010.6 761.6,1010.6 762.1,1010.6 762.6,1010.5 763.1,1010.5 763.6,1010.4 764.1,1010.4 764.6,1010.3 765.1,1010.3 765.6,1010.2 766.1,1010.2 766.6,1010.1 767.1,1010 767.6,1009.9 768.1,1009.9 768.6,1009.8 769.1,1009.7 769.6,1009.6 770.1,1009.5 770.6,1009.4 771.1,1009.2 771.6,1009.1 772.1,1009 772.6,1008.8 773.1,1008.6 773.6,1008.4 774.1,1008.2 774.6,1008 775.1,1007.8 775.6,1007.5 776.1,1007.3 776.6,1007 777.1,1006.7 777.6,1006.3 778.1,1005.9 778.6,1005.6 779.1,1005.1 779.6,1004.7 780.1,1004.2 780.6,1003.8 781.1,1003.3 781.6,1002.8 782.1,1002.3 782.6,1001.7 783.1,1001.2 783.6,1000.8 784.1,1000.3 784.6,999.9 785.1,999.5 785.6,999.2 786.1,998.9 786.6,998.8 787.1,998.6 787.6,998.6 788.1,998.6 788.6,998.8 789.1,998.9 789.6,999.2 790.1,999.5 790.6,999.9 791.1,1000.3 791.6,1000.8 792.1,1001.2 792.6,1001.7 793.1,1002.3 793.6,1002.8 794.1,1003.3 794.6,1003.8 795.1,1004.2 795.6,1004.7 796.1,1005.1 796.6,1005.6 797.1,1005.9 797.6,1006.3 798.1,1006.7 798.6,1007 799.1,1007.3 799.6,1007.5 800.1,1007.8 800.6,1008 801.1,1008.2 801.6,1008.4 802.1,1008.6 802.6,1008.8 803.1,1009 803.6,1009.1 804.1,1009.2 804.6,1009.4 805.1,1009.5 805.6,1009.6 806.1,1009.7 806.6,1009.8 807.1,1009.9 807.6,1009.9 808.1,1010 808.6,1010.1 809.1,1010.2 809.6,1010.2 810.1,1010.3 810.6,1010.3 811.1,1010.4 811.6,1010.4 812.1,1010.5 812.6,1010.5 813.1,1010.6 813.6,1010.6 814.1,1010.6 814.6,1010.7 815.1,1010.7 815.6,1010.7 816.1,1010.8 816.6,1010.8 817.1,1010.8 817.6,1010.8 818.6,1010.9 819.6,1010.9 820.6,1011 821.6,1011 822.6,1011 823.6,1011.1 824.6,1011.1 825.6,1011.1 826.6,1011.1 827.6,1011.2 828.6,1011.2 829.6,1011.2 830.6,1011.2 831.6,1011.2 832.6,1011.3 833.6,1011.3 834.6,1011.3 835.6,1011.3 836,1011.3" fill="none" stroke="#ff0000" stroke-width="2.8" stroke-linejoin="round"/>
<path d="M737.1,1011.4 738,1011.4 739,1011.4 740,1011.4 741,1011.4 742,1011.4 743,1011.4 744,1011.4 745,1011.4 746,1011.4 747,1011.4 748,1011.4 749,1011.4 750,1011.4 751,1011.3 752,1011.3 753,1011.3 754,1011.3 755,1011.3 756,1011.3 757,1011.3 758,1011.3 759,1011.2 760,1011.2 761,1011.2 762,1011.2 763,1011.2 764,1011.1 765,1011.1 766,1011.1 767,1011.1 768,1011 769,1011 770,1010.9 771,1010.9 772,1010.9 773,1010.8 774,1010.7 775,1010.7 775.5,1010.6 776,1010.6 776.5,1010.6 777,1010.5 777.5,1010.5 778,1010.4 778.5,1010.4 779,1010.3 779.5,1010.2 780,1010.2 780.5,1010.1 781,1010 781.5,1010 782,1009.9 782.5,1009.8 783,1009.7 783.5,1009.6 784,1009.5 784.5,1009.3 785,1009.2 785.5,1009 786,1008.9 786.5,1008.7 787,1008.5 787.5,1008.3 788,1008 788.5,1007.8 789,1007.5 789.5,1007.2 790,1006.8 790.5,1006.4 791,1006 791.5,1005.5 792,1005 792.5,1004.5 793,1003.9 793.5,1003.3 794,1002.6 794.5,1001.9 795,1001.2 795.5,1000.4 796,999.6 796.5,998.9 797,998.1 797.5,997.4 798,996.7 798.5,996.1 799,995.6 799.5,995.2 800,994.9 800.5,994.7 801,994.6 801.5,994.7 802,994.9 802.5,995.2 803,995.6 803.5,996.1 804,996.7 804.5,997.4 805,998.1 805.5,998.9 806,999.6 806.5,1000.4 807,1001.2 807.5,1001.9 808,1002.6 808.5,1003.3 809,1003.9 809.5,1004.5 810,1005 810.5,1005.5 811,1006 811.5,1006.4 812,1006.8 812.5,1007.2 813,1007.5 813.5,1007.8 814,1008 814.5,1008.3 815,1008.5 815.5,1008.7 816,1008.9 816.5,1009 817,1009.2 817.5,1009.3 818,1009.5 818.5,1009.6 819,1009.7 819.5,1009.8 820,1009.9 820.5,1010 821,1010 821.5,1010.1 822,1010.2 822.5,1010.2 823,1010.3 823.5,1010.4 824,1010.4 824.5,1010.5 825,1010.5 825.5,1010.6 826,1010.6 826.5,1010.6 827,1010.7 828,1010.7 829,1010.8 830,1010.9 831,1010.9 832,1010.9 833,1011 834,1011 835,1011.1 836,1011.1" fill="none" stroke="#ff0000" stroke-width="2.8" stroke-linejoin="round"/>
<path d="M61.5,976.6 62,976.4 62.5,976.2 63,976 63.5,975.8 64,975.5 64.5,975.3 65,975.1 65.5,974.9 66,974.7 66.5,974.5 67,974.3 67.5,974 68,973.8 68.5,973.6 69,973.4 69.5,973.1 70,972.9 70.5,972.7 71,972.4 71.5,972.2 72,972 72.5,971.7 73,971.5 73.5,971.2 74,971 74.5,970.7 75,970.5 75.5,970.2 76,970 76.5,969.7 77,969.5 77.5,969.2 78,968.9 78.5,968.7 79,968.4 79.5,968.1 80,967.9 80.5,967.6 81,967.3 81.5,967 82,966.8 82.5,966.5 83,966.2 83.5,965.9 84,965.6 84.5,965.3 85,965 85.5,964.7 86,964.4 86.5,964.1 87,963.8 87.5,963.5 88,963.2 88.5,962.9 89,962.6 89.5,962.2 90,961.9 90.5,961.6 91,961.3 91.5,960.9 92,960.6 92.5,960.2 93,959.9 93.5,959.6 94,959.2 94.5,958.9 95,958.5 95.5,958.2 96,957.8 96.5,957.4 97,957.1 97.5,956.7 98,956.3 98.5,956 99,955.6 99.5,955.2 100,954.8 100.5,954.4 101,954 101.5,953.6 102,953.2 102.5,952.8 103,952.4 103.5,952 104,951.6 104.5,951.2 105,950.8 105.5,950.3 106,949.9 106.5,949.5 107,949 107.5,948.6 108,948.2 108.5,947.7 109,947.3 109.5,946.8 110,946.3 110.5,945.9 111,945.4 111.5,944.9 112,944.5 112.5,944 113,943.5 113.5,943 114,942.5 114.5,942 115,941.5 115.5,941 116,940.5 116.5,940 117,939.5 117.5,938.9 118,938.4 118.5,937.9 119,937.3 119.5,936.8 120,936.2 120.5,935.7 121,935.1 121.5,934.6 122,934 122.5,933.4 123,932.8 123.5,932.3 124,931.7 124.5,931.1 125,930.5 125.5,929.9 126,929.3 126.5,928.7 127,928 127.5,927.4 128,926.8 128.5,926.2 129,925.5 129.5,924.9 130,924.2 130.5,923.6 131,922.9 131.5,922.3 132,921.6 132.5,920.9 133,920.2 133.5,919.5 134,918.8 134.5,918.1 135,917.4 135.5,916.7 136,916 136.5,915.3 137,914.6 137.5,913.8 138,913.1 138.5,912.4 139,911.6 139.5,910.9 140,910.1 140.5,909.4 141,908.6 141.5,907.8 142,907 142.5,906.2 143,905.5 143.5,904.7 144,903.9 144.5,903.1 145,902.2 145.5,901.4 146,900.6 146.5,899.8 147,898.9 147.5,898.1 148,897.3 148.5,896.4 149,895.6 149.5,894.7 150,893.9 150.5,893 151,892.1 151.5,891.2 152,890.4 152.5,889.5 153,888.6 153.5,887.7 154,886.8 154.5,885.9 155,885 155.5,884.1 156,883.2 156.5,882.3 157,881.4 157.5,880.4 158,879.5 158.5,878.6 159,877.7 159.5,876.7 160,875.8 160.5,874.9 161,873.9 161.5,873 162,872 162.5,871.1 163,870.2 163.5,869.2 164,868.3 164.5,867.3 165,866.4 165.5,865.4 166,864.5 166.5,863.5 167,862.6 167.5,861.7 168,860.7 168.5,859.8 169,858.8 169.5,857.9 170,857 170.5,856 171,855.1 171.5,854.2 172,853.2 172.5,852.3 173,851.4 173.5,850.5 174,849.6 174.5,848.7 175,847.8 175.5,846.9 176,846 176.5,845.1 177,844.3 177.5,843.4 178,842.5 178.5,841.7 179,840.8 179.5,840 180,839.2 180.5,838.4 181,837.6 181.5,836.8 182,836 182.5,835.2 183,834.5 183.5,833.7 184,833 184.5,832.2 185,831.5 185.5,830.8 186,830.1 186.5,829.5 187,828.8 187.5,828.2 188,827.5 188.5,826.9 189,826.3 189.5,825.7 190,825.2 190.5,824.6 191,824.1 191.5,823.6 192,823.1 192.5,822.6 193,822.1 193.5,821.7 194,821.3 194.5,820.9 195,820.5 195.5,820.1 196,819.8 196.5,819.4 197,819.1 197.5,818.9 198,818.6 198.5,818.3 199,818.1 199.5,817.9 200,817.7 200.5,817.6 201,817.4 201.5,817.3 202,817.2 202.5,817.1 203,817.1 203.5,817.1 204,817 204.5,817.1 205,817.1 205.5,817.1 206,817.2 206.5,817.3 207,817.4 207.5,817.6 208,817.7 208.5,817.9 209,818.1 209.5,818.4 210,818.6 210.5,818.9 211,819.2 211.5,819.5 212,819.8 212.5,820.1 213,820.5 213.5,820.9 214,821.3 214.5,821.7 215,822.2 215.5,822.6 216,823.1 216.5,823.6 217,824.1 217.5,824.6 218,825.2 218.5,825.7 219,826.3 219.5,826.9 220,827.5 220.5,828.1 221,828.8 221.5,829.4 222,830.1 222.5,830.8 223,831.5 223.5,832.2 224,832.9 224.5,833.6 225,834.4 225.5,835.1 226,835.9 226.5,836.7 227,837.5 227.5,838.3 228,839.1 228.5,839.9 229,840.7 229.5,841.5 230,842.4 230.5,843.2 231,844.1 231.5,844.9 232,845.8 232.5,846.7 233,847.6 233.5,848.5 234,849.3 234.5,850.2 235,851.1 235.5,852 236,852.9 236.5,853.9 237,854.8 237.5,855.7 238,856.6 238.5,857.5 239,858.4 239.5,859.4 240,860.3 240.5,861.2 241,862.1 241.5,863.1 242,864 242.5,864.9 243,865.9 243.5,866.8 244,867.7 244.5,868.6 245,869.5 245.5,870.5 246,871.4 246.5,872.3 247,873.2 247.5,874.1 248,875 248.5,875.9 249,876.8 249.5,877.7 250,878.6 250.5,879.5 251,880.4 251.5,881.3 252,882.2 252.5,883.1 253,883.9 253.5,884.8 254,885.7 254.5,886.5 255,887.4 255.5,888.2 256,889.1 256.5,889.9 257,890.7 257.5,891.6 258,892.4 258.5,893.2 259,894 259.5,894.8 260,895.6 260.5,896.4 261,897.2 261.5,898 262,898.7 262.5,899.5 263,900.2 263.5,901 264,901.7 264.5,902.5 265,903.2 265.5,903.9 266,904.6 266.5,905.3 267,906 267.5,906.7 268,907.3 268.5,908 269,908.7 269.5,909.3 270,909.9 270.5,910.6 271,911.2 271.5,911.8 272,912.4 272.5,912.9 273,913.5 273.5,914 274,914.6 274.5,915.1 275,915.6 275.5,916.1 276,916.6 276.5,917 277,917.5 277.5,917.9 278,918.3 278.5,918.7 279,919 279.5,919.3 280,919.6 280.5,919.9 281,920.1 281.5,920.3 282,920.4 282.5,920.5 283,920.5 283.5,920.4 284,920.3 284.5,920.1 285,919.8 285.5,919.4 286,918.8 286.5,918 287,917.1 287.5,915.8 288,914.3 288.5,912.3 289,909.9 289.5,906.9 290,903.3 290.5,898.9 291,893.9 291.5,888.1 292,881.8 292.5,875.2 293,868.7 293.5,862.8 294,857.7 294.5,853.9 295,851.3 295.5,850 296,849.7 296.5,849.8 297,849.8 297.5,849.2 298,847.7 298.5,845 299,841 299.5,835.9 300,830.1 300.5,824 301,818.2 301.5,813.4 302,810.2 302.5,809 303,810.1 303.5,813.5 304,819 304.5,826.3 305,834.9 305.5,844.2 306,853.7 306.5,862.9 307,871.6 307.5,879.6 308,886.6 308.5,892.8 309,898 309.5,902.4 310,906.1 310.5,909 311,911.3 311.5,913.1 312,914.3 312.5,915.1 313,915.4 313.5,915.2 314,914.6 314.5,913.6 315,912.1 315.5,910.1 316,907.7 316.5,904.8 317,901.5 317.5,897.8 318,893.8 318.5,889.4 319,885 319.5,880.6 320,876.4 320.5,872.6 321,869.6 321.5,867.4 322,866.2 322.5,866.2 323,867.3 323.5,869.6 324,873 324.5,877.3 325,882.2 325.5,887.6 326,893.2 326.5,898.9 327,904.6 327.5,910 328,915.1 328.5,919.8 329,924.2 329.5,928.3 330,931.9 330.5,935.2 331,938.2 331.5,941 332,943.4 332.5,945.7 333,947.7 333.5,949.6 334,951.2 334.5,952.8 335,954.2 335.5,955.5 336,956.8 336.5,957.9 337,958.9 337.5,959.9 338,960.8 338.5,961.7 339,962.5 339.5,963.2 340,964 340.5,964.6 341,965.3 341.5,965.9 342,966.5 342.5,967.1 343,967.6 343.5,968.1 344,968.6 344.5,969.1 345,969.5 345.5,970 346,970.4 346.5,970.8 347,971.2 347.5,971.6 348,972 348.5,972.3 349,972.7 349.5,973 350,973.4 350.5,973.7 351,974 351.5,974.3 352,974.6 352.5,974.9 353,975.2 353.5,975.5 354,975.8 354.5,976 355,976.3 355.5,976.6 356,976.8 356.5,977.1 357,977.3 357.5,977.6 358,977.8 358.5,978 359,978.3 359.5,978.5 360,978.7 360.5,978.9 361,979.1 361.5,979.4 362,979.6 362.5,979.8 363,980 363.5,980.2 364,980.4 364.5,980.6 365,980.8 365.5,981 366,981.1 366.5,981.3 367,981.5 367.5,981.7 368,981.9 368.5,982 369,982.2 369.5,982.4 370,982.6 370.5,982.7 371,982.9 371.5,983.1 372,983.2 372.5,983.4 373,983.5 373.5,983.7 374,983.9 374.5,984 375,984.2 375.5,984.3 376,984.5 376.5,984.6 377,984.8 377.5,984.9 378,985 378.5,985.2 379,985.3 379.5,985.5 380,985.6 380.5,985.7 381,985.9 381.5,986 382,986.1 382.5,986.3 383,986.4 383.5,986.5 384,986.7 384.5,986.8 385,986.9 385.5,987 386,987.2 386.5,987.3 387,987.4 387.5,987.5 388,987.7 388.5,987.8 389,987.9 389.5,988 390,988.1 390.5,988.2 391,988.3 391.5,988.5 392,988.6 392.5,988.7 393,988.8 393.5,988.9 394,989 394.5,989.1 395,989.2 395.5,989.3 396,989.4 396.5,989.5 397,989.6 397.5,989.7 398,989.8 398.5,989.9 399,990 399.5,990.1 400,990.2 400.5,990.3 401,990.4 401.5,990.5 402,990.6 402.5,990.7 403,990.8 403.5,990.9 404,991 404.5,991.1 405,991.2 405.5,991.3 406,991.3 406.5,991.4 407,991.5 407.5,991.6 408,991.7 408.5,991.8 409,991.9 409.5,992 410,992 410.5,992.1 411,992.2 411.5,992.3 412,992.4 412.5,992.4 413,992.5 413.5,992.6 414,992.7 414.5,992.8 415,992.8 415.5,992.9 416,993 416.5,993.1 417,993.1 417.5,993.2 418,993.3 418.5,993.4 419,993.4 419.5,993.5 420,993.6 420.5,993.7 421,993.7 421.5,993.8 422,993.9 422.5,993.9 423,994 423.5,994.1 424,994.2 424.5,994.2 425,994.3 425.5,994.4 426,994.4 426.5,994.5 427,994.6 427.5,994.6 428,994.7 428.5,994.7 429,994.8 429.5,994.9 430,994.9 430.5,995 431,995.1 431.5,995.1 432,995.2 432.5,995.2 433,995.3 433.5,995.4 434,995.4 434.5,995.5 435,995.5 435.5,995.6 436,995.7 436.5,995.7 437,995.8 437.5,995.8 438,995.9 438.5,995.9 439,996 439.5,996 440,996.1 440.5,996.2 441,996.2 441.5,996.3 442,996.3 442.5,996.4 443,996.4 443.5,996.5 444,996.5 444.5,996.6 445,996.6 445.5,996.7 446,996.7 446.5,996.8 447,996.8 447.5,996.9 448,996.9 448.5,997 449,997 449.5,997.1 450,997.1 450.5,997.2 451,997.2 451.5,997.3 452,997.3 452.5,997.3 453,997.4 453.5,997.4 454,997.5 454.5,997.5 455,997.6 455.5,997.6 456,997.7 456.5,997.7 457,997.7 457.5,997.8 458,997.8 458.5,997.9 459,997.9 459.5,998 460,998 460.5,998 461,998.1 461.5,998.1 462,998.2 462.5,998.2 463,998.2 463.5,998.3 464,998.3 464.5,998.4 465,998.4 465.5,998.4 466,998.5 466.5,998.5 467,998.5 467.5,998.6 468,998.6 468.5,998.6 469,998.7 469.5,998.7 470,998.8 470.5,998.8 471,998.8 471.5,998.9 472,998.9 472.5,998.9 473,999 473.5,999 474,999 474.5,999.1 475,999.1 475.5,999.1 476,999.2 476.5,999.2 477,999.2 477.5,999.2 478,999.3 478.5,999.3 479,999.3 479.5,999.4 480,999.4 480.5,999.4 481,999.5 481.5,999.5 482,999.5 482.5,999.5 483,999.6 483.5,999.6 484,999.6 484.5,999.7 485,999.7 485.5,999.7 486,999.7 486.5,999.8 487,999.8 487.5,999.8 488,999.8 488.5,999.9 489,999.9 489.5,999.9 490,999.9 490.5,1000 491,1000 491.5,1000 492,1000 492.5,1000 493,1000.1 493.5,1000.1 494,1000.1 494.5,1000.1 495,1000.2 495.5,1000.2 496,1000.2 496.5,1000.2 497,1000.2 497.5,1000.3 498,1000.3 498.5,1000.3 499,1000.3 499.5,1000.3 500,1000.4 500.5,1000.4 501,1000.4 501.5,1000.4 502,1000.4 502.5,1000.5 503,1000.5 503.5,1000.5 504,1000.5 504.5,1000.5 505,1000.5 505.5,1000.6 506,1000.6 506.5,1000.6 507,1000.6 507.5,1000.6 508,1000.6 508.5,1000.6 509,1000.7 509.5,1000.7 510,1000.7 510.5,1000.7 511,1000.7 511.5,1000.7 512,1000.7 512.5,1000.7 513,1000.8 513.5,1000.8 514,1000.8 514.5,1000.8 515,1000.8 515.5,1000.8 516,1000.8 516.5,1000.8 517,1000.8 517.5,1000.8 518,1000.9 518.5,1000.9 519,1000.9 519.5,1000.9 520,1000.9 520.5,1000.9 521,1000.9 521.5,1000.9 522,1000.9 522.5,1000.9 523,1000.9 523.5,1000.9 524,1000.9 524.5,1000.9 525,1000.9 525.5,1000.9 526,1000.9 526.5,1000.9 527,1000.9 527.5,1000.9 528,1000.9 528.5,1000.9 529,1000.9 529.5,1000.9 530,1000.9 530.5,1000.9 531,1000.9 531.5,1000.9 532,1000.9 532.5,1000.9 533,1000.9 533.5,1000.9 534,1000.9 534.5,1000.9 535,1000.9 535.5,1000.9 536,1000.9 536.5,1000.9 537,1000.9 537.5,1000.9 538,1000.9 538.5,1000.8 539,1000.8 539.5,1000.8 540,1000.8 540.5,1000.8 541,1000.8 541.5,1000.8 542,1000.8 542.5,1000.8 543,1000.7 543.5,1000.7 544,1000.7 544.5,1000.7 545,1000.7 545.5,1000.7 546,1000.6 546.5,1000.6 547,1000.6 547.5,1000.6 548,1000.6 548.5,1000.5 549,1000.5 549.5,1000.5 550,1000.5 550.5,1000.4 551,1000.4 551.5,1000.4 552,1000.3 552.5,1000.3 553,1000.3 553.5,1000.3 554,1000.2 554.5,1000.2 555,1000.2 555.5,1000.1 556,1000.1 556.5,1000 557,1000 557.5,1000 558,999.9 558.5,999.9 559,999.8 559.5,999.8 560,999.7 560.5,999.7 561,999.6 561.5,999.6 562,999.5 562.5,999.5 563,999.4 563.5,999.4 564,999.3 564.5,999.2 565,999.2 565.5,999.1 566,999 566.5,999 567,998.9 567.5,998.8 568,998.8 568.5,998.7 569,998.6 569.5,998.5 570,998.4 570.5,998.3 571,998.3 571.5,998.2 572,998.1 572.5,998 573,997.9 573.5,997.8 574,997.6 574.5,997.5 575,997.4 575.5,997.3 576,997.2 576.5,997 577,996.9 577.5,996.8 578,996.6 578.5,996.5 579,996.3 579.5,996.2 580,996 580.5,995.8 581,995.7 581.5,995.5 582,995.3 582.5,995.1 583,994.9 583.5,994.7 584,994.5 584.5,994.3 585,994 585.5,993.8 586,993.5 586.5,993.2 587,993 587.5,992.7 588,992.4 588.5,992 589,991.7 589.5,991.4 590,991 590.5,990.6 591,990.2 591.5,989.8 592,989.3 592.5,988.8 593,988.3 593.5,987.8 594,987.2 594.5,986.6 595,986 595.5,985.3 596,984.5 596.5,983.7 597,982.9 597.5,982 598,981 598.5,979.9 599,978.8 599.5,977.5 600,976.2 600.5,974.7 601,973 601.5,971.2 602,969.2 602.5,967 603,964.6 603.5,961.9 604,958.8 604.5,955.4 605,951.6 605.5,947.3 606,942.6 606.5,937.3 607,931.4 607.5,925 608,918.2 608.5,911 609,903.6 609.5,896.4 610,889.6 610.5,883.7 611,879.1 611.5,876.1 612,874.8 612.5,875.4 613,877.6 613.5,881.3 614,885.9 614.5,891.2 615,896.7 615.5,902.1 616,907.2 616.5,911.8 617,915.9 617.5,919.3 618,922.1 618.5,924.4 619,926 619.5,927.2 620,927.9 620.5,928.2 621,928 621.5,927.4 622,926.5 622.5,925.3 623,923.7 623.5,921.7 624,919.5 624.5,916.9 625,914 625.5,910.8 626,907.2 626.5,903.3 627,899 627.5,894.4 628,889.5 628.5,884.2 629,878.5 629.5,872.5 630,866.1 630.5,859.5 631,852.5 631.5,845.3 632,837.9 632.5,830.4 633,822.9 633.5,815.5 634,808.2 634.5,801.3 635,794.9 635.5,789.1 636,784 636.5,779.9 637,776.7 637.5,774.7 638,773.8 638.5,774 639,775.4 639.5,777.9 640,781.4 640.5,785.8 641,790.9 641.5,796.6 642,802.8 642.5,809.3 643,816 643.5,822.8 644,829.5 644.5,836.1 645,842.5 645.5,848.6 646,854.4 646.5,859.8 647,864.9 647.5,869.6 648,873.9 648.5,877.8 649,881.3 649.5,884.4 650,887.1 650.5,889.4 651,891.4 651.5,892.9 652,894.1 652.5,894.9 653,895.3 653.5,895.3 654,895 654.5,894.3 655,893.2 655.5,891.7 656,889.8 656.5,887.5 657,884.9 657.5,881.8 658,878.3 658.5,874.5 659,870.3 659.5,865.8 660,861 660.5,856 661,850.9 661.5,845.7 662,840.6 662.5,835.7 663,831.1 663.5,827 664,823.6 664.5,820.9 665,819.1 665.5,818.3 666,818.5 666.5,819.7 667,822 667.5,825.2 668,829.2 668.5,834 669,839.4 669.5,845.2 670,851.4 670.5,857.6 671,864 671.5,870.3 672,876.4 672.5,882.3 673,888 673.5,893.4 674,898.4 674.5,903.2 675,907.6 675.5,911.6 676,915.4 676.5,918.7 677,921.8 677.5,924.6 678,927 678.5,929.2 679,931 679.5,932.6 680,933.8 680.5,934.8 681,935.5 681.5,935.8 682,935.9 682.5,935.6 683,934.9 683.5,933.9 684,932.5 684.5,930.7 685,928.4 685.5,925.6 686,922.3 686.5,918.4 687,914 687.5,909.1 688,903.8 688.5,898.2 689,892.4 689.5,886.8 690,881.5 690.5,876.9 691,873.4 691.5,871.1 692,870.3 692.5,871 693,873.1 693.5,876.4 694,880.6 694.5,885.4 695,890.5 695.5,895.5 696,900.2 696.5,904.4 697,908 697.5,910.9 698,913 698.5,914.3 699,914.8 699.5,914.6 700,913.6 700.5,911.9 701,909.6 701.5,906.8 702,903.7 702.5,900.5 703,897.4 703.5,894.7 704,892.8 704.5,891.7 705,891.7 705.5,892.7 706,894.7 706.5,897.5 707,900.9 707.5,904.5 708,908.2 708.5,911.6 709,914.5 709.5,916.8 710,918.4 710.5,919.1 711,918.9 711.5,917.8 712,915.8 712.5,913 713,909.4 713.5,905.5 714,901.4 714.5,897.5 715,894.5 715.5,892.6 716,892.2 716.5,893.7 717,896.8 717.5,901.5 718,907.3 718.5,914 719,920.9 719.5,927.9 720,934.5 720.5,940.6 721,946.2 721.5,951.2 722,955.6 722.5,959.4 723,962.8 723.5,965.7 724,968.2 724.5,970.4 725,972.3 725.5,974 726,975.4 726.5,976.6 727,977.6 727.5,978.4 728,979.1 728.5,979.7 729,980.1 729.5,980.4 730,980.6 730.5,980.7 731,980.7 731.5,980.6 732,980.4 732.5,980.2 733,979.9 733.5,979.6 734,979.3 734.5,979 735,978.8 735.5,978.7 736,978.6 736.5,978.6 737,978.7 737.5,978.8 738,979 738.5,979.2 739,979.5 739.5,979.7 740,979.9 740.5,980 741,980.1 741.5,980.2 742,980.2 742.5,980.1 743,980 743.5,979.9 744,979.8 744.5,979.6 745,979.5 745.5,979.4 746,979.3 746.5,979.3 747,979.3 747.5,979.4 748,979.6 748.5,979.8 749,980.1 749.5,980.4 750,980.7 750.5,981.1 751,981.5 751.5,981.8 752,982.2 752.5,982.5 753,982.7 753.5,982.9 754,983 754.5,982.9 755,982.8 755.5,982.6 756,982.2 756.5,981.7 757,981 757.5,980.2 758,979.1 758.5,977.8 759,976.2 759.5,974.3 760,972.1 760.5,969.6 761,966.7 761.5,963.4 762,959.8 762.5,956 763,952.1 763.5,948.2 764,944.7 764.5,941.7 765,939.5 765.5,938.3 766,938.3 766.5,939.5 767,941.7 767.5,944.8 768,948.5 768.5,952.6 769,956.8 769.5,960.9 770,964.8 770.5,968.4 771,971.6 771.5,974.5 772,977.1 772.5,979.3 773,981.2 773.5,982.9 774,984.4 774.5,985.6 775,986.7 775.5,987.6 776,988.4 776.5,989 777,989.5 777.5,989.9 778,990.3 778.5,990.5 779,990.6 779.5,990.7 780,990.7 780.5,990.6 781,990.5 781.5,990.3 782,990 782.5,989.8 783,989.5 783.5,989.1 784,988.8 784.5,988.4 785,988.1 785.5,987.8 786,987.5 786.5,987.3 787,987.2 787.5,987.1 788,987.1 788.5,987.2 789,987.3 789.5,987.5 790,987.7 790.5,988 791,988.2 791.5,988.5 792,988.7 792.5,988.9 793,989 793.5,989.1 794,989.1 794.5,989 795,988.8 795.5,988.6 796,988.3 796.5,987.9 797,987.4 797.5,987 798,986.5 798.5,986 799,985.6 799.5,985.3 800,985.1 800.5,985.1 801,985.2 801.5,985.6 802,986.1 802.5,986.8 803,987.6 803.5,988.5 804,989.5 804.5,990.6 805,991.6 805.5,992.7 806,993.6 806.5,994.6 807,995.5 807.5,996.3 808,997.1 808.5,997.8 809,998.4 809.5,999 810,999.5 810.5,1000 811,1000.5 811.5,1000.9 812,1001.3 812.5,1001.7 813,1002 813.5,1002.3 814,1002.6 814.5,1002.8 815,1003.1 815.5,1003.3 816,1003.5 816.5,1003.7 817,1003.9 817.5,1004 818,1004.2 818.5,1004.4 819,1004.5 819.5,1004.6 820,1004.8 820.5,1004.9 821,1005 821.5,1005.1 822,1005.2 822.5,1005.3 823,1005.4 823.5,1005.5 824,1005.6 824.5,1005.7 825,1005.7 825.5,1005.8 826,1005.9 826.5,1006 827,1006 827.5,1006.1 828,1006.2 828.5,1006.2 829,1006.3 829.5,1006.3 830,1006.4 830.5,1006.4 831,1006.5 831.5,1006.5 832,1006.6 832.5,1006.6 833,1006.7 833.5,1006.7 834,1006.8 834.5,1006.8 835,1006.8 835.5,1006.9 836,1006.9" fill="none" stroke="#000" stroke-width="2.9" stroke-linejoin="round"/>
<text x="315.0" y="1092.8" font-size="27" font-weight="bold" fill="#000" textLength="279.5" lengthAdjust="spacingAndGlyphs">Wavenumber [cm<tspan dy="-11" font-size="19">-1</tspan><tspan dy="11">]</tspan></text>
<text transform="translate(41.0,1005.9000000000001) rotate(-90)" x="0" y="0" font-size="52" font-weight="bold" fill="#000" textLength="232.2" lengthAdjust="spacingAndGlyphs">DNA/RNA</text>
<text x="398.6" y="120.9" font-size="27.5" font-weight="bold" fill="#000" textLength="159.6" lengthAdjust="spacingAndGlyphs">Single band</text>
<text x="398.6" y="153.2" font-size="27.5" font-weight="bold" fill="#000" textLength="165.2" lengthAdjust="spacingAndGlyphs">voigt profile</text>
<path d="M493.3,164.4 L636,218.3" stroke="#333" stroke-width="1.1" fill="none"/>
<path d="M646.3,222.2 L637,212.1 L632.3,224.2 Z" fill="#111"/>
</svg></body></html>
